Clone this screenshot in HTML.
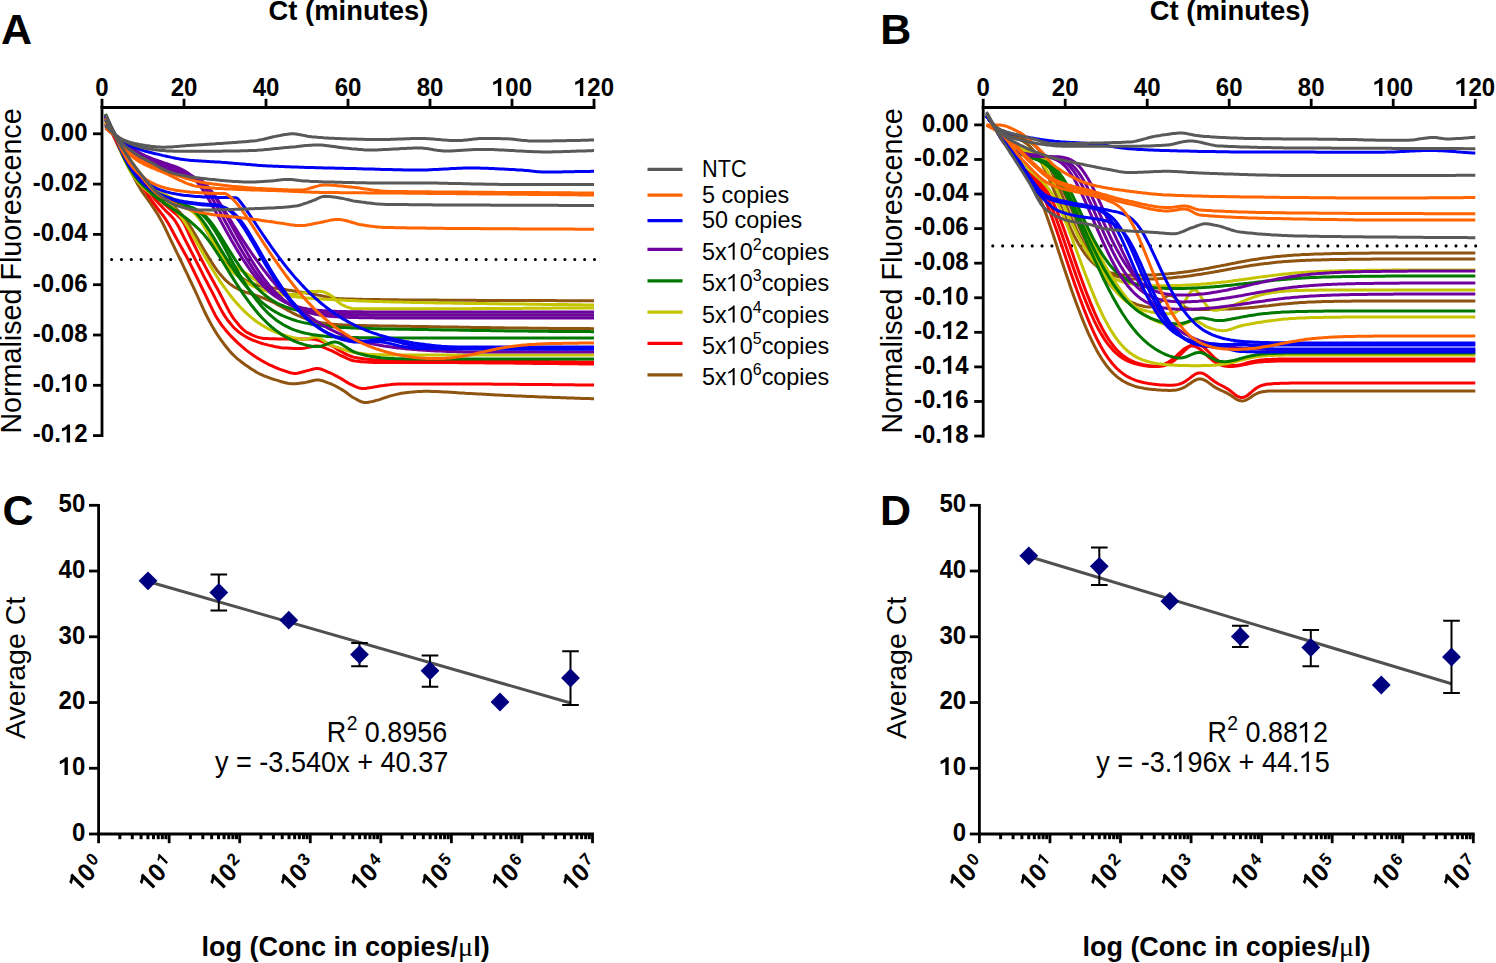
<!DOCTYPE html>
<html><head><meta charset="utf-8"><style>
html,body{margin:0;padding:0;background:#fff;}
svg{display:block;}
</style></head><body>
<svg width="1496" height="963" viewBox="0 0 1496 963">
<rect width="1496" height="963" fill="#fff"/>
<path d="M111.60 259.55 H595.00" stroke="#000" stroke-width="3.1" stroke-linecap="round" stroke-dasharray="0.01 9.845" fill="none"/>
<path d="M992.80 245.90 H1476.20" stroke="#000" stroke-width="3.1" stroke-linecap="round" stroke-dasharray="0.01 9.845" fill="none"/>
<path d="M105.5 115.0 107.5 120.3 109.5 125.6 111.5 130.8 113.5 135.6 115.5 140.2 117.5 144.6 119.5 148.9 121.5 153.1 123.5 157.2 125.5 161.2 127.5 165.2 129.5 169.0 131.5 172.8 133.5 176.6 135.5 180.3 137.5 184.0 139.5 187.4 141.5 190.7 143.5 193.7 145.5 196.4 147.5 199.2 149.5 201.9 151.5 204.8 153.5 207.8 155.5 210.9 157.5 214.0 159.5 217.4 161.5 220.9 163.5 224.8 165.5 228.9 167.5 233.2 169.5 237.4 171.5 241.6 173.5 245.7 175.5 249.8 177.5 253.9 179.5 258.0 181.5 262.2 183.5 266.4 185.5 270.6 187.5 274.7 189.5 279.0 191.5 283.2 193.5 287.4 195.5 291.6 197.5 296.0 199.5 300.5 201.5 304.9 203.5 309.3 205.5 313.5 207.5 317.5 209.5 321.3 211.5 324.9 213.5 328.4 215.5 331.7 217.5 334.9 219.5 337.9 221.5 340.7 223.5 343.4 225.5 346.0 227.5 348.5 229.5 350.9 231.5 353.1 233.5 355.1 235.5 357.0 237.5 358.8 239.5 360.4 241.5 362.0 243.5 363.5 245.5 365.0 247.5 366.3 249.5 367.7 251.5 369.1 253.5 370.3 255.5 371.6 257.5 372.7 259.5 373.8 261.5 374.7 263.5 375.6 265.5 376.4 267.5 377.2 269.5 377.9 271.5 378.6 273.5 379.3 275.5 379.9 277.5 380.4 279.5 381.1 281.5 381.7 283.5 382.3 285.5 382.8 287.5 383.3 289.5 383.6 291.5 383.8 293.5 383.8 295.5 383.7 297.5 383.5 299.5 383.3 301.5 383.0 303.5 382.7 305.5 382.4 307.5 382.0 309.5 381.5 311.5 381.0 313.5 380.5 315.5 380.1 317.5 380.0 319.5 380.1 321.5 380.5 323.5 381.1 325.5 381.8 327.5 382.6 329.5 383.3 331.5 384.1 333.5 385.0 335.5 386.0 337.5 387.1 339.5 388.2 341.5 389.4 343.5 390.6 345.5 392.0 347.5 393.5 349.5 395.1 351.5 396.5 353.5 397.7 355.5 398.8 357.5 399.9 359.5 401.0 361.5 401.8 363.5 402.4 365.5 402.5 367.5 402.4 369.5 402.1 371.5 401.6 373.5 401.2 375.5 400.6 377.5 400.1 379.5 399.6 381.5 398.9 383.5 398.2 385.5 397.5 387.5 396.8 389.5 396.1 391.5 395.6 393.5 395.1 395.5 394.6 397.5 394.1 399.5 393.7 401.5 393.3 403.5 393.0 405.5 392.7 407.5 392.4 409.5 392.2 411.5 392.1 413.5 391.9 415.5 391.7 417.5 391.6 419.5 391.4 421.5 391.4 423.5 391.3 425.5 391.3 427.5 391.3 429.5 391.3 431.5 391.4 433.5 391.4 435.5 391.5 437.5 391.6 439.5 391.7 441.5 391.8 443.5 391.9 445.5 392.0 447.5 392.1 449.5 392.2 451.5 392.3 453.5 392.5 455.5 392.6 457.5 392.7 459.5 392.9 461.5 393.0 463.5 393.1 465.5 393.3 467.5 393.4 469.5 393.5 471.5 393.6 473.5 393.7 475.5 393.8 477.5 393.9 479.5 394.0 481.5 394.1 483.5 394.2 485.5 394.3 487.5 394.4 489.5 394.5 491.5 394.7 493.5 394.8 495.5 394.9 497.5 395.0 499.5 395.1 501.5 395.2 503.5 395.3 505.5 395.4 507.5 395.5 509.5 395.6 511.5 395.7 513.5 395.8 515.5 395.9 517.5 396.0 519.5 396.1 521.5 396.1 523.5 396.2 525.5 396.3 527.5 396.4 529.5 396.5 531.5 396.6 533.5 396.6 535.5 396.7 537.5 396.8 539.5 396.9 541.5 397.0 543.5 397.0 545.5 397.1 547.5 397.2 549.5 397.3 551.5 397.3 553.5 397.4 555.5 397.5 557.5 397.5 559.5 397.6 561.5 397.7 563.5 397.7 565.5 397.8 567.5 397.9 569.5 397.9 571.5 398.0 573.5 398.1 575.5 398.2 577.5 398.2 579.5 398.3 581.5 398.4 583.5 398.4 585.5 398.5 587.5 398.6 589.5 398.6 591.5 398.7 593.5 398.8 594.0 398.8" fill="none" stroke="#8e5410" stroke-width="3.0" stroke-linejoin="round" stroke-linecap="butt"/>
<path d="M105.5 121.0 107.5 124.0 109.5 127.0 111.5 130.1 113.5 133.1 115.5 136.2 117.5 139.4 119.5 142.8 121.5 146.2 123.5 149.7 125.5 153.0 127.5 156.3 129.5 159.3 131.5 162.1 133.5 164.8 135.5 167.5 137.5 170.2 139.5 172.7 141.5 175.1 143.5 177.4 145.5 179.6 147.5 181.7 149.5 183.6 151.5 185.3 153.5 186.9 155.5 188.4 157.5 189.9 159.5 191.3 161.5 192.6 163.5 193.9 165.5 195.1 167.5 196.4 169.5 197.6 171.5 198.8 173.5 200.1 175.5 201.3 177.5 202.5 179.5 203.6 181.5 204.6 183.5 205.6 185.5 206.6 187.5 207.7 189.5 208.9 191.5 210.2 193.5 211.7 195.5 213.5 197.5 215.7 199.5 218.4 201.5 221.6 203.5 225.0 205.5 228.6 207.5 232.3 209.5 235.8 211.5 239.2 213.5 242.4 215.5 245.8 217.5 249.2 219.5 252.6 221.5 255.9 223.5 259.0 225.5 261.9 227.5 264.4 229.5 266.7 231.5 268.8 233.5 270.9 235.5 272.8 237.5 274.6 239.5 276.3 241.5 277.8 243.5 279.1 245.5 280.3 247.5 281.3 249.5 282.3 251.5 283.2 253.5 284.0 255.5 284.8 257.5 285.4 259.5 285.9 261.5 286.3 263.5 286.7 265.5 287.0 267.5 287.2 269.5 287.5 271.5 287.7 273.5 288.0 275.5 288.2 277.5 288.5 279.5 288.7 281.5 289.0 283.5 289.3 285.5 289.6 287.5 290.0 289.5 290.3 291.5 290.6 293.5 290.9 295.5 291.3 297.5 291.6 299.5 291.9 301.5 292.2 303.5 292.6 305.5 292.9 307.5 293.2 309.5 293.6 311.5 293.9 313.5 294.2 315.5 294.6 317.5 295.0 319.5 295.4 321.5 295.8 323.5 296.2 325.5 296.6 327.5 297.0 329.5 297.4 331.5 297.7 333.5 298.0 335.5 298.3 337.5 298.5 339.5 298.7 341.5 298.8 343.5 298.8 345.5 298.9 347.5 299.0 349.5 299.0 351.5 299.1 353.5 299.1 355.5 299.2 357.5 299.2 359.5 299.3 361.5 299.3 363.5 299.4 365.5 299.4 367.5 299.4 369.5 299.5 371.5 299.5 373.5 299.5 375.5 299.6 377.5 299.6 379.5 299.6 381.5 299.7 383.5 299.7 385.5 299.7 387.5 299.7 389.5 299.8 391.5 299.8 393.5 299.8 395.5 299.8 397.5 299.8 399.5 299.9 401.5 299.9 403.5 299.9 405.5 299.9 407.5 299.9 409.5 299.9 411.5 300.0 413.5 300.0 415.5 300.0 417.5 300.0 419.5 300.0 421.5 300.0 423.5 300.0 425.5 300.1 427.5 300.1 429.5 300.1 431.5 300.1 433.5 300.1 435.5 300.1 437.5 300.1 439.5 300.2 441.5 300.2 443.5 300.2 445.5 300.2 447.5 300.2 449.5 300.2 451.5 300.2 453.5 300.2 455.5 300.2 457.5 300.3 459.5 300.3 461.5 300.3 463.5 300.3 465.5 300.3 467.5 300.3 469.5 300.3 471.5 300.3 473.5 300.3 475.5 300.3 477.5 300.4 479.5 300.4 481.5 300.4 483.5 300.4 485.5 300.4 487.5 300.4 489.5 300.4 491.5 300.4 493.5 300.4 495.5 300.4 497.5 300.4 499.5 300.4 501.5 300.5 503.5 300.5 505.5 300.5 507.5 300.5 509.5 300.5 511.5 300.5 513.5 300.5 515.5 300.5 517.5 300.5 519.5 300.5 521.5 300.5 523.5 300.5 525.5 300.5 527.5 300.5 529.5 300.6 531.5 300.6 533.5 300.6 535.5 300.6 537.5 300.6 539.5 300.6 541.5 300.6 543.5 300.6 545.5 300.6 547.5 300.6 549.5 300.6 551.5 300.6 553.5 300.6 555.5 300.6 557.5 300.7 559.5 300.7 561.5 300.7 563.5 300.7 565.5 300.7 567.5 300.7 569.5 300.7 571.5 300.7 573.5 300.7 575.5 300.7 577.5 300.7 579.5 300.7 581.5 300.7 583.5 300.8 585.5 300.8 587.5 300.8 589.5 300.8 591.5 300.8 593.5 300.8 594.0 300.8" fill="none" stroke="#8e5410" stroke-width="3.0" stroke-linejoin="round" stroke-linecap="butt"/>
<path d="M105.5 116.0 107.5 120.0 109.5 124.0 111.5 128.0 113.5 132.0 115.5 136.0 117.5 141.6 119.5 147.2 121.5 152.3 123.5 157.0 125.5 161.2 127.5 165.1 129.5 168.7 131.5 172.0 133.5 174.9 135.5 177.7 137.5 180.1 139.5 182.4 141.5 184.5 143.5 186.4 145.5 188.2 147.5 189.8 149.5 191.3 151.5 192.7 153.5 194.0 155.5 195.3 157.5 196.5 159.5 197.6 161.5 198.8 163.5 199.9 165.5 201.1 167.5 202.3 169.5 203.6 171.5 204.9 173.5 206.5 175.5 208.2 177.5 210.0 179.5 212.1 181.5 214.3 183.5 216.8 185.5 219.5 187.5 222.3 189.5 225.3 191.5 228.5 193.5 231.8 195.5 235.1 197.5 238.5 199.5 242.0 201.5 245.4 203.5 248.9 205.5 252.3 207.5 255.6 209.5 258.9 211.5 262.1 213.5 265.1 215.5 268.0 217.5 270.8 219.5 273.4 221.5 275.8 223.5 278.0 225.5 280.1 227.5 281.9 229.5 283.6 231.5 285.1 233.5 286.5 235.5 287.7 237.5 288.7 239.5 289.7 241.5 290.6 243.5 291.3 245.5 292.1 247.5 292.8 249.5 293.4 251.5 294.1 253.5 294.7 255.5 295.3 257.5 296.0 259.5 296.7 261.5 297.4 263.5 298.1 265.5 298.9 267.5 299.8 269.5 300.6 271.5 301.6 273.5 302.5 275.5 303.5 277.5 304.6 279.5 305.6 281.5 306.7 283.5 307.9 285.5 309.0 287.5 310.1 289.5 311.2 291.5 312.3 293.5 313.3 295.5 314.3 297.5 315.3 299.5 316.2 301.5 317.1 303.5 317.9 305.5 318.6 307.5 319.3 309.5 320.0 311.5 320.5 313.5 321.1 315.5 321.6 317.5 322.0 319.5 322.4 321.5 322.8 323.5 323.1 325.5 323.4 327.5 323.6 329.5 323.9 331.5 324.1 333.5 324.2 335.5 324.4 337.5 324.6 339.5 324.7 341.5 324.8 343.5 324.9 345.5 325.0 347.5 325.1 349.5 325.2 351.5 325.3 353.5 325.3 355.5 325.4 357.5 325.4 359.5 325.5 361.5 325.5 363.5 325.6 365.5 325.6 367.5 325.7 369.5 325.7 371.5 325.7 373.5 325.8 375.5 325.8 377.5 325.8 379.5 325.9 381.5 325.9 383.5 325.9 385.5 326.0 387.5 326.0 389.5 326.0 391.5 326.1 393.5 326.1 395.5 326.1 397.5 326.2 399.5 326.2 401.5 326.2 403.5 326.2 405.5 326.3 407.5 326.3 409.5 326.3 411.5 326.4 413.5 326.4 415.5 326.4 417.5 326.5 419.5 326.5 421.5 326.5 423.5 326.6 425.5 326.6 427.5 326.6 429.5 326.7 431.5 326.7 433.5 326.7 435.5 326.8 437.5 326.8 439.5 326.8 441.5 326.9 443.5 326.9 445.5 326.9 447.5 327.0 449.5 327.0 451.5 327.0 453.5 327.1 455.5 327.1 457.5 327.1 459.5 327.2 461.5 327.2 463.5 327.2 465.5 327.3 467.5 327.3 469.5 327.3 471.5 327.4 473.5 327.4 475.5 327.4 477.5 327.4 479.5 327.5 481.5 327.5 483.5 327.5 485.5 327.6 487.5 327.6 489.5 327.6 491.5 327.7 493.5 327.7 495.5 327.7 497.5 327.8 499.5 327.8 501.5 327.8 503.5 327.8 505.5 327.9 507.5 327.9 509.5 327.9 511.5 327.9 513.5 328.0 515.5 328.0 517.5 328.0 519.5 328.0 521.5 328.1 523.5 328.1 525.5 328.1 527.5 328.1 529.5 328.2 531.5 328.2 533.5 328.2 535.5 328.2 537.5 328.2 539.5 328.3 541.5 328.3 543.5 328.3 545.5 328.3 547.5 328.3 549.5 328.4 551.5 328.4 553.5 328.4 555.5 328.4 557.5 328.4 559.5 328.4 561.5 328.5 563.5 328.5 565.5 328.5 567.5 328.5 569.5 328.5 571.5 328.5 573.5 328.5 575.5 328.6 577.5 328.6 579.5 328.6 581.5 328.6 583.5 328.6 585.5 328.6 587.5 328.6 589.5 328.6 591.5 328.7 593.5 328.7 594.0 328.7" fill="none" stroke="#8e5410" stroke-width="3.0" stroke-linejoin="round" stroke-linecap="butt"/>
<path d="M105.5 126.0 107.5 127.9 109.5 129.7 111.5 131.9 113.5 134.9 115.5 139.1 117.5 143.7 119.5 148.0 121.5 151.7 123.5 155.2 125.5 158.5 127.5 161.8 129.5 165.2 131.5 168.6 133.5 172.0 135.5 175.5 137.5 178.9 139.5 182.2 141.5 185.4 143.5 188.4 145.5 191.4 147.5 194.4 149.5 197.3 151.5 200.1 153.5 202.9 155.5 205.6 157.5 208.3 159.5 211.0 161.5 213.6 163.5 216.2 165.5 219.0 167.5 222.1 169.5 225.5 171.5 229.2 173.5 233.0 175.5 236.7 177.5 240.4 179.5 244.0 181.5 247.6 183.5 251.2 185.5 254.8 187.5 258.5 189.5 262.4 191.5 266.4 193.5 270.5 195.5 274.6 197.5 278.7 199.5 282.9 201.5 287.0 203.5 291.0 205.5 295.1 207.5 299.4 209.5 303.6 211.5 307.7 213.5 311.7 215.5 315.5 217.5 318.9 219.5 321.9 221.5 324.8 223.5 327.4 225.5 329.9 227.5 332.2 229.5 334.5 231.5 336.6 233.5 338.6 235.5 340.6 237.5 342.6 239.5 344.4 241.5 346.2 243.5 347.9 245.5 349.6 247.5 351.1 249.5 352.6 251.5 354.1 253.5 355.4 255.5 356.8 257.5 358.1 259.5 359.3 261.5 360.5 263.5 361.6 265.5 362.7 267.5 363.8 269.5 364.8 271.5 365.7 273.5 366.6 275.5 367.5 277.5 368.3 279.5 369.1 281.5 369.8 283.5 370.5 285.5 371.2 287.5 371.8 289.5 372.5 291.5 373.0 293.5 373.4 295.5 373.5 297.5 373.3 299.5 372.8 301.5 372.3 303.5 371.7 305.5 371.1 307.5 370.6 309.5 370.1 311.5 369.5 313.5 369.0 315.5 368.6 317.5 368.5 319.5 368.7 321.5 369.3 323.5 370.0 325.5 370.9 327.5 371.8 329.5 372.6 331.5 373.5 333.5 374.5 335.5 375.6 337.5 376.6 339.5 377.7 341.5 378.9 343.5 380.1 345.5 381.4 347.5 382.6 349.5 383.8 351.5 384.7 353.5 385.7 355.5 386.6 357.5 387.4 359.5 388.1 361.5 388.4 363.5 388.5 365.5 388.4 367.5 388.1 369.5 387.8 371.5 387.5 373.5 387.1 375.5 386.7 377.5 386.4 379.5 386.1 381.5 385.8 383.5 385.6 385.5 385.3 387.5 385.0 389.5 384.8 391.5 384.5 393.5 384.3 395.5 384.2 397.5 384.1 399.5 384.0 401.5 384.0 403.5 384.0 405.5 384.0 407.5 384.0 409.5 384.0 411.5 384.0 413.5 384.0 415.5 384.0 417.5 384.0 419.5 384.0 421.5 384.0 423.5 384.0 425.5 384.0 427.5 384.0 429.5 384.0 431.5 384.0 433.5 384.0 435.5 384.0 437.5 384.0 439.5 384.0 441.5 384.0 443.5 384.0 445.5 384.0 447.5 384.0 449.5 384.0 451.5 384.0 453.5 384.0 455.5 384.0 457.5 384.0 459.5 384.0 461.5 384.0 463.5 384.0 465.5 384.0 467.5 384.0 469.5 384.0 471.5 384.0 473.5 384.0 475.5 384.1 477.5 384.1 479.5 384.1 481.5 384.1 483.5 384.1 485.5 384.1 487.5 384.1 489.5 384.1 491.5 384.1 493.5 384.2 495.5 384.2 497.5 384.2 499.5 384.2 501.5 384.2 503.5 384.2 505.5 384.2 507.5 384.3 509.5 384.3 511.5 384.3 513.5 384.3 515.5 384.3 517.5 384.3 519.5 384.4 521.5 384.4 523.5 384.4 525.5 384.4 527.5 384.4 529.5 384.4 531.5 384.5 533.5 384.5 535.5 384.5 537.5 384.5 539.5 384.5 541.5 384.6 543.5 384.6 545.5 384.6 547.5 384.6 549.5 384.6 551.5 384.6 553.5 384.7 555.5 384.7 557.5 384.7 559.5 384.7 561.5 384.7 563.5 384.8 565.5 384.8 567.5 384.8 569.5 384.8 571.5 384.8 573.5 384.8 575.5 384.9 577.5 384.9 579.5 384.9 581.5 384.9 583.5 384.9 585.5 384.9 587.5 385.0 589.5 385.0 591.5 385.0 593.5 385.0 594.0 385.0" fill="none" stroke="#fa0000" stroke-width="3.0" stroke-linejoin="round" stroke-linecap="butt"/>
<path d="M105.5 117.0 107.5 121.9 109.5 126.8 111.5 131.4 113.5 135.5 115.5 139.4 117.5 143.0 119.5 146.5 121.5 149.8 123.5 153.1 125.5 156.2 127.5 159.2 129.5 162.2 131.5 165.2 133.5 168.3 135.5 171.5 137.5 174.6 139.5 177.7 141.5 180.8 143.5 183.7 145.5 186.6 147.5 189.4 149.5 192.2 151.5 194.8 153.5 197.4 155.5 199.8 157.5 202.0 159.5 204.2 161.5 206.3 163.5 208.5 165.5 210.5 167.5 212.5 169.5 214.4 171.5 216.4 173.5 218.7 175.5 221.4 177.5 224.8 179.5 228.5 181.5 232.5 183.5 236.6 185.5 240.5 187.5 244.3 189.5 248.2 191.5 252.1 193.5 256.0 195.5 259.9 197.5 263.8 199.5 267.7 201.5 271.6 203.5 275.6 205.5 279.5 207.5 283.3 209.5 287.2 211.5 290.9 213.5 294.8 215.5 298.8 217.5 302.8 219.5 306.7 221.5 310.4 223.5 313.9 225.5 317.2 227.5 320.0 229.5 322.5 231.5 324.9 233.5 327.2 235.5 329.2 237.5 331.0 239.5 332.6 241.5 334.0 243.5 335.3 245.5 336.5 247.5 337.6 249.5 338.6 251.5 339.6 253.5 340.4 255.5 341.2 257.5 341.9 259.5 342.6 261.5 343.3 263.5 343.9 265.5 344.4 267.5 344.9 269.5 345.4 271.5 345.8 273.5 346.3 275.5 346.7 277.5 347.0 279.5 347.4 281.5 347.7 283.5 347.9 285.5 348.0 287.5 348.1 289.5 348.2 291.5 348.3 293.5 348.4 295.5 348.4 297.5 348.5 299.5 348.5 301.5 348.4 303.5 348.2 305.5 347.9 307.5 347.5 309.5 347.1 311.5 346.7 313.5 346.3 315.5 346.1 317.5 346.0 319.5 346.2 321.5 346.6 323.5 347.3 325.5 348.1 327.5 349.0 329.5 349.8 331.5 350.6 333.5 351.6 335.5 352.7 337.5 353.7 339.5 354.8 341.5 355.8 343.5 356.7 345.5 357.6 347.5 358.6 349.5 359.5 351.5 360.2 353.5 360.8 355.5 361.1 357.5 361.3 359.5 361.5 361.5 361.7 363.5 361.8 365.5 362.0 367.5 362.1 369.5 362.2 371.5 362.3 373.5 362.4 375.5 362.4 377.5 362.5 379.5 362.5 381.5 362.5 383.5 362.5 385.5 362.5 387.5 362.5 389.5 362.5 391.5 362.5 393.5 362.5 395.5 362.5 397.5 362.5 399.5 362.5 401.5 362.5 403.5 362.5 405.5 362.5 407.5 362.5 409.5 362.5 411.5 362.5 413.5 362.5 415.5 362.5 417.5 362.5 419.5 362.5 421.5 362.5 423.5 362.5 425.5 362.5 427.5 362.5 429.5 362.5 431.5 362.5 433.5 362.5 435.5 362.5 437.5 362.5 439.5 362.5 441.5 362.6 443.5 362.6 445.5 362.6 447.5 362.6 449.5 362.6 451.5 362.6 453.5 362.6 455.5 362.6 457.5 362.6 459.5 362.7 461.5 362.7 463.5 362.7 465.5 362.7 467.5 362.7 469.5 362.7 471.5 362.7 473.5 362.8 475.5 362.8 477.5 362.8 479.5 362.8 481.5 362.8 483.5 362.8 485.5 362.9 487.5 362.9 489.5 362.9 491.5 362.9 493.5 362.9 495.5 363.0 497.5 363.0 499.5 363.0 501.5 363.0 503.5 363.0 505.5 363.1 507.5 363.1 509.5 363.1 511.5 363.1 513.5 363.1 515.5 363.2 517.5 363.2 519.5 363.2 521.5 363.2 523.5 363.3 525.5 363.3 527.5 363.3 529.5 363.3 531.5 363.3 533.5 363.4 535.5 363.4 537.5 363.4 539.5 363.4 541.5 363.5 543.5 363.5 545.5 363.5 547.5 363.5 549.5 363.6 551.5 363.6 553.5 363.6 555.5 363.6 557.5 363.6 559.5 363.7 561.5 363.7 563.5 363.7 565.5 363.7 567.5 363.7 569.5 363.8 571.5 363.8 573.5 363.8 575.5 363.8 577.5 363.8 579.5 363.9 581.5 363.9 583.5 363.9 585.5 363.9 587.5 363.9 589.5 364.0 591.5 364.0 593.5 364.0 594.0 364.0" fill="none" stroke="#fa0000" stroke-width="3.0" stroke-linejoin="round" stroke-linecap="butt"/>
<path d="M105.5 124.0 107.5 126.6 109.5 129.1 111.5 131.8 113.5 134.8 115.5 138.1 117.5 141.5 119.5 145.0 121.5 148.2 123.5 151.3 125.5 154.2 127.5 157.0 129.5 159.7 131.5 162.5 133.5 165.3 135.5 168.1 137.5 171.0 139.5 173.9 141.5 176.8 143.5 179.6 145.5 182.3 147.5 185.0 149.5 187.7 151.5 190.3 153.5 192.8 155.5 195.2 157.5 197.5 159.5 199.5 161.5 201.5 163.5 203.3 165.5 205.0 167.5 206.8 169.5 208.5 171.5 210.3 173.5 212.0 175.5 213.6 177.5 215.4 179.5 217.3 181.5 219.6 183.5 222.6 185.5 226.4 187.5 230.8 189.5 235.2 191.5 239.5 193.5 243.5 195.5 247.6 197.5 251.6 199.5 255.6 201.5 259.5 203.5 263.3 205.5 267.1 207.5 270.8 209.5 274.5 211.5 278.2 213.5 281.8 215.5 285.5 217.5 289.1 219.5 292.8 221.5 296.6 223.5 300.5 225.5 304.4 227.5 308.3 229.5 311.9 231.5 315.3 233.5 318.3 235.5 320.9 237.5 323.3 239.5 325.7 241.5 327.9 243.5 329.8 245.5 331.4 247.5 332.7 249.5 333.7 251.5 334.7 253.5 335.6 255.5 336.4 257.5 337.1 259.5 337.6 261.5 338.1 263.5 338.4 265.5 338.5 267.5 338.6 269.5 338.7 271.5 338.7 273.5 338.8 275.5 338.8 277.5 338.9 279.5 338.9 281.5 338.9 283.5 339.0 285.5 339.0 287.5 339.0 289.5 339.0 291.5 339.0 293.5 339.0 295.5 339.0 297.5 339.0 299.5 339.0 301.5 339.0 303.5 339.0 305.5 339.0 307.5 339.0 309.5 339.0 311.5 339.0 313.5 339.2 315.5 339.5 317.5 340.0 319.5 340.6 321.5 341.4 323.5 342.2 325.5 343.1 327.5 343.9 329.5 344.8 331.5 345.7 333.5 346.8 335.5 348.1 337.5 349.4 339.5 350.6 341.5 351.7 343.5 352.8 345.5 353.8 347.5 354.8 349.5 355.7 351.5 356.5 353.5 357.2 355.5 357.6 357.5 357.9 359.5 358.2 361.5 358.5 363.5 358.8 365.5 359.0 367.5 359.2 369.5 359.4 371.5 359.6 373.5 359.7 375.5 359.8 377.5 359.9 379.5 360.0 381.5 360.0 383.5 360.1 385.5 360.1 387.5 360.2 389.5 360.2 391.5 360.2 393.5 360.3 395.5 360.3 397.5 360.3 399.5 360.3 401.5 360.3 403.5 360.4 405.5 360.4 407.5 360.4 409.5 360.4 411.5 360.4 413.5 360.5 415.5 360.5 417.5 360.5 419.5 360.5 421.5 360.5 423.5 360.6 425.5 360.6 427.5 360.6 429.5 360.6 431.5 360.7 433.5 360.7 435.5 360.7 437.5 360.7 439.5 360.7 441.5 360.8 443.5 360.8 445.5 360.8 447.5 360.8 449.5 360.8 451.5 360.8 453.5 360.9 455.5 360.9 457.5 360.9 459.5 360.9 461.5 360.9 463.5 361.0 465.5 361.0 467.5 361.0 469.5 361.0 471.5 361.0 473.5 361.0 475.5 361.1 477.5 361.1 479.5 361.1 481.5 361.1 483.5 361.1 485.5 361.1 487.5 361.2 489.5 361.2 491.5 361.2 493.5 361.2 495.5 361.2 497.5 361.2 499.5 361.3 501.5 361.3 503.5 361.3 505.5 361.3 507.5 361.3 509.5 361.3 511.5 361.4 513.5 361.4 515.5 361.4 517.5 361.4 519.5 361.4 521.5 361.4 523.5 361.4 525.5 361.5 527.5 361.5 529.5 361.5 531.5 361.5 533.5 361.5 535.5 361.5 537.5 361.6 539.5 361.6 541.5 361.6 543.5 361.6 545.5 361.6 547.5 361.6 549.5 361.6 551.5 361.7 553.5 361.7 555.5 361.7 557.5 361.7 559.5 361.7 561.5 361.7 563.5 361.8 565.5 361.8 567.5 361.8 569.5 361.8 571.5 361.8 573.5 361.8 575.5 361.8 577.5 361.9 579.5 361.9 581.5 361.9 583.5 361.9 585.5 361.9 587.5 361.9 589.5 362.0 591.5 362.0 593.5 362.0 594.0 362.0" fill="none" stroke="#fa0000" stroke-width="3.0" stroke-linejoin="round" stroke-linecap="butt"/>
<path d="M105.5 119.0 107.5 122.4 109.5 125.9 111.5 129.3 113.5 132.8 115.5 136.2 117.5 139.5 119.5 143.0 121.5 146.4 123.5 149.8 125.5 153.1 127.5 156.3 129.5 159.3 131.5 162.1 133.5 164.9 135.5 167.6 137.5 170.2 139.5 172.8 141.5 175.2 143.5 177.5 145.5 179.7 147.5 181.7 149.5 183.6 151.5 185.2 153.5 186.8 155.5 188.2 157.5 189.6 159.5 190.9 161.5 192.1 163.5 193.3 165.5 194.5 167.5 195.6 169.5 196.7 171.5 197.9 173.5 199.1 175.5 200.3 177.5 201.5 179.5 202.5 181.5 203.5 183.5 204.5 185.5 205.6 187.5 206.7 189.5 207.9 191.5 209.2 193.5 210.7 195.5 212.5 197.5 214.7 199.5 217.5 201.5 220.7 203.5 224.2 205.5 227.7 207.5 231.2 209.5 234.7 211.5 238.6 213.5 242.8 215.5 246.8 217.5 250.4 219.5 253.4 221.5 255.6 223.5 257.6 225.5 259.3 227.5 260.8 229.5 262.3 231.5 263.7 233.5 265.0 235.5 266.4 237.5 267.8 239.5 269.2 241.5 270.5 243.5 271.8 245.5 273.0 247.5 274.3 249.5 275.6 251.5 277.0 253.5 278.5 255.5 280.1 257.5 281.8 259.5 283.5 261.5 285.0 263.5 286.5 265.5 287.7 267.5 288.7 269.5 289.6 271.5 290.4 273.5 291.2 275.5 291.9 277.5 292.5 279.5 293.0 281.5 293.4 283.5 293.6 285.5 293.9 287.5 294.1 289.5 294.3 291.5 294.4 293.5 294.5 295.5 294.5 297.5 294.3 299.5 293.8 301.5 293.3 303.5 292.9 305.5 292.5 307.5 292.0 309.5 291.6 311.5 291.5 313.5 291.4 315.5 291.4 317.5 291.3 319.5 291.3 321.5 291.4 323.5 291.9 325.5 292.7 327.5 293.7 329.5 294.7 331.5 295.9 333.5 297.5 335.5 299.4 337.5 301.3 339.5 303.1 341.5 304.5 343.5 305.4 345.5 306.3 347.5 307.1 349.5 307.8 351.5 308.4 353.5 308.7 355.5 308.8 357.5 308.8 359.5 308.8 361.5 308.8 363.5 308.8 365.5 308.8 367.5 308.8 369.5 308.8 371.5 308.8 373.5 308.8 375.5 308.8 377.5 308.8 379.5 308.8 381.5 308.8 383.5 308.8 385.5 308.8 387.5 308.8 389.5 308.8 391.5 308.8 393.5 308.8 395.5 308.8 397.5 308.8 399.5 308.8 401.5 308.8 403.5 308.8 405.5 308.8 407.5 308.8 409.5 308.8 411.5 308.8 413.5 308.8 415.5 308.8 417.5 308.8 419.5 308.8 421.5 308.8 423.5 308.8 425.5 308.8 427.5 308.8 429.5 308.8 431.5 308.8 433.5 308.8 435.5 308.8 437.5 308.8 439.5 308.8 441.5 308.8 443.5 308.8 445.5 308.8 447.5 308.8 449.5 308.7 451.5 308.7 453.5 308.7 455.5 308.7 457.5 308.7 459.5 308.7 461.5 308.7 463.5 308.7 465.5 308.7 467.5 308.7 469.5 308.7 471.5 308.7 473.5 308.6 475.5 308.6 477.5 308.6 479.5 308.6 481.5 308.6 483.5 308.6 485.5 308.6 487.5 308.6 489.5 308.6 491.5 308.5 493.5 308.5 495.5 308.5 497.5 308.5 499.5 308.5 501.5 308.5 503.5 308.5 505.5 308.5 507.5 308.4 509.5 308.4 511.5 308.4 513.5 308.4 515.5 308.4 517.5 308.4 519.5 308.4 521.5 308.4 523.5 308.3 525.5 308.3 527.5 308.3 529.5 308.3 531.5 308.3 533.5 308.3 535.5 308.3 537.5 308.2 539.5 308.2 541.5 308.2 543.5 308.2 545.5 308.2 547.5 308.2 549.5 308.2 551.5 308.2 553.5 308.1 555.5 308.1 557.5 308.1 559.5 308.1 561.5 308.1 563.5 308.1 565.5 308.1 567.5 308.1 569.5 308.0 571.5 308.0 573.5 308.0 575.5 308.0 577.5 308.0 579.5 308.0 581.5 308.0 583.5 308.0 585.5 307.9 587.5 307.9 589.5 307.9 591.5 307.9 593.5 307.9 594.0 307.9" fill="none" stroke="#c4c400" stroke-width="3.0" stroke-linejoin="round" stroke-linecap="butt"/>
<path d="M105.5 122.0 107.5 124.8 109.5 127.6 111.5 130.4 113.5 133.3 115.5 136.2 117.5 139.4 119.5 142.7 121.5 146.1 123.5 149.6 125.5 153.0 127.5 156.3 129.5 159.3 131.5 162.1 133.5 164.8 135.5 167.5 137.5 170.2 139.5 172.7 141.5 175.1 143.5 177.4 145.5 179.6 147.5 181.7 149.5 183.6 151.5 185.3 153.5 186.9 155.5 188.4 157.5 189.8 159.5 191.2 161.5 192.5 163.5 193.8 165.5 195.0 167.5 196.3 169.5 197.5 171.5 198.7 173.5 200.0 175.5 201.3 177.5 202.6 179.5 203.8 181.5 204.9 183.5 206.0 185.5 207.2 187.5 208.4 189.5 209.7 191.5 211.1 193.5 212.7 195.5 214.5 197.5 216.6 199.5 219.2 201.5 222.0 203.5 225.1 205.5 228.4 207.5 231.8 209.5 235.2 211.5 238.7 213.5 242.8 215.5 247.1 217.5 251.3 219.5 255.3 221.5 258.7 223.5 261.4 225.5 264.0 227.5 266.4 229.5 268.6 231.5 270.7 233.5 272.6 235.5 274.4 237.5 276.1 239.5 277.6 241.5 279.1 243.5 280.4 245.5 281.8 247.5 283.0 249.5 284.2 251.5 285.3 253.5 286.3 255.5 287.2 257.5 288.1 259.5 288.8 261.5 289.5 263.5 290.1 265.5 290.7 267.5 291.3 269.5 291.9 271.5 292.4 273.5 292.9 275.5 293.4 277.5 293.8 279.5 294.2 281.5 294.6 283.5 295.0 285.5 295.3 287.5 295.6 289.5 295.9 291.5 296.2 293.5 296.5 295.5 296.7 297.5 297.0 299.5 297.2 301.5 297.4 303.5 297.7 305.5 297.9 307.5 298.1 309.5 298.2 311.5 298.4 313.5 298.6 315.5 298.7 317.5 298.8 319.5 299.0 321.5 299.1 323.5 299.2 325.5 299.3 327.5 299.4 329.5 299.5 331.5 299.6 333.5 299.7 335.5 299.8 337.5 299.9 339.5 300.0 341.5 300.1 343.5 300.2 345.5 300.3 347.5 300.4 349.5 300.5 351.5 300.6 353.5 300.6 355.5 300.7 357.5 300.8 359.5 300.9 361.5 300.9 363.5 301.0 365.5 301.1 367.5 301.2 369.5 301.2 371.5 301.3 373.5 301.4 375.5 301.4 377.5 301.5 379.5 301.6 381.5 301.6 383.5 301.7 385.5 301.7 387.5 301.8 389.5 301.8 391.5 301.9 393.5 301.9 395.5 302.0 397.5 302.0 399.5 302.1 401.5 302.1 403.5 302.2 405.5 302.2 407.5 302.3 409.5 302.3 411.5 302.4 413.5 302.4 415.5 302.5 417.5 302.5 419.5 302.6 421.5 302.6 423.5 302.6 425.5 302.7 427.5 302.7 429.5 302.8 431.5 302.8 433.5 302.8 435.5 302.9 437.5 302.9 439.5 302.9 441.5 303.0 443.5 303.0 445.5 303.0 447.5 303.1 449.5 303.1 451.5 303.1 453.5 303.2 455.5 303.2 457.5 303.2 459.5 303.3 461.5 303.3 463.5 303.3 465.5 303.4 467.5 303.4 469.5 303.4 471.5 303.5 473.5 303.5 475.5 303.5 477.5 303.5 479.5 303.6 481.5 303.6 483.5 303.6 485.5 303.6 487.5 303.7 489.5 303.7 491.5 303.7 493.5 303.8 495.5 303.8 497.5 303.8 499.5 303.8 501.5 303.9 503.5 303.9 505.5 303.9 507.5 303.9 509.5 304.0 511.5 304.0 513.5 304.0 515.5 304.0 517.5 304.1 519.5 304.1 521.5 304.1 523.5 304.1 525.5 304.1 527.5 304.2 529.5 304.2 531.5 304.2 533.5 304.2 535.5 304.3 537.5 304.3 539.5 304.3 541.5 304.3 543.5 304.4 545.5 304.4 547.5 304.4 549.5 304.4 551.5 304.5 553.5 304.5 555.5 304.5 557.5 304.5 559.5 304.6 561.5 304.6 563.5 304.6 565.5 304.6 567.5 304.6 569.5 304.7 571.5 304.7 573.5 304.7 575.5 304.8 577.5 304.8 579.5 304.8 581.5 304.8 583.5 304.9 585.5 304.9 587.5 304.9 589.5 304.9 591.5 305.0 593.5 305.0 594.0 305.0" fill="none" stroke="#c4c400" stroke-width="3.0" stroke-linejoin="round" stroke-linecap="butt"/>
<path d="M105.5 127.0 107.5 128.9 109.5 130.8 111.5 132.7 113.5 134.6 115.5 136.5 117.5 141.7 119.5 147.4 121.5 152.7 123.5 157.5 125.5 161.9 127.5 165.9 129.5 169.6 131.5 172.9 133.5 176.0 135.5 178.7 137.5 181.3 139.5 183.6 141.5 185.7 143.5 187.7 145.5 189.4 147.5 191.0 149.5 192.5 151.5 193.9 153.5 195.1 155.5 196.2 157.5 197.2 159.5 198.2 161.5 199.3 163.5 200.5 165.5 201.8 167.5 203.2 169.5 204.7 171.5 206.4 173.5 208.2 175.5 210.3 177.5 212.5 179.5 215.0 181.5 217.6 183.5 220.5 185.5 223.5 187.5 226.7 189.5 229.9 191.5 233.3 193.5 236.8 195.5 240.2 197.5 243.7 199.5 247.3 201.5 250.8 203.5 254.2 205.5 257.7 207.5 261.1 209.5 264.5 211.5 267.8 213.5 271.0 215.5 274.2 217.5 277.3 219.5 280.3 221.5 283.3 223.5 286.2 225.5 289.0 227.5 291.7 229.5 294.3 231.5 296.9 233.5 299.4 235.5 301.7 237.5 304.0 239.5 306.2 241.5 308.3 243.5 310.4 245.5 312.3 247.5 314.2 249.5 315.9 251.5 317.6 253.5 319.2 255.5 320.7 257.5 322.2 259.5 323.5 261.5 324.8 263.5 326.0 265.5 327.2 267.5 328.3 269.5 329.3 271.5 330.3 273.5 331.2 275.5 332.0 277.5 332.8 279.5 333.5 281.5 334.2 283.5 334.9 285.5 335.5 287.5 336.1 289.5 336.6 291.5 337.1 293.5 337.6 295.5 338.0 297.5 338.4 299.5 338.8 301.5 339.1 303.5 339.2 305.5 339.2 307.5 338.9 309.5 338.4 311.5 337.7 313.5 337.2 315.5 336.9 317.5 337.1 319.5 337.9 321.5 339.2 323.5 340.6 325.5 342.0 327.5 343.3 329.5 344.4 331.5 345.3 333.5 346.0 335.5 346.8 337.5 347.5 339.5 348.1 341.5 348.8 343.5 349.5 345.5 350.1 347.5 350.7 349.5 351.3 351.5 351.8 353.5 352.2 355.5 352.7 357.5 353.0 359.5 353.3 361.5 353.6 363.5 353.8 365.5 354.1 367.5 354.2 369.5 354.4 371.5 354.5 373.5 354.6 375.5 354.7 377.5 354.7 379.5 354.8 381.5 354.8 383.5 354.8 385.5 354.9 387.5 354.9 389.5 354.9 391.5 354.9 393.5 354.9 395.5 355.0 397.5 355.0 399.5 355.0 401.5 355.0 403.5 355.0 405.5 355.0 407.5 355.0 409.5 355.0 411.5 355.0 413.5 355.0 415.5 355.0 417.5 355.0 419.5 355.0 421.5 355.0 423.5 355.0 425.5 355.0 427.5 355.0 429.5 355.0 431.5 355.0 433.5 355.0 435.5 355.0 437.5 355.0 439.5 355.0 441.5 355.0 443.5 355.0 445.5 355.0 447.5 355.0 449.5 355.0 451.5 355.0 453.5 355.0 455.5 355.0 457.5 355.0 459.5 355.0 461.5 355.0 463.5 355.0 465.5 355.0 467.5 355.0 469.5 355.0 471.5 355.0 473.5 355.0 475.5 355.0 477.5 355.0 479.5 355.0 481.5 355.0 483.5 355.0 485.5 355.0 487.5 355.0 489.5 355.0 491.5 355.0 493.5 355.0 495.5 355.0 497.5 355.0 499.5 355.0 501.5 355.0 503.5 355.0 505.5 355.0 507.5 355.0 509.5 355.0 511.5 355.0 513.5 355.0 515.5 355.0 517.5 355.0 519.5 355.0 521.5 355.0 523.5 355.0 525.5 355.0 527.5 355.0 529.5 355.0 531.5 355.0 533.5 355.0 535.5 355.0 537.5 355.0 539.5 355.0 541.5 355.0 543.5 355.0 545.5 355.0 547.5 355.0 549.5 355.0 551.5 355.0 553.5 355.0 555.5 355.0 557.5 355.0 559.5 355.0 561.5 355.0 563.5 355.0 565.5 355.0 567.5 355.0 569.5 355.0 571.5 355.0 573.5 355.0 575.5 355.0 577.5 355.0 579.5 355.0 581.5 355.0 583.5 355.0 585.5 355.0 587.5 355.0 589.5 355.0 591.5 355.0 593.5 355.0 594.0 355.0" fill="none" stroke="#c4c400" stroke-width="3.0" stroke-linejoin="round" stroke-linecap="butt"/>
<path d="M105.5 114.0 107.5 118.4 109.5 122.9 111.5 127.3 113.5 131.7 115.5 136.0 117.5 140.2 119.5 144.4 121.5 148.7 123.5 153.0 125.5 157.1 127.5 161.1 129.5 164.9 131.5 168.5 133.5 171.7 135.5 174.7 137.5 177.5 139.5 180.2 141.5 182.8 143.5 185.2 145.5 187.5 147.5 189.6 149.5 191.5 151.5 193.3 153.5 195.0 155.5 196.7 157.5 198.2 159.5 199.7 161.5 201.1 163.5 202.5 165.5 203.9 167.5 205.3 169.5 206.6 171.5 207.9 173.5 209.3 175.5 210.6 177.5 212.0 179.5 213.4 181.5 214.8 183.5 216.2 185.5 217.7 187.5 219.2 189.5 220.8 191.5 222.6 193.5 224.4 195.5 226.2 197.5 228.0 199.5 229.9 201.5 231.9 203.5 234.1 205.5 236.5 207.5 239.0 209.5 241.6 211.5 244.4 213.5 247.3 215.5 250.3 217.5 253.4 219.5 256.5 221.5 259.7 223.5 262.9 225.5 266.2 227.5 269.4 229.5 272.7 231.5 275.9 233.5 279.1 235.5 282.2 237.5 285.3 239.5 288.4 241.5 291.3 243.5 294.3 245.5 297.1 247.5 299.9 249.5 302.6 251.5 305.3 253.5 307.8 255.5 310.3 257.5 312.7 259.5 315.0 261.5 317.2 263.5 319.3 265.5 321.3 267.5 323.3 269.5 325.1 271.5 326.9 273.5 328.5 275.5 330.1 277.5 331.6 279.5 333.0 281.5 334.4 283.5 335.6 285.5 336.8 287.5 337.9 289.5 338.9 291.5 339.9 293.5 340.8 295.5 341.6 297.5 342.4 299.5 343.1 301.5 343.7 303.5 344.4 305.5 344.9 307.5 345.4 309.5 345.8 311.5 346.2 313.5 346.5 315.5 346.6 317.5 346.6 319.5 346.4 321.5 346.0 323.5 345.4 325.5 344.7 327.5 343.9 329.5 343.1 331.5 342.5 333.5 342.1 335.5 342.0 337.5 342.4 339.5 343.1 341.5 344.1 343.5 345.4 345.5 346.8 347.5 348.1 349.5 349.4 351.5 350.6 353.5 351.6 355.5 352.4 357.5 353.1 359.5 353.8 361.5 354.3 363.5 354.8 365.5 355.3 367.5 355.7 369.5 356.1 371.5 356.5 373.5 356.8 375.5 357.1 377.5 357.4 379.5 357.6 381.5 357.9 383.5 358.0 385.5 358.2 387.5 358.3 389.5 358.4 391.5 358.5 393.5 358.6 395.5 358.7 397.5 358.7 399.5 358.8 401.5 358.8 403.5 358.8 405.5 358.9 407.5 358.9 409.5 358.9 411.5 358.9 413.5 358.9 415.5 358.9 417.5 359.0 419.5 359.0 421.5 359.0 423.5 359.0 425.5 359.0 427.5 359.0 429.5 359.0 431.5 359.0 433.5 359.0 435.5 359.0 437.5 359.0 439.5 359.0 441.5 359.0 443.5 359.0 445.5 359.0 447.5 359.0 449.5 359.0 451.5 359.0 453.5 359.0 455.5 359.0 457.5 359.0 459.5 359.0 461.5 359.0 463.5 359.0 465.5 359.0 467.5 359.0 469.5 359.0 471.5 359.0 473.5 359.0 475.5 359.0 477.5 359.0 479.5 359.0 481.5 359.0 483.5 359.0 485.5 359.0 487.5 359.0 489.5 359.0 491.5 359.0 493.5 359.0 495.5 359.0 497.5 359.0 499.5 359.0 501.5 359.0 503.5 359.0 505.5 359.0 507.5 359.0 509.5 359.0 511.5 359.0 513.5 359.0 515.5 359.0 517.5 359.0 519.5 359.0 521.5 359.0 523.5 359.0 525.5 359.0 527.5 359.0 529.5 359.0 531.5 359.0 533.5 359.0 535.5 359.0 537.5 359.0 539.5 359.0 541.5 359.0 543.5 359.0 545.5 359.0 547.5 359.0 549.5 359.0 551.5 359.0 553.5 359.0 555.5 359.0 557.5 359.0 559.5 359.0 561.5 359.0 563.5 359.0 565.5 359.0 567.5 359.0 569.5 359.0 571.5 359.0 573.5 359.0 575.5 359.0 577.5 359.0 579.5 359.0 581.5 359.0 583.5 359.0 585.5 359.0 587.5 359.0 589.5 359.0 591.5 359.0 593.5 359.0 594.0 359.0" fill="none" stroke="#007800" stroke-width="3.0" stroke-linejoin="round" stroke-linecap="butt"/>
<path d="M105.5 125.0 107.5 127.3 109.5 129.6 111.5 131.9 113.5 134.2 115.5 136.4 117.5 141.3 119.5 146.6 121.5 151.4 123.5 155.9 125.5 160.1 127.5 163.9 129.5 167.5 131.5 170.7 133.5 173.8 135.5 176.6 137.5 179.1 139.5 181.5 141.5 183.7 143.5 185.7 145.5 187.6 147.5 189.3 149.5 190.9 151.5 192.4 153.5 193.7 155.5 195.0 157.5 196.2 159.5 197.2 161.5 198.2 163.5 199.1 165.5 200.0 167.5 200.7 169.5 201.4 171.5 202.1 173.5 202.7 175.5 203.3 177.5 203.8 179.5 204.3 181.5 204.7 183.5 205.1 185.5 205.5 187.5 206.4 189.5 207.6 191.5 209.0 193.5 210.6 195.5 212.4 197.5 214.4 199.5 216.7 201.5 219.2 203.5 221.8 205.5 224.7 207.5 227.7 209.5 230.8 211.5 234.0 213.5 237.3 215.5 240.6 217.5 244.0 219.5 247.3 221.5 250.6 223.5 253.9 225.5 257.1 227.5 260.3 229.5 263.4 231.5 266.4 233.5 269.4 235.5 272.3 237.5 275.1 239.5 277.9 241.5 280.5 243.5 283.1 245.5 285.5 247.5 287.9 249.5 290.2 251.5 292.4 253.5 294.5 255.5 296.5 257.5 298.4 259.5 300.2 261.5 302.0 263.5 303.6 265.5 305.2 267.5 306.7 269.5 308.1 271.5 309.4 273.5 310.7 275.5 311.9 277.5 313.0 279.5 314.1 281.5 315.1 283.5 316.0 285.5 316.9 287.5 317.7 289.5 318.4 291.5 319.2 293.5 319.8 295.5 320.5 297.5 321.1 299.5 321.6 301.5 322.1 303.5 322.6 305.5 323.0 307.5 323.4 309.5 323.8 311.5 324.2 313.5 324.5 315.5 324.8 317.5 325.1 319.5 325.4 321.5 325.7 323.5 325.9 325.5 326.1 327.5 326.3 329.5 326.5 331.5 326.7 333.5 326.8 335.5 327.0 337.5 327.1 339.5 327.3 341.5 327.4 343.5 327.5 345.5 327.6 347.5 327.7 349.5 327.8 351.5 327.9 353.5 328.0 355.5 328.1 357.5 328.2 359.5 328.3 361.5 328.3 363.5 328.4 365.5 328.5 367.5 328.5 369.5 328.6 371.5 328.6 373.5 328.7 375.5 328.7 377.5 328.8 379.5 328.8 381.5 328.9 383.5 328.9 385.5 329.0 387.5 329.0 389.5 329.1 391.5 329.1 393.5 329.1 395.5 329.1 397.5 329.2 399.5 329.2 401.5 329.2 403.5 329.3 405.5 329.3 407.5 329.3 409.5 329.3 411.5 329.4 413.5 329.4 415.5 329.4 417.5 329.5 419.5 329.5 421.5 329.5 423.5 329.6 425.5 329.6 427.5 329.6 429.5 329.7 431.5 329.7 433.5 329.7 435.5 329.8 437.5 329.8 439.5 329.8 441.5 329.9 443.5 329.9 445.5 329.9 447.5 330.0 449.5 330.0 451.5 330.0 453.5 330.1 455.5 330.1 457.5 330.1 459.5 330.2 461.5 330.2 463.5 330.2 465.5 330.3 467.5 330.3 469.5 330.3 471.5 330.4 473.5 330.4 475.5 330.4 477.5 330.5 479.5 330.5 481.5 330.5 483.5 330.5 485.5 330.6 487.5 330.6 489.5 330.6 491.5 330.7 493.5 330.7 495.5 330.7 497.5 330.8 499.5 330.8 501.5 330.8 503.5 330.8 505.5 330.9 507.5 330.9 509.5 330.9 511.5 330.9 513.5 331.0 515.5 331.0 517.5 331.0 519.5 331.0 521.5 331.1 523.5 331.1 525.5 331.1 527.5 331.1 529.5 331.2 531.5 331.2 533.5 331.2 535.5 331.2 537.5 331.2 539.5 331.3 541.5 331.3 543.5 331.3 545.5 331.3 547.5 331.3 549.5 331.4 551.5 331.4 553.5 331.4 555.5 331.4 557.5 331.4 559.5 331.4 561.5 331.5 563.5 331.5 565.5 331.5 567.5 331.5 569.5 331.5 571.5 331.5 573.5 331.5 575.5 331.6 577.5 331.6 579.5 331.6 581.5 331.6 583.5 331.6 585.5 331.6 587.5 331.6 589.5 331.6 591.5 331.7 593.5 331.7 594.0 331.7" fill="none" stroke="#007800" stroke-width="3.0" stroke-linejoin="round" stroke-linecap="butt"/>
<path d="M105.5 118.0 107.5 121.6 109.5 125.2 111.5 128.9 113.5 132.5 115.5 136.1 117.5 141.3 119.5 146.5 121.5 151.4 123.5 155.9 125.5 160.1 127.5 163.9 129.5 167.5 131.5 170.7 133.5 173.7 135.5 176.5 137.5 179.1 139.5 181.5 141.5 183.7 143.5 185.7 145.5 187.6 147.5 189.3 149.5 190.9 151.5 192.4 153.5 193.7 155.5 195.0 157.5 196.1 159.5 197.2 161.5 198.2 163.5 199.1 165.5 199.9 167.5 200.7 169.5 201.4 171.5 202.1 173.5 202.7 175.5 203.2 177.5 203.8 179.5 204.2 181.5 204.8 183.5 205.3 185.5 205.9 187.5 206.6 189.5 207.3 191.5 208.0 193.5 208.9 195.5 210.0 197.5 211.1 199.5 212.5 201.5 214.1 203.5 215.9 205.5 218.0 207.5 220.3 209.5 222.9 211.5 225.7 213.5 228.6 215.5 231.8 217.5 235.1 219.5 238.6 221.5 242.1 223.5 245.7 225.5 249.4 227.5 253.0 229.5 256.7 231.5 260.3 233.5 263.9 235.5 267.5 237.5 271.0 239.5 274.4 241.5 277.8 243.5 281.1 245.5 284.3 247.5 287.4 249.5 290.4 251.5 293.3 253.5 296.1 255.5 298.8 257.5 301.4 259.5 303.8 261.5 306.2 263.5 308.4 265.5 310.5 267.5 312.6 269.5 314.5 271.5 316.2 273.5 317.9 275.5 319.5 277.5 321.0 279.5 322.3 281.5 323.6 283.5 324.8 285.5 325.9 287.5 326.9 289.5 327.9 291.5 328.8 293.5 329.6 295.5 330.3 297.5 331.0 299.5 331.6 301.5 332.2 303.5 332.7 305.5 333.2 307.5 333.6 309.5 334.0 311.5 334.4 313.5 334.7 315.5 335.0 317.5 335.3 319.5 335.6 321.5 335.8 323.5 336.0 325.5 336.2 327.5 336.4 329.5 336.5 331.5 336.7 333.5 336.8 335.5 336.9 337.5 337.0 339.5 337.1 341.5 337.2 343.5 337.3 345.5 337.3 347.5 337.4 349.5 337.5 351.5 337.5 353.5 337.6 355.5 337.6 357.5 337.6 359.5 337.7 361.5 337.7 363.5 337.7 365.5 337.8 367.5 337.8 369.5 337.8 371.5 337.8 373.5 337.8 375.5 337.9 377.5 337.9 379.5 337.9 381.5 337.9 383.5 337.9 385.5 337.9 387.5 337.9 389.5 337.9 391.5 337.9 393.5 338.0 395.5 338.0 397.5 338.0 399.5 338.0 401.5 338.0 403.5 338.0 405.5 338.0 407.5 338.0 409.5 338.0 411.5 338.0 413.5 338.0 415.5 338.0 417.5 338.0 419.5 338.0 421.5 338.0 423.5 338.0 425.5 338.0 427.5 338.0 429.5 338.0 431.5 338.0 433.5 338.0 435.5 338.0 437.5 338.0 439.5 338.0 441.5 338.0 443.5 338.0 445.5 338.0 447.5 338.0 449.5 338.0 451.5 338.0 453.5 338.0 455.5 338.0 457.5 338.0 459.5 338.0 461.5 338.0 463.5 338.0 465.5 338.0 467.5 338.0 469.5 338.0 471.5 338.0 473.5 338.0 475.5 338.0 477.5 338.0 479.5 338.0 481.5 338.0 483.5 338.0 485.5 338.0 487.5 338.0 489.5 338.0 491.5 338.0 493.5 338.0 495.5 338.0 497.5 338.0 499.5 338.0 501.5 338.0 503.5 338.0 505.5 338.0 507.5 338.0 509.5 338.0 511.5 338.0 513.5 338.0 515.5 338.0 517.5 338.0 519.5 338.0 521.5 338.0 523.5 338.0 525.5 338.0 527.5 338.0 529.5 338.0 531.5 338.0 533.5 338.0 535.5 338.0 537.5 338.0 539.5 338.0 541.5 338.0 543.5 338.0 545.5 338.0 547.5 338.0 549.5 338.0 551.5 338.0 553.5 338.0 555.5 338.0 557.5 338.0 559.5 338.0 561.5 338.0 563.5 338.0 565.5 338.0 567.5 338.0 569.5 338.0 571.5 338.0 573.5 338.0 575.5 338.0 577.5 338.0 579.5 338.0 581.5 338.0 583.5 338.0 585.5 338.0 587.5 338.0 589.5 338.0 591.5 338.0 593.5 338.0 594.0 338.0" fill="none" stroke="#007800" stroke-width="3.0" stroke-linejoin="round" stroke-linecap="butt"/>
<path d="M105.5 123.0 107.5 125.7 109.5 128.3 111.5 131.0 113.5 133.7 115.5 136.3 117.5 141.3 119.5 146.5 121.5 151.4 123.5 155.9 125.5 160.1 127.5 163.9 129.5 167.5 131.5 170.7 133.5 173.7 135.5 176.5 137.5 179.1 139.5 181.5 141.5 183.7 143.5 185.7 145.5 187.6 147.5 189.3 149.5 190.9 151.5 192.4 153.5 193.7 155.5 195.0 157.5 196.1 159.5 197.2 161.5 198.2 163.5 199.1 165.5 199.9 167.5 200.7 169.5 201.4 171.5 202.1 173.5 202.7 175.5 203.2 177.5 203.8 179.5 204.2 181.5 204.7 183.5 205.1 185.5 205.5 187.5 206.0 189.5 206.6 191.5 207.3 193.5 208.1 195.5 209.0 197.5 210.0 199.5 211.2 201.5 212.6 203.5 214.3 205.5 216.1 207.5 218.2 209.5 220.5 211.5 223.0 213.5 225.6 215.5 228.5 217.5 231.5 219.5 234.6 221.5 237.8 223.5 241.0 225.5 244.2 227.5 247.5 229.5 250.7 231.5 253.9 233.5 257.1 235.5 260.2 237.5 263.2 239.5 266.2 241.5 269.0 243.5 271.8 245.5 274.5 247.5 277.1 249.5 279.5 251.5 281.9 253.5 284.2 255.5 286.3 257.5 288.4 259.5 290.3 261.5 292.2 263.5 293.9 265.5 295.5 267.5 297.1 269.5 298.5 271.5 299.8 273.5 301.1 275.5 302.2 277.5 303.3 279.5 304.3 281.5 305.2 283.5 306.0 285.5 306.8 287.5 307.5 289.5 308.2 291.5 308.8 293.5 309.4 295.5 309.9 297.5 310.3 299.5 310.8 301.5 311.1 303.5 311.5 305.5 311.8 307.5 312.1 309.5 312.4 311.5 312.6 313.5 312.9 315.5 313.1 317.5 313.2 319.5 313.4 321.5 313.6 323.5 313.7 325.5 313.8 327.5 313.9 329.5 314.0 331.5 314.1 333.5 314.2 335.5 314.3 337.5 314.4 339.5 314.4 341.5 314.5 343.5 314.5 345.5 314.6 347.5 314.6 349.5 314.7 351.5 314.7 353.5 314.7 355.5 314.8 357.5 314.8 359.5 314.8 361.5 314.8 363.5 314.8 365.5 314.9 367.5 314.9 369.5 314.9 371.5 314.9 373.5 314.9 375.5 314.9 377.5 314.9 379.5 314.9 381.5 315.0 383.5 315.0 385.5 315.0 387.5 315.0 389.5 315.0 391.5 315.0 393.5 315.0 395.5 315.0 397.5 315.0 399.5 315.0 401.5 315.0 403.5 315.0 405.5 315.0 407.5 315.0 409.5 315.0 411.5 315.0 413.5 315.0 415.5 315.0 417.5 315.0 419.5 315.0 421.5 315.0 423.5 315.0 425.5 315.0 427.5 315.0 429.5 315.0 431.5 315.0 433.5 315.0 435.5 315.0 437.5 315.0 439.5 315.0 441.5 315.0 443.5 315.0 445.5 315.0 447.5 315.0 449.5 315.0 451.5 315.0 453.5 315.0 455.5 315.0 457.5 315.0 459.5 315.0 461.5 315.0 463.5 315.0 465.5 315.0 467.5 315.0 469.5 315.0 471.5 315.0 473.5 315.0 475.5 315.0 477.5 315.0 479.5 315.0 481.5 315.0 483.5 315.0 485.5 315.0 487.5 315.0 489.5 315.0 491.5 315.0 493.5 315.0 495.5 315.0 497.5 315.0 499.5 315.0 501.5 315.0 503.5 315.0 505.5 315.0 507.5 315.0 509.5 315.0 511.5 315.0 513.5 315.0 515.5 315.0 517.5 315.0 519.5 315.0 521.5 315.0 523.5 315.0 525.5 315.0 527.5 315.0 529.5 315.0 531.5 315.0 533.5 315.0 535.5 315.0 537.5 315.0 539.5 315.0 541.5 315.0 543.5 315.0 545.5 315.0 547.5 315.0 549.5 315.0 551.5 315.0 553.5 315.0 555.5 315.0 557.5 315.0 559.5 315.0 561.5 315.0 563.5 315.0 565.5 315.0 567.5 315.0 569.5 315.0 571.5 315.0 573.5 315.0 575.5 315.0 577.5 315.0 579.5 315.0 581.5 315.0 583.5 315.0 585.5 315.0 587.5 315.0 589.5 315.0 591.5 315.0 593.5 315.0 594.0 315.0" fill="none" stroke="#007800" stroke-width="3.0" stroke-linejoin="round" stroke-linecap="butt"/>
<path d="M105.5 120.0 107.5 123.2 109.5 126.5 111.5 129.7 113.5 133.0 115.5 136.2 117.5 138.3 119.5 139.9 121.5 141.5 123.5 143.0 125.5 144.4 127.5 145.8 129.5 147.1 131.5 148.4 133.5 149.6 135.5 150.7 137.5 151.8 139.5 152.9 141.5 153.9 143.5 154.8 145.5 155.8 147.5 156.6 149.5 157.5 151.5 158.3 153.5 159.1 155.5 159.8 157.5 160.5 159.5 161.3 161.5 161.9 163.5 162.6 165.5 163.3 167.5 163.9 169.5 164.6 171.5 165.3 173.5 166.0 175.5 166.7 177.5 167.5 179.5 168.3 181.5 169.3 183.5 170.3 185.5 171.5 187.5 172.8 189.5 174.3 191.5 176.0 193.5 177.9 195.5 180.1 197.5 182.4 199.5 185.0 201.5 187.8 203.5 190.8 205.5 194.0 207.5 197.3 209.5 200.7 211.5 204.2 213.5 207.8 215.5 211.4 217.5 215.1 219.5 218.7 221.5 222.4 223.5 226.0 225.5 229.7 227.5 233.3 229.5 236.8 231.5 240.4 233.5 243.8 235.5 247.2 237.5 250.6 239.5 253.8 241.5 257.1 243.5 260.2 245.5 263.2 247.5 266.2 249.5 269.0 251.5 271.8 253.5 274.4 255.5 277.0 257.5 279.4 259.5 281.8 261.5 284.0 263.5 286.1 265.5 288.1 267.5 290.0 269.5 291.8 271.5 293.5 273.5 295.0 275.5 296.5 277.5 297.8 279.5 299.1 281.5 300.2 283.5 301.3 285.5 302.3 287.5 303.2 289.5 304.0 291.5 304.8 293.5 305.5 295.5 306.1 297.5 306.7 299.5 307.2 301.5 307.7 303.5 308.1 305.5 308.5 307.5 308.9 309.5 309.2 311.5 309.5 313.5 309.7 315.5 310.0 317.5 310.2 319.5 310.4 321.5 310.5 323.5 310.7 325.5 310.8 327.5 310.9 329.5 311.1 331.5 311.2 333.5 311.2 335.5 311.3 337.5 311.4 339.5 311.5 341.5 311.5 343.5 311.6 345.5 311.6 347.5 311.7 349.5 311.7 351.5 311.7 353.5 311.8 355.5 311.8 357.5 311.8 359.5 311.8 361.5 311.8 363.5 311.9 365.5 311.9 367.5 311.9 369.5 311.9 371.5 311.9 373.5 311.9 375.5 311.9 377.5 311.9 379.5 311.9 381.5 312.0 383.5 312.0 385.5 312.0 387.5 312.0 389.5 312.0 391.5 312.0 393.5 312.0 395.5 312.0 397.5 312.0 399.5 312.0 401.5 312.0 403.5 312.0 405.5 312.0 407.5 312.0 409.5 312.0 411.5 312.0 413.5 312.0 415.5 312.0 417.5 312.0 419.5 312.0 421.5 312.0 423.5 312.0 425.5 312.0 427.5 312.0 429.5 312.0 431.5 312.0 433.5 312.0 435.5 312.0 437.5 312.0 439.5 312.0 441.5 312.0 443.5 312.0 445.5 312.0 447.5 312.0 449.5 312.0 451.5 312.0 453.5 312.0 455.5 312.0 457.5 312.0 459.5 312.0 461.5 312.0 463.5 312.0 465.5 312.0 467.5 312.0 469.5 312.0 471.5 312.0 473.5 312.0 475.5 312.0 477.5 312.0 479.5 312.0 481.5 312.0 483.5 312.0 485.5 312.0 487.5 312.0 489.5 312.0 491.5 312.0 493.5 312.0 495.5 312.0 497.5 312.0 499.5 312.0 501.5 312.0 503.5 312.0 505.5 312.0 507.5 312.0 509.5 312.0 511.5 312.0 513.5 312.0 515.5 312.0 517.5 312.0 519.5 312.0 521.5 312.0 523.5 312.0 525.5 312.0 527.5 312.0 529.5 312.0 531.5 312.0 533.5 312.0 535.5 312.0 537.5 312.0 539.5 312.0 541.5 312.0 543.5 312.0 545.5 312.0 547.5 312.0 549.5 312.0 551.5 312.0 553.5 312.0 555.5 312.0 557.5 312.0 559.5 312.0 561.5 312.0 563.5 312.0 565.5 312.0 567.5 312.0 569.5 312.0 571.5 312.0 573.5 312.0 575.5 312.0 577.5 312.0 579.5 312.0 581.5 312.0 583.5 312.0 585.5 312.0 587.5 312.0 589.5 312.0 591.5 312.0 593.5 312.0 594.0 312.0" fill="none" stroke="#6e00a0" stroke-width="3.0" stroke-linejoin="round" stroke-linecap="butt"/>
<path d="M105.5 128.0 107.5 129.7 109.5 131.4 111.5 133.1 113.5 134.9 115.5 136.6 117.5 138.4 119.5 140.2 121.5 141.9 123.5 143.6 125.5 145.2 127.5 146.7 129.5 148.1 131.5 149.5 133.5 150.9 135.5 152.1 137.5 153.3 139.5 154.5 141.5 155.6 143.5 156.7 145.5 157.7 147.5 158.6 149.5 159.6 151.5 160.5 153.5 161.3 155.5 162.1 157.5 162.9 159.5 163.7 161.5 164.4 163.5 165.1 165.5 165.8 167.5 166.4 169.5 167.1 171.5 167.7 173.5 168.3 175.5 169.0 177.5 169.6 179.5 170.3 181.5 171.0 183.5 171.7 185.5 172.5 187.5 173.4 189.5 174.4 191.5 175.5 193.5 176.8 195.5 178.3 197.5 179.9 199.5 181.8 201.5 183.8 203.5 186.2 205.5 188.7 207.5 191.4 209.5 194.4 211.5 197.5 213.5 200.7 215.5 204.1 217.5 207.6 219.5 211.1 221.5 214.7 223.5 218.3 225.5 222.0 227.5 225.6 229.5 229.3 231.5 232.9 233.5 236.5 235.5 240.0 237.5 243.5 239.5 247.0 241.5 250.4 243.5 253.7 245.5 257.0 247.5 260.2 249.5 263.3 251.5 266.3 253.5 269.3 255.5 272.1 257.5 274.9 259.5 277.5 261.5 280.1 263.5 282.5 265.5 284.9 267.5 287.1 269.5 289.2 271.5 291.2 273.5 293.1 275.5 294.9 277.5 296.5 279.5 298.1 281.5 299.5 283.5 300.9 285.5 302.1 287.5 303.3 289.5 304.4 291.5 305.3 293.5 306.2 295.5 307.1 297.5 307.8 299.5 308.5 301.5 309.2 303.5 309.7 305.5 310.2 307.5 310.7 309.5 311.1 311.5 311.5 313.5 311.9 315.5 312.2 317.5 312.5 319.5 312.7 321.5 313.0 323.5 313.2 325.5 313.4 327.5 313.5 329.5 313.7 331.5 313.8 333.5 313.9 335.5 314.1 337.5 314.2 339.5 314.2 341.5 314.3 343.5 314.4 345.5 314.5 347.5 314.5 349.5 314.6 351.5 314.6 353.5 314.7 355.5 314.7 357.5 314.7 359.5 314.8 361.5 314.8 363.5 314.8 365.5 314.8 367.5 314.8 369.5 314.9 371.5 314.9 373.5 314.9 375.5 314.9 377.5 314.9 379.5 314.9 381.5 314.9 383.5 314.9 385.5 314.9 387.5 315.0 389.5 315.0 391.5 315.0 393.5 315.0 395.5 315.0 397.5 315.0 399.5 315.0 401.5 315.0 403.5 315.0 405.5 315.0 407.5 315.0 409.5 315.0 411.5 315.0 413.5 315.0 415.5 315.0 417.5 315.0 419.5 315.0 421.5 315.0 423.5 315.0 425.5 315.0 427.5 315.0 429.5 315.0 431.5 315.0 433.5 315.0 435.5 315.0 437.5 315.0 439.5 315.0 441.5 315.0 443.5 315.0 445.5 315.0 447.5 315.0 449.5 315.0 451.5 315.0 453.5 315.0 455.5 315.0 457.5 315.0 459.5 315.0 461.5 315.0 463.5 315.0 465.5 315.0 467.5 315.0 469.5 315.0 471.5 315.0 473.5 315.0 475.5 315.0 477.5 315.0 479.5 315.0 481.5 315.0 483.5 315.0 485.5 315.0 487.5 315.0 489.5 315.0 491.5 315.0 493.5 315.0 495.5 315.0 497.5 315.0 499.5 315.0 501.5 315.0 503.5 315.0 505.5 315.0 507.5 315.0 509.5 315.0 511.5 315.0 513.5 315.0 515.5 315.0 517.5 315.0 519.5 315.0 521.5 315.0 523.5 315.0 525.5 315.0 527.5 315.0 529.5 315.0 531.5 315.0 533.5 315.0 535.5 315.0 537.5 315.0 539.5 315.0 541.5 315.0 543.5 315.0 545.5 315.0 547.5 315.0 549.5 315.0 551.5 315.0 553.5 315.0 555.5 315.0 557.5 315.0 559.5 315.0 561.5 315.0 563.5 315.0 565.5 315.0 567.5 315.0 569.5 315.0 571.5 315.0 573.5 315.0 575.5 315.0 577.5 315.0 579.5 315.0 581.5 315.0 583.5 315.0 585.5 315.0 587.5 315.0 589.5 315.0 591.5 315.0 593.5 315.0 594.0 315.0" fill="none" stroke="#6e00a0" stroke-width="3.0" stroke-linejoin="round" stroke-linecap="butt"/>
<path d="M105.5 115.0 107.5 119.2 109.5 123.4 111.5 127.6 113.5 131.8 115.5 136.0 117.5 138.5 119.5 140.5 121.5 142.4 123.5 144.2 125.5 145.9 127.5 147.6 129.5 149.2 131.5 150.7 133.5 152.1 135.5 153.5 137.5 154.9 139.5 156.1 141.5 157.3 143.5 158.5 145.5 159.6 147.5 160.7 149.5 161.7 151.5 162.6 153.5 163.6 155.5 164.5 157.5 165.3 159.5 166.1 161.5 166.9 163.5 167.6 165.5 168.4 167.5 169.1 169.5 169.7 171.5 170.4 173.5 171.0 175.5 171.6 177.5 172.2 179.5 172.8 181.5 173.4 183.5 174.0 185.5 174.7 187.5 175.4 189.5 176.1 191.5 176.8 193.5 177.7 195.5 178.6 197.5 179.7 199.5 180.9 201.5 182.3 203.5 183.9 205.5 185.7 207.5 187.7 209.5 189.9 211.5 192.4 213.5 195.1 215.5 198.0 217.5 201.0 219.5 204.2 221.5 207.6 223.5 211.0 225.5 214.5 227.5 218.1 229.5 221.7 231.5 225.3 233.5 228.9 235.5 232.6 237.5 236.2 239.5 239.7 241.5 243.3 243.5 246.8 245.5 250.2 247.5 253.6 249.5 256.9 251.5 260.2 253.5 263.4 255.5 266.5 257.5 269.5 259.5 272.5 261.5 275.3 263.5 278.1 265.5 280.7 267.5 283.2 269.5 285.7 271.5 288.0 273.5 290.2 275.5 292.3 277.5 294.3 279.5 296.2 281.5 297.9 283.5 299.6 285.5 301.2 287.5 302.6 289.5 303.9 291.5 305.2 293.5 306.3 295.5 307.4 297.5 308.4 299.5 309.3 301.5 310.1 303.5 310.9 305.5 311.6 307.5 312.2 309.5 312.8 311.5 313.3 313.5 313.7 315.5 314.2 317.5 314.6 319.5 314.9 321.5 315.2 323.5 315.5 325.5 315.8 327.5 316.0 329.5 316.2 331.5 316.4 333.5 316.5 335.5 316.7 337.5 316.8 339.5 317.0 341.5 317.1 343.5 317.2 345.5 317.2 347.5 317.3 349.5 317.4 351.5 317.5 353.5 317.5 355.5 317.6 357.5 317.6 359.5 317.7 361.5 317.7 363.5 317.7 365.5 317.8 367.5 317.8 369.5 317.8 371.5 317.8 373.5 317.8 375.5 317.9 377.5 317.9 379.5 317.9 381.5 317.9 383.5 317.9 385.5 317.9 387.5 317.9 389.5 317.9 391.5 317.9 393.5 317.9 395.5 318.0 397.5 318.0 399.5 318.0 401.5 318.0 403.5 318.0 405.5 318.0 407.5 318.0 409.5 318.0 411.5 318.0 413.5 318.0 415.5 318.0 417.5 318.0 419.5 318.0 421.5 318.0 423.5 318.0 425.5 318.0 427.5 318.0 429.5 318.0 431.5 318.0 433.5 318.0 435.5 318.0 437.5 318.0 439.5 318.0 441.5 318.0 443.5 318.0 445.5 318.0 447.5 318.0 449.5 318.0 451.5 318.0 453.5 318.0 455.5 318.0 457.5 318.0 459.5 318.0 461.5 318.0 463.5 318.0 465.5 318.0 467.5 318.0 469.5 318.0 471.5 318.0 473.5 318.0 475.5 318.0 477.5 318.0 479.5 318.0 481.5 318.0 483.5 318.0 485.5 318.0 487.5 318.0 489.5 318.0 491.5 318.0 493.5 318.0 495.5 318.0 497.5 318.0 499.5 318.0 501.5 318.0 503.5 318.0 505.5 318.0 507.5 318.0 509.5 318.0 511.5 318.0 513.5 318.0 515.5 318.0 517.5 318.0 519.5 318.0 521.5 318.0 523.5 318.0 525.5 318.0 527.5 318.0 529.5 318.0 531.5 318.0 533.5 318.0 535.5 318.0 537.5 318.0 539.5 318.0 541.5 318.0 543.5 318.0 545.5 318.0 547.5 318.0 549.5 318.0 551.5 318.0 553.5 318.0 555.5 318.0 557.5 318.0 559.5 318.0 561.5 318.0 563.5 318.0 565.5 318.0 567.5 318.0 569.5 318.0 571.5 318.0 573.5 318.0 575.5 318.0 577.5 318.0 579.5 318.0 581.5 318.0 583.5 318.0 585.5 318.0 587.5 318.0 589.5 318.0 591.5 318.0 593.5 318.0 594.0 318.0" fill="none" stroke="#6e00a0" stroke-width="3.0" stroke-linejoin="round" stroke-linecap="butt"/>
<path d="M105.5 126.0 107.5 128.1 109.5 130.2 111.5 132.3 113.5 134.4 115.5 136.5 117.5 138.7 119.5 140.8 121.5 142.9 123.5 144.8 125.5 146.7 127.5 148.5 129.5 150.2 131.5 151.9 133.5 153.4 135.5 154.9 137.5 156.4 139.5 157.7 141.5 159.1 143.5 160.3 145.5 161.5 147.5 162.7 149.5 163.8 151.5 164.8 153.5 165.8 155.5 166.8 157.5 167.7 159.5 168.6 161.5 169.4 163.5 170.3 165.5 171.0 167.5 171.8 169.5 172.5 171.5 173.1 173.5 173.8 175.5 174.4 177.5 175.0 179.5 175.6 181.5 176.1 183.5 176.6 185.5 177.1 187.5 177.6 189.5 178.0 191.5 178.5 193.5 178.9 195.5 179.3 197.5 179.7 199.5 180.0 201.5 180.7 203.5 182.4 205.5 184.2 207.5 186.3 209.5 188.7 211.5 191.2 213.5 193.8 215.5 196.7 217.5 199.6 219.5 202.7 221.5 205.8 223.5 209.0 225.5 212.2 227.5 215.4 229.5 218.7 231.5 221.9 233.5 225.2 235.5 228.4 237.5 231.6 239.5 234.8 241.5 237.9 243.5 241.0 245.5 244.0 247.5 247.1 249.5 250.0 251.5 253.0 253.5 255.9 255.5 258.7 257.5 261.5 259.5 264.2 261.5 266.9 263.5 269.6 265.5 272.2 267.5 274.7 269.5 277.2 271.5 279.7 273.5 282.1 275.5 284.4 277.5 286.7 279.5 289.0 281.5 291.2 283.5 293.3 285.5 295.4 287.5 297.4 289.5 299.4 291.5 301.3 293.5 303.2 295.5 305.1 297.5 306.8 299.5 308.6 301.5 310.3 303.5 311.9 305.5 313.5 307.5 315.0 309.5 316.5 311.5 317.9 313.5 319.3 315.5 320.7 317.5 322.0 319.5 323.2 321.5 324.5 323.5 325.6 325.5 326.8 327.5 327.9 329.5 328.9 331.5 329.9 333.5 330.9 335.5 331.8 337.5 332.8 339.5 333.6 341.5 334.5 343.5 335.3 345.5 336.0 347.5 336.8 349.5 337.5 351.5 338.2 353.5 338.8 355.5 339.5 357.5 340.1 359.5 340.6 361.5 341.2 363.5 341.7 365.5 342.2 367.5 342.7 369.5 343.2 371.5 343.6 373.5 344.1 375.5 344.5 377.5 344.8 379.5 345.2 381.5 345.6 383.5 345.9 385.5 346.2 387.5 346.5 389.5 346.8 391.5 347.1 393.5 347.4 395.5 347.6 397.5 347.9 399.5 348.1 401.5 348.3 403.5 348.6 405.5 348.8 407.5 349.0 409.5 349.1 411.5 349.3 413.5 349.5 415.5 349.6 417.5 349.8 419.5 349.9 421.5 350.1 423.5 350.2 425.5 350.3 427.5 350.5 429.5 350.6 431.5 350.7 433.5 350.8 435.5 350.9 437.5 351.0 439.5 351.1 441.5 351.1 443.5 351.2 445.5 351.3 447.5 351.4 449.5 351.4 451.5 351.5 453.5 351.6 455.5 351.6 457.5 351.7 459.5 351.8 461.5 351.8 463.5 351.9 465.5 351.9 467.5 351.9 469.5 352.0 471.5 352.0 473.5 352.0 475.5 352.0 477.5 352.0 479.5 352.0 481.5 352.0 483.5 352.0 485.5 352.0 487.5 352.0 489.5 352.0 491.5 352.0 493.5 352.0 495.5 352.0 497.5 352.0 499.5 352.0 501.5 352.0 503.5 352.0 505.5 352.0 507.5 352.0 509.5 352.0 511.5 352.0 513.5 352.0 515.5 352.0 517.5 352.0 519.5 352.0 521.5 352.0 523.5 352.0 525.5 352.0 527.5 352.0 529.5 352.0 531.5 352.0 533.5 352.0 535.5 352.0 537.5 352.0 539.5 352.0 541.5 352.0 543.5 352.0 545.5 352.0 547.5 352.0 549.5 352.0 551.5 352.0 553.5 352.0 555.5 352.0 557.5 352.0 559.5 352.0 561.5 352.0 563.5 352.0 565.5 352.0 567.5 352.0 569.5 352.0 571.5 352.0 573.5 352.0 575.5 352.0 577.5 352.0 579.5 352.0 581.5 352.0 583.5 352.0 585.5 352.0 587.5 352.0 589.5 352.0 591.5 352.0 593.5 352.0 594.0 352.0" fill="none" stroke="#6e00a0" stroke-width="3.0" stroke-linejoin="round" stroke-linecap="butt"/>
<path d="M105.5 116.0 107.5 121.2 109.5 126.0 111.5 129.7 113.5 132.9 115.5 135.5 117.5 137.5 119.5 139.2 121.5 140.8 123.5 142.1 125.5 143.3 127.5 144.4 129.5 145.3 131.5 146.3 133.5 147.1 135.5 147.9 137.5 148.6 139.5 149.3 141.5 150.0 143.5 150.6 145.5 151.2 147.5 151.7 149.5 152.2 151.5 152.7 153.5 153.2 155.5 153.7 157.5 154.1 159.5 154.6 161.5 155.1 163.5 155.6 165.5 156.0 167.5 156.5 169.5 156.9 171.5 157.4 173.5 157.8 175.5 158.2 177.5 158.6 179.5 158.9 181.5 159.2 183.5 159.5 185.5 159.8 187.5 160.0 189.5 160.2 191.5 160.4 193.5 160.5 195.5 160.7 197.5 160.8 199.5 161.0 201.5 161.1 203.5 161.2 205.5 161.3 207.5 161.4 209.5 161.6 211.5 161.7 213.5 161.8 215.5 161.9 217.5 162.0 219.5 162.1 221.5 162.3 223.5 162.4 225.5 162.5 227.5 162.7 229.5 162.9 231.5 163.0 233.5 163.2 235.5 163.4 237.5 163.6 239.5 163.7 241.5 163.9 243.5 164.1 245.5 164.3 247.5 164.5 249.5 164.6 251.5 164.8 253.5 165.0 255.5 165.1 257.5 165.3 259.5 165.4 261.5 165.5 263.5 165.7 265.5 165.8 267.5 165.9 269.5 166.0 271.5 166.1 273.5 166.2 275.5 166.3 277.5 166.3 279.5 166.4 281.5 166.5 283.5 166.6 285.5 166.7 287.5 166.8 289.5 166.8 291.5 166.9 293.5 167.0 295.5 167.0 297.5 167.1 299.5 167.2 301.5 167.2 303.5 167.3 305.5 167.4 307.5 167.4 309.5 167.5 311.5 167.5 313.5 167.6 315.5 167.7 317.5 167.7 319.5 167.8 321.5 167.8 323.5 167.9 325.5 167.9 327.5 168.0 329.5 168.0 331.5 168.1 333.5 168.1 335.5 168.2 337.5 168.2 339.5 168.3 341.5 168.3 343.5 168.3 345.5 168.4 347.5 168.4 349.5 168.5 351.5 168.5 353.5 168.6 355.5 168.6 357.5 168.7 359.5 168.7 361.5 168.8 363.5 168.9 365.5 168.9 367.5 169.0 369.5 169.0 371.5 169.1 373.5 169.1 375.5 169.2 377.5 169.3 379.5 169.3 381.5 169.4 383.5 169.4 385.5 169.5 387.5 169.5 389.5 169.6 391.5 169.6 393.5 169.7 395.5 169.7 397.5 169.8 399.5 169.8 401.5 169.8 403.5 169.9 405.5 169.9 407.5 169.9 409.5 169.9 411.5 170.0 413.5 170.0 415.5 170.0 417.5 170.0 419.5 170.0 421.5 170.0 423.5 170.0 425.5 169.9 427.5 169.9 429.5 169.8 431.5 169.7 433.5 169.6 435.5 169.5 437.5 169.4 439.5 169.3 441.5 169.2 443.5 169.1 445.5 169.0 447.5 168.9 449.5 168.7 451.5 168.6 453.5 168.5 455.5 168.4 457.5 168.3 459.5 168.2 461.5 168.2 463.5 168.1 465.5 168.0 467.5 168.0 469.5 168.0 471.5 168.0 473.5 168.0 475.5 168.0 477.5 168.1 479.5 168.1 481.5 168.2 483.5 168.2 485.5 168.3 487.5 168.3 489.5 168.4 491.5 168.5 493.5 168.6 495.5 168.7 497.5 168.8 499.5 168.9 501.5 169.0 503.5 169.1 505.5 169.2 507.5 169.3 509.5 169.4 511.5 169.5 513.5 169.6 515.5 169.7 517.5 169.9 519.5 170.0 521.5 170.1 523.5 170.2 525.5 170.4 527.5 170.6 529.5 170.8 531.5 171.1 533.5 171.3 535.5 171.5 537.5 171.7 539.5 171.8 541.5 171.9 543.5 172.0 545.5 172.0 547.5 172.0 549.5 172.0 551.5 172.0 553.5 172.0 555.5 171.9 557.5 171.9 559.5 171.9 561.5 171.9 563.5 171.8 565.5 171.8 567.5 171.8 569.5 171.7 571.5 171.7 573.5 171.7 575.5 171.6 577.5 171.6 579.5 171.6 581.5 171.5 583.5 171.5 585.5 171.4 587.5 171.4 589.5 171.4 591.5 171.3 593.5 171.3 594.0 171.3" fill="none" stroke="#0000f5" stroke-width="3.0" stroke-linejoin="round" stroke-linecap="butt"/>
<path d="M105.5 117.0 107.5 120.8 109.5 124.6 111.5 128.4 113.5 132.2 115.5 136.0 117.5 141.0 119.5 146.0 121.5 150.5 123.5 154.6 125.5 158.4 127.5 161.8 129.5 165.0 131.5 167.8 133.5 170.5 135.5 172.9 137.5 175.0 139.5 177.0 141.5 178.9 143.5 180.5 145.5 182.0 147.5 183.4 149.5 184.7 151.5 185.9 153.5 186.9 155.5 187.9 157.5 188.8 159.5 189.6 161.5 190.3 163.5 191.0 165.5 191.6 167.5 192.1 169.5 192.6 171.5 193.1 173.5 193.5 175.5 193.9 177.5 194.3 179.5 194.6 181.5 194.9 183.5 195.2 185.5 195.4 187.5 195.6 189.5 195.8 191.5 196.0 193.5 196.2 195.5 196.4 197.5 196.5 199.5 196.6 201.5 196.7 203.5 196.9 205.5 197.0 207.5 197.0 209.5 197.1 211.5 197.2 213.5 197.3 215.5 197.3 217.5 197.4 219.5 197.4 221.5 197.5 223.5 197.5 225.5 197.6 227.5 197.6 229.5 197.6 231.5 197.7 233.5 197.7 235.5 197.7 237.5 198.4 239.5 200.8 241.5 203.3 243.5 206.0 245.5 208.7 247.5 211.6 249.5 214.5 251.5 217.5 253.5 220.5 255.5 223.5 257.5 226.5 259.5 229.5 261.5 232.5 263.5 235.5 265.5 238.4 267.5 241.4 269.5 244.2 271.5 247.1 273.5 249.9 275.5 252.7 277.5 255.4 279.5 258.1 281.5 260.7 283.5 263.3 285.5 265.9 287.5 268.4 289.5 270.8 291.5 273.2 293.5 275.6 295.5 277.9 297.5 280.1 299.5 282.3 301.5 284.5 303.5 286.6 305.5 288.7 307.5 290.7 309.5 292.7 311.5 294.6 313.5 296.5 315.5 298.3 317.5 300.0 319.5 301.8 321.5 303.5 323.5 305.1 325.5 306.7 327.5 308.2 329.5 309.7 331.5 311.2 333.5 312.6 335.5 314.0 337.5 315.3 339.5 316.6 341.5 317.9 343.5 319.1 345.5 320.2 347.5 321.4 349.5 322.5 351.5 323.5 353.5 324.6 355.5 325.6 357.5 326.5 359.5 327.4 361.5 328.3 363.5 329.2 365.5 330.0 367.5 330.8 369.5 331.6 371.5 332.3 373.5 333.1 375.5 333.7 377.5 334.4 379.5 335.1 381.5 335.7 383.5 336.3 385.5 336.8 387.5 337.4 389.5 337.9 391.5 338.4 393.5 338.9 395.5 339.4 397.5 339.8 399.5 340.3 401.5 340.7 403.5 341.1 405.5 341.5 407.5 341.8 409.5 342.2 411.5 342.5 413.5 342.9 415.5 343.2 417.5 343.5 419.5 343.8 421.5 344.0 423.5 344.3 425.5 344.6 427.5 344.8 429.5 345.0 431.5 345.3 433.5 345.5 435.5 345.7 437.5 345.9 439.5 346.1 441.5 346.3 443.5 346.4 445.5 346.6 447.5 346.8 449.5 346.9 451.5 347.1 453.5 347.2 455.5 347.3 457.5 347.5 459.5 347.6 461.5 347.7 463.5 347.8 465.5 347.9 467.5 348.0 469.5 348.1 471.5 348.2 473.5 348.3 475.5 348.4 477.5 348.5 479.5 348.6 481.5 348.6 483.5 348.7 485.5 348.8 487.5 348.8 489.5 348.9 491.5 349.0 493.5 349.0 495.5 349.0 497.5 349.0 499.5 349.0 501.5 349.0 503.5 349.0 505.5 349.0 507.5 349.0 509.5 349.0 511.5 349.0 513.5 349.0 515.5 349.0 517.5 349.0 519.5 349.0 521.5 349.0 523.5 349.0 525.5 349.0 527.5 349.0 529.5 349.0 531.5 349.0 533.5 349.0 535.5 349.0 537.5 349.0 539.5 349.0 541.5 349.0 543.5 349.0 545.5 349.0 547.5 349.0 549.5 349.0 551.5 349.0 553.5 349.0 555.5 349.0 557.5 349.0 559.5 349.0 561.5 349.0 563.5 349.0 565.5 349.0 567.5 349.0 569.5 349.0 571.5 349.0 573.5 349.0 575.5 349.0 577.5 349.0 579.5 349.0 581.5 349.0 583.5 349.0 585.5 349.0 587.5 349.0 589.5 349.0 591.5 349.0 593.5 349.0 594.0 349.0" fill="none" stroke="#0000f5" stroke-width="3.0" stroke-linejoin="round" stroke-linecap="butt"/>
<path d="M105.5 124.0 107.5 126.5 109.5 129.0 111.5 131.4 113.5 133.9 115.5 136.4 117.5 141.0 119.5 146.0 121.5 150.6 123.5 154.9 125.5 158.8 127.5 162.4 129.5 165.8 131.5 168.9 133.5 171.7 135.5 174.4 137.5 176.8 139.5 179.0 141.5 181.1 143.5 183.0 145.5 184.8 147.5 186.4 149.5 187.9 151.5 189.3 153.5 190.6 155.5 191.8 157.5 192.9 159.5 193.9 161.5 194.8 163.5 195.7 165.5 196.5 167.5 197.2 169.5 197.9 171.5 198.5 173.5 199.1 175.5 199.6 177.5 200.1 179.5 200.6 181.5 201.0 183.5 201.4 185.5 201.7 187.5 202.0 189.5 202.4 191.5 202.6 193.5 202.9 195.5 203.1 197.5 203.4 199.5 203.6 201.5 203.7 203.5 203.9 205.5 204.1 207.5 204.2 209.5 204.4 211.5 204.5 213.5 204.6 215.5 204.7 217.5 205.0 219.5 205.6 221.5 206.3 223.5 207.1 225.5 208.1 227.5 209.3 229.5 210.7 231.5 212.4 233.5 214.3 235.5 216.5 237.5 218.9 239.5 221.5 241.5 224.3 243.5 227.3 245.5 230.4 247.5 233.7 249.5 237.0 251.5 240.4 253.5 243.8 255.5 247.3 257.5 250.8 259.5 254.2 261.5 257.7 263.5 261.1 265.5 264.5 267.5 267.8 269.5 271.1 271.5 274.3 273.5 277.5 275.5 280.6 277.5 283.6 279.5 286.6 281.5 289.5 283.5 292.3 285.5 295.0 287.5 297.7 289.5 300.2 291.5 302.7 293.5 305.1 295.5 307.4 297.5 309.6 299.5 311.7 301.5 313.8 303.5 315.7 305.5 317.6 307.5 319.4 309.5 321.1 311.5 322.7 313.5 324.2 315.5 325.7 317.5 327.1 319.5 328.4 321.5 329.6 323.5 330.7 325.5 331.8 327.5 332.9 329.5 333.8 331.5 334.7 333.5 335.6 335.5 336.4 337.5 337.1 339.5 337.8 341.5 338.4 343.5 339.0 345.5 339.5 347.5 339.9 349.5 340.3 351.5 340.7 353.5 340.9 355.5 341.1 357.5 341.2 359.5 341.3 361.5 341.3 363.5 341.2 365.5 341.0 367.5 340.8 369.5 340.6 371.5 340.3 373.5 340.0 375.5 339.8 377.5 339.6 379.5 339.4 381.5 339.4 383.5 339.4 385.5 339.5 387.5 339.7 389.5 340.0 391.5 340.3 393.5 340.8 395.5 341.3 397.5 341.8 399.5 342.4 401.5 342.9 403.5 343.5 405.5 344.0 407.5 344.4 409.5 344.8 411.5 345.2 413.5 345.5 415.5 345.8 417.5 346.0 419.5 346.2 421.5 346.3 423.5 346.5 425.5 346.5 427.5 346.6 429.5 346.7 431.5 346.7 433.5 346.8 435.5 346.8 437.5 346.8 439.5 346.8 441.5 346.9 443.5 346.9 445.5 346.9 447.5 346.9 449.5 346.9 451.5 346.9 453.5 346.9 455.5 346.9 457.5 346.9 459.5 346.9 461.5 347.0 463.5 347.0 465.5 347.0 467.5 347.0 469.5 347.0 471.5 347.0 473.5 347.0 475.5 347.0 477.5 347.0 479.5 347.0 481.5 347.0 483.5 347.0 485.5 347.0 487.5 347.0 489.5 347.0 491.5 347.0 493.5 347.0 495.5 347.0 497.5 347.0 499.5 347.0 501.5 347.0 503.5 347.0 505.5 347.0 507.5 347.0 509.5 347.0 511.5 347.0 513.5 347.0 515.5 347.0 517.5 347.0 519.5 347.0 521.5 347.0 523.5 347.0 525.5 347.0 527.5 347.0 529.5 347.0 531.5 347.0 533.5 347.0 535.5 347.0 537.5 347.0 539.5 347.0 541.5 347.0 543.5 347.0 545.5 347.0 547.5 347.0 549.5 347.0 551.5 347.0 553.5 347.0 555.5 347.0 557.5 347.0 559.5 347.0 561.5 347.0 563.5 347.0 565.5 347.0 567.5 347.0 569.5 347.0 571.5 347.0 573.5 347.0 575.5 347.0 577.5 347.0 579.5 347.0 581.5 347.0 583.5 347.0 585.5 347.0 587.5 347.0 589.5 347.0 591.5 347.0 593.5 347.0 594.0 347.0" fill="none" stroke="#0000f5" stroke-width="3.0" stroke-linejoin="round" stroke-linecap="butt"/>
<path d="M105.5 119.0 107.5 122.4 109.5 125.9 111.5 129.3 113.5 132.7 115.5 136.1 117.5 141.1 119.5 146.1 121.5 150.8 123.5 155.1 125.5 159.1 127.5 162.8 129.5 166.2 131.5 169.3 133.5 172.2 135.5 174.9 137.5 177.4 139.5 179.7 141.5 181.8 143.5 183.7 145.5 185.5 147.5 187.1 149.5 188.7 151.5 190.1 153.5 191.4 155.5 192.6 157.5 193.7 159.5 194.7 161.5 195.7 163.5 196.5 165.5 197.3 167.5 198.1 169.5 198.8 171.5 199.4 173.5 200.0 175.5 200.5 177.5 201.0 179.5 201.5 181.5 201.9 183.5 202.3 185.5 202.7 187.5 203.0 189.5 203.3 191.5 203.6 193.5 203.8 195.5 204.1 197.5 204.3 199.5 204.5 201.5 204.7 203.5 204.9 205.5 205.0 207.5 205.2 209.5 205.3 211.5 205.5 213.5 205.6 215.5 205.7 217.5 205.8 219.5 206.0 221.5 206.5 223.5 207.1 225.5 207.9 227.5 208.8 229.5 210.0 231.5 211.3 233.5 212.9 235.5 214.7 237.5 216.8 239.5 219.1 241.5 221.7 243.5 224.4 245.5 227.4 247.5 230.4 249.5 233.7 251.5 237.0 253.5 240.4 255.5 243.8 257.5 247.3 259.5 250.7 261.5 254.2 263.5 257.7 265.5 261.1 267.5 264.5 269.5 267.9 271.5 271.2 273.5 274.5 275.5 277.7 277.5 280.8 279.5 283.9 281.5 286.9 283.5 289.8 285.5 292.7 287.5 295.5 289.5 298.2 291.5 300.8 293.5 303.3 295.5 305.7 297.5 308.1 299.5 310.3 301.5 312.5 303.5 314.6 305.5 316.6 307.5 318.5 309.5 320.4 311.5 322.1 313.5 323.8 315.5 325.3 317.5 326.8 319.5 328.3 321.5 329.6 323.5 330.9 325.5 332.1 327.5 333.2 329.5 334.3 331.5 335.3 333.5 336.2 335.5 337.1 337.5 337.9 339.5 338.6 341.5 339.3 343.5 339.9 345.5 340.4 347.5 340.9 349.5 341.3 351.5 341.6 353.5 341.9 355.5 342.0 357.5 342.1 359.5 342.2 361.5 342.2 363.5 342.1 365.5 342.0 367.5 341.9 369.5 341.8 371.5 341.7 373.5 341.6 375.5 341.6 377.5 341.7 379.5 341.8 381.5 342.0 383.5 342.2 385.5 342.6 387.5 343.0 389.5 343.4 391.5 343.9 393.5 344.4 395.5 344.9 397.5 345.4 399.5 345.9 401.5 346.3 403.5 346.7 405.5 347.0 407.5 347.4 409.5 347.6 411.5 347.8 413.5 348.0 415.5 348.2 417.5 348.3 419.5 348.4 421.5 348.5 423.5 348.6 425.5 348.6 427.5 348.7 429.5 348.7 431.5 348.7 433.5 348.8 435.5 348.8 437.5 348.8 439.5 348.8 441.5 348.8 443.5 348.8 445.5 348.9 447.5 348.9 449.5 348.9 451.5 348.9 453.5 348.9 455.5 348.9 457.5 348.9 459.5 348.9 461.5 348.9 463.5 348.9 465.5 348.9 467.5 349.0 469.5 349.0 471.5 349.0 473.5 349.0 475.5 349.0 477.5 349.0 479.5 349.0 481.5 349.0 483.5 349.0 485.5 349.0 487.5 349.0 489.5 349.0 491.5 349.0 493.5 349.0 495.5 349.0 497.5 349.0 499.5 349.0 501.5 349.0 503.5 349.0 505.5 349.0 507.5 349.0 509.5 349.0 511.5 349.0 513.5 349.0 515.5 349.0 517.5 349.0 519.5 349.0 521.5 349.0 523.5 349.0 525.5 349.0 527.5 349.0 529.5 349.0 531.5 349.0 533.5 349.0 535.5 349.0 537.5 349.0 539.5 349.0 541.5 349.0 543.5 349.0 545.5 349.0 547.5 349.0 549.5 349.0 551.5 349.0 553.5 349.0 555.5 349.0 557.5 349.0 559.5 349.0 561.5 349.0 563.5 349.0 565.5 349.0 567.5 349.0 569.5 349.0 571.5 349.0 573.5 349.0 575.5 349.0 577.5 349.0 579.5 349.0 581.5 349.0 583.5 349.0 585.5 349.0 587.5 349.0 589.5 349.0 591.5 349.0 593.5 349.0 594.0 349.0" fill="none" stroke="#0000f5" stroke-width="3.0" stroke-linejoin="round" stroke-linecap="butt"/>
<path d="M105.5 118.0 107.5 121.7 109.5 125.5 111.5 129.3 113.5 132.9 115.5 136.2 117.5 139.3 119.5 142.2 121.5 145.0 123.5 147.4 125.5 149.5 127.5 151.3 129.5 153.0 131.5 154.5 133.5 156.0 135.5 157.3 137.5 158.5 139.5 159.7 141.5 160.8 143.5 161.9 145.5 162.9 147.5 163.8 149.5 164.8 151.5 165.6 153.5 166.5 155.5 167.3 157.5 168.1 159.5 168.9 161.5 169.6 163.5 170.4 165.5 171.1 167.5 171.9 169.5 172.6 171.5 173.4 173.5 174.1 175.5 174.8 177.5 175.5 179.5 176.2 181.5 176.9 183.5 177.6 185.5 178.2 187.5 178.8 189.5 179.4 191.5 179.9 193.5 180.5 195.5 180.9 197.5 181.4 199.5 181.8 201.5 182.2 203.5 182.5 205.5 182.9 207.5 183.2 209.5 183.5 211.5 183.8 213.5 184.1 215.5 184.3 217.5 184.6 219.5 184.8 221.5 185.1 223.5 185.3 225.5 185.5 227.5 185.7 229.5 185.9 231.5 186.2 233.5 186.4 235.5 186.6 237.5 186.8 239.5 187.0 241.5 187.1 243.5 187.3 245.5 187.5 247.5 187.7 249.5 187.8 251.5 188.0 253.5 188.1 255.5 188.3 257.5 188.4 259.5 188.5 261.5 188.6 263.5 188.7 265.5 188.8 267.5 188.9 269.5 189.0 271.5 189.1 273.5 189.2 275.5 189.3 277.5 189.4 279.5 189.5 281.5 189.6 283.5 189.7 285.5 189.7 287.5 189.8 289.5 189.9 291.5 189.9 293.5 189.9 295.5 190.0 297.5 190.0 299.5 190.0 301.5 189.9 303.5 189.7 305.5 189.4 307.5 188.9 309.5 188.4 311.5 187.8 313.5 187.2 315.5 186.6 317.5 186.1 319.5 185.6 321.5 185.3 323.5 185.1 325.5 185.0 327.5 185.0 329.5 185.1 331.5 185.2 333.5 185.3 335.5 185.5 337.5 185.7 339.5 185.9 341.5 186.1 343.5 186.3 345.5 186.5 347.5 186.7 349.5 186.9 351.5 187.0 353.5 187.3 355.5 187.5 357.5 187.8 359.5 188.1 361.5 188.4 363.5 188.7 365.5 189.0 367.5 189.3 369.5 189.6 371.5 189.9 373.5 190.1 375.5 190.4 377.5 190.6 379.5 190.8 381.5 191.0 383.5 191.2 385.5 191.3 387.5 191.3 389.5 191.4 391.5 191.4 393.5 191.4 395.5 191.5 397.5 191.5 399.5 191.5 401.5 191.6 403.5 191.6 405.5 191.6 407.5 191.6 409.5 191.7 411.5 191.7 413.5 191.7 415.5 191.7 417.5 191.7 419.5 191.8 421.5 191.8 423.5 191.8 425.5 191.8 427.5 191.8 429.5 191.8 431.5 191.9 433.5 191.9 435.5 191.9 437.5 191.9 439.5 191.9 441.5 191.9 443.5 191.9 445.5 192.0 447.5 192.0 449.5 192.0 451.5 192.0 453.5 192.0 455.5 192.0 457.5 192.1 459.5 192.1 461.5 192.1 463.5 192.1 465.5 192.1 467.5 192.1 469.5 192.2 471.5 192.2 473.5 192.2 475.5 192.2 477.5 192.2 479.5 192.2 481.5 192.3 483.5 192.3 485.5 192.3 487.5 192.3 489.5 192.3 491.5 192.3 493.5 192.3 495.5 192.4 497.5 192.4 499.5 192.4 501.5 192.4 503.5 192.4 505.5 192.4 507.5 192.4 509.5 192.5 511.5 192.5 513.5 192.5 515.5 192.5 517.5 192.5 519.5 192.5 521.5 192.5 523.5 192.5 525.5 192.6 527.5 192.6 529.5 192.6 531.5 192.6 533.5 192.6 535.5 192.6 537.5 192.6 539.5 192.6 541.5 192.7 543.5 192.7 545.5 192.7 547.5 192.7 549.5 192.7 551.5 192.7 553.5 192.7 555.5 192.7 557.5 192.8 559.5 192.8 561.5 192.8 563.5 192.8 565.5 192.8 567.5 192.8 569.5 192.8 571.5 192.8 573.5 192.9 575.5 192.9 577.5 192.9 579.5 192.9 581.5 192.9 583.5 192.9 585.5 192.9 587.5 193.0 589.5 193.0 591.5 193.0 593.5 193.0 594.0 193.0" fill="none" stroke="#ff6400" stroke-width="3.0" stroke-linejoin="round" stroke-linecap="butt"/>
<path d="M105.5 123.0 107.5 125.6 109.5 128.3 111.5 130.9 113.5 133.6 115.5 136.3 117.5 139.2 119.5 142.3 121.5 145.4 123.5 148.2 125.5 150.5 127.5 152.5 129.5 154.4 131.5 156.1 133.5 157.7 135.5 159.1 137.5 160.5 139.5 161.7 141.5 162.8 143.5 163.9 145.5 164.9 147.5 165.8 149.5 166.7 151.5 167.6 153.5 168.4 155.5 169.2 157.5 170.0 159.5 170.8 161.5 171.6 163.5 172.4 165.5 173.3 167.5 174.2 169.5 175.2 171.5 176.2 173.5 177.2 175.5 178.1 177.5 179.1 179.5 180.1 181.5 181.0 183.5 181.9 185.5 182.8 187.5 183.6 189.5 184.3 191.5 185.0 193.5 185.6 195.5 186.1 197.5 186.5 199.5 186.8 201.5 187.1 203.5 187.3 205.5 187.5 207.5 187.6 209.5 187.8 211.5 188.0 213.5 188.1 215.5 188.3 217.5 188.4 219.5 188.5 221.5 188.6 223.5 188.7 225.5 188.9 227.5 189.0 229.5 189.0 231.5 189.1 233.5 189.2 235.5 189.3 237.5 189.4 239.5 189.5 241.5 189.6 243.5 189.6 245.5 189.7 247.5 189.8 249.5 189.8 251.5 189.9 253.5 190.0 255.5 190.0 257.5 190.1 259.5 190.1 261.5 190.2 263.5 190.3 265.5 190.3 267.5 190.4 269.5 190.4 271.5 190.5 273.5 190.5 275.5 190.6 277.5 190.7 279.5 190.8 281.5 190.8 283.5 190.9 285.5 191.0 287.5 191.1 289.5 191.2 291.5 191.3 293.5 191.4 295.5 191.5 297.5 191.6 299.5 191.7 301.5 191.7 303.5 191.8 305.5 191.9 307.5 192.0 309.5 192.1 311.5 192.2 313.5 192.2 315.5 192.3 317.5 192.3 319.5 192.4 321.5 192.4 323.5 192.5 325.5 192.5 327.5 192.5 329.5 192.6 331.5 192.6 333.5 192.6 335.5 192.6 337.5 192.6 339.5 192.7 341.5 192.7 343.5 192.7 345.5 192.7 347.5 192.7 349.5 192.7 351.5 192.8 353.5 192.8 355.5 192.8 357.5 192.8 359.5 192.8 361.5 192.8 363.5 192.8 365.5 192.8 367.5 192.9 369.5 192.9 371.5 192.9 373.5 192.9 375.5 192.9 377.5 192.9 379.5 192.9 381.5 193.0 383.5 193.0 385.5 193.0 387.5 193.0 389.5 193.0 391.5 193.0 393.5 193.1 395.5 193.1 397.5 193.1 399.5 193.1 401.5 193.1 403.5 193.1 405.5 193.2 407.5 193.2 409.5 193.2 411.5 193.2 413.5 193.2 415.5 193.3 417.5 193.3 419.5 193.3 421.5 193.3 423.5 193.3 425.5 193.3 427.5 193.4 429.5 193.4 431.5 193.4 433.5 193.4 435.5 193.4 437.5 193.5 439.5 193.5 441.5 193.5 443.5 193.5 445.5 193.5 447.5 193.6 449.5 193.6 451.5 193.6 453.5 193.6 455.5 193.6 457.5 193.7 459.5 193.7 461.5 193.7 463.5 193.7 465.5 193.7 467.5 193.7 469.5 193.8 471.5 193.8 473.5 193.8 475.5 193.8 477.5 193.8 479.5 193.9 481.5 193.9 483.5 193.9 485.5 193.9 487.5 193.9 489.5 194.0 491.5 194.0 493.5 194.0 495.5 194.0 497.5 194.0 499.5 194.1 501.5 194.1 503.5 194.1 505.5 194.1 507.5 194.1 509.5 194.2 511.5 194.2 513.5 194.2 515.5 194.2 517.5 194.2 519.5 194.3 521.5 194.3 523.5 194.3 525.5 194.3 527.5 194.3 529.5 194.4 531.5 194.4 533.5 194.4 535.5 194.4 537.5 194.4 539.5 194.5 541.5 194.5 543.5 194.5 545.5 194.5 547.5 194.5 549.5 194.6 551.5 194.6 553.5 194.6 555.5 194.6 557.5 194.6 559.5 194.7 561.5 194.7 563.5 194.7 565.5 194.7 567.5 194.7 569.5 194.8 571.5 194.8 573.5 194.8 575.5 194.8 577.5 194.8 579.5 194.9 581.5 194.9 583.5 194.9 585.5 194.9 587.5 194.9 589.5 195.0 591.5 195.0 593.5 195.0 594.0 195.0" fill="none" stroke="#ff6400" stroke-width="3.0" stroke-linejoin="round" stroke-linecap="butt"/>
<path d="M105.5 128.0 107.5 129.7 109.5 131.3 111.5 133.0 113.5 134.8 115.5 136.9 117.5 139.6 119.5 142.9 121.5 146.7 123.5 150.4 125.5 153.8 127.5 157.0 129.5 160.1 131.5 163.2 133.5 166.2 135.5 169.0 137.5 171.8 139.5 174.4 141.5 176.9 143.5 179.3 145.5 181.7 147.5 184.1 149.5 186.4 151.5 188.6 153.5 190.6 155.5 192.5 157.5 194.2 159.5 195.7 161.5 197.0 163.5 198.2 165.5 199.3 167.5 200.4 169.5 201.5 171.5 202.4 173.5 203.3 175.5 204.2 177.5 205.1 179.5 205.9 181.5 206.6 183.5 207.4 185.5 208.1 187.5 208.8 189.5 209.5 191.5 210.2 193.5 210.8 195.5 211.4 197.5 211.9 199.5 212.4 201.5 212.8 203.5 213.1 205.5 213.5 207.5 213.8 209.5 214.1 211.5 214.4 213.5 214.7 215.5 214.9 217.5 215.2 219.5 215.4 221.5 215.6 223.5 215.9 225.5 216.1 227.5 216.3 229.5 216.5 231.5 216.7 233.5 216.9 235.5 217.1 237.5 217.3 239.5 217.5 241.5 217.8 243.5 218.0 245.5 218.2 247.5 218.5 249.5 218.7 251.5 219.0 253.5 219.3 255.5 219.5 257.5 219.8 259.5 220.1 261.5 220.4 263.5 220.7 265.5 221.0 267.5 221.3 269.5 221.5 271.5 221.8 273.5 222.1 275.5 222.4 277.5 222.7 279.5 222.9 281.5 223.2 283.5 223.5 285.5 223.9 287.5 224.2 289.5 224.6 291.5 224.9 293.5 225.1 295.5 225.4 297.5 225.5 299.5 225.6 301.5 225.6 303.5 225.4 305.5 225.2 307.5 224.9 309.5 224.6 311.5 224.2 313.5 223.8 315.5 223.3 317.5 223.0 319.5 222.6 321.5 222.2 323.5 221.8 325.5 221.3 327.5 220.9 329.5 220.4 331.5 220.0 333.5 219.7 335.5 219.5 337.5 219.4 339.5 219.5 341.5 219.7 343.5 220.1 345.5 220.5 347.5 221.0 349.5 221.6 351.5 222.2 353.5 222.8 355.5 223.4 357.5 224.0 359.5 224.5 361.5 224.8 363.5 225.1 365.5 225.4 367.5 225.7 369.5 226.0 371.5 226.2 373.5 226.5 375.5 226.7 377.5 226.9 379.5 227.1 381.5 227.2 383.5 227.4 385.5 227.5 387.5 227.5 389.5 227.6 391.5 227.6 393.5 227.6 395.5 227.7 397.5 227.7 399.5 227.7 401.5 227.8 403.5 227.8 405.5 227.8 407.5 227.9 409.5 227.9 411.5 227.9 413.5 228.0 415.5 228.0 417.5 228.0 419.5 228.1 421.5 228.1 423.5 228.1 425.5 228.1 427.5 228.2 429.5 228.2 431.5 228.2 433.5 228.2 435.5 228.3 437.5 228.3 439.5 228.3 441.5 228.3 443.5 228.3 445.5 228.4 447.5 228.4 449.5 228.4 451.5 228.4 453.5 228.4 455.5 228.5 457.5 228.5 459.5 228.5 461.5 228.5 463.5 228.5 465.5 228.5 467.5 228.6 469.5 228.6 471.5 228.6 473.5 228.6 475.5 228.6 477.5 228.6 479.5 228.6 481.5 228.7 483.5 228.7 485.5 228.7 487.5 228.7 489.5 228.7 491.5 228.7 493.5 228.7 495.5 228.7 497.5 228.7 499.5 228.8 501.5 228.8 503.5 228.8 505.5 228.8 507.5 228.8 509.5 228.8 511.5 228.8 513.5 228.8 515.5 228.8 517.5 228.8 519.5 228.9 521.5 228.9 523.5 228.9 525.5 228.9 527.5 228.9 529.5 228.9 531.5 228.9 533.5 228.9 535.5 228.9 537.5 228.9 539.5 229.0 541.5 229.0 543.5 229.0 545.5 229.0 547.5 229.0 549.5 229.0 551.5 229.0 553.5 229.0 555.5 229.0 557.5 229.0 559.5 229.1 561.5 229.1 563.5 229.1 565.5 229.1 567.5 229.1 569.5 229.1 571.5 229.1 573.5 229.1 575.5 229.2 577.5 229.2 579.5 229.2 581.5 229.2 583.5 229.2 585.5 229.2 587.5 229.2 589.5 229.3 591.5 229.3 593.5 229.3 594.0 229.3" fill="none" stroke="#ff6400" stroke-width="3.0" stroke-linejoin="round" stroke-linecap="butt"/>
<path d="M105.5 122.0 107.5 124.9 109.5 127.7 111.5 130.6 113.5 133.4 115.5 136.3 117.5 140.8 119.5 145.4 121.5 149.6 123.5 153.5 125.5 157.0 127.5 160.2 129.5 163.1 131.5 165.8 133.5 168.3 135.5 170.5 137.5 172.5 139.5 174.4 141.5 176.1 143.5 177.7 145.5 179.1 147.5 180.4 149.5 181.6 151.5 182.6 153.5 183.6 155.5 184.5 157.5 185.4 159.5 186.1 161.5 186.8 163.5 187.4 165.5 188.0 167.5 188.5 169.5 189.0 171.5 189.4 173.5 189.8 175.5 190.2 177.5 190.5 179.5 190.8 181.5 191.1 183.5 191.3 185.5 191.6 187.5 191.8 189.5 192.0 191.5 192.2 193.5 192.3 195.5 192.5 197.5 192.6 199.5 192.7 201.5 192.8 203.5 192.9 205.5 193.0 207.5 193.1 209.5 193.2 211.5 193.3 213.5 193.3 215.5 193.4 217.5 193.4 219.5 193.5 221.5 193.5 223.5 193.6 225.5 193.6 227.5 194.7 229.5 196.2 231.5 197.9 233.5 199.8 235.5 202.0 237.5 204.3 239.5 206.9 241.5 209.5 243.5 212.3 245.5 215.2 247.5 218.2 249.5 221.2 251.5 224.3 253.5 227.4 255.5 230.5 257.5 233.6 259.5 236.7 261.5 239.8 263.5 242.9 265.5 246.0 267.5 249.0 269.5 252.0 271.5 255.0 273.5 257.9 275.5 260.9 277.5 263.7 279.5 266.6 281.5 269.4 283.5 272.1 285.5 274.8 287.5 277.5 289.5 280.1 291.5 282.7 293.5 285.2 295.5 287.7 297.5 290.2 299.5 292.6 301.5 294.9 303.5 297.2 305.5 299.5 307.5 301.7 309.5 303.8 311.5 305.9 313.5 308.0 315.5 310.0 317.5 311.9 319.5 313.8 321.5 315.7 323.5 317.5 325.5 319.2 327.5 320.9 329.5 322.6 331.5 324.2 333.5 325.7 335.5 327.2 337.5 328.7 339.5 330.1 341.5 331.5 343.5 332.8 345.5 334.1 347.5 335.3 349.5 336.5 351.5 337.7 353.5 338.8 355.5 339.9 357.5 340.9 359.5 341.9 361.5 342.8 363.5 343.8 365.5 344.6 367.5 345.5 369.5 346.3 371.5 347.1 373.5 347.8 375.5 348.6 377.5 349.3 379.5 349.9 381.5 350.5 383.5 351.1 385.5 351.7 387.5 352.3 389.5 352.8 391.5 353.3 393.5 353.8 395.5 354.2 397.5 354.6 399.5 355.0 401.5 355.4 403.5 355.8 405.5 356.1 407.5 356.4 409.5 356.7 411.5 357.0 413.5 357.2 415.5 357.5 417.5 357.7 419.5 357.9 421.5 358.0 423.5 358.2 425.5 358.3 427.5 358.4 429.5 358.5 431.5 358.5 433.5 358.6 435.5 358.6 437.5 358.6 439.5 358.5 441.5 358.5 443.5 358.4 445.5 358.3 447.5 358.1 449.5 358.0 451.5 357.8 453.5 357.6 455.5 357.3 457.5 357.1 459.5 356.8 461.5 356.5 463.5 356.1 465.5 355.8 467.5 355.4 469.5 355.0 471.5 354.6 473.5 354.1 475.5 353.7 477.5 353.2 479.5 352.8 481.5 352.3 483.5 351.9 485.5 351.4 487.5 350.9 489.5 350.5 491.5 350.0 493.5 349.6 495.5 349.2 497.5 348.8 499.5 348.4 501.5 348.0 503.5 347.7 505.5 347.3 507.5 347.0 509.5 346.7 511.5 346.5 513.5 346.2 515.5 345.9 517.5 345.7 519.5 345.5 521.5 345.3 523.5 345.1 525.5 345.0 527.5 344.8 529.5 344.6 531.5 344.5 533.5 344.4 535.5 344.2 537.5 344.1 539.5 344.0 541.5 343.9 543.5 343.8 545.5 343.8 547.5 343.7 549.5 343.6 551.5 343.6 553.5 343.5 555.5 343.5 557.5 343.4 559.5 343.4 561.5 343.4 563.5 343.3 565.5 343.3 567.5 343.3 569.5 343.2 571.5 343.2 573.5 343.2 575.5 343.2 577.5 343.2 579.5 343.1 581.5 343.1 583.5 343.1 585.5 343.1 587.5 343.1 589.5 343.1 591.5 343.1 593.5 343.1 594.0 343.1" fill="none" stroke="#ff6400" stroke-width="3.0" stroke-linejoin="round" stroke-linecap="butt"/>
<path d="M105.5 114.0 107.5 119.1 109.5 124.0 111.5 128.0 113.5 131.7 115.5 134.5 117.5 136.3 119.5 137.7 121.5 138.9 123.5 139.9 125.5 140.7 127.5 141.4 129.5 142.1 131.5 142.6 133.5 143.2 135.5 143.6 137.5 144.0 139.5 144.4 141.5 144.7 143.5 145.1 145.5 145.5 147.5 145.8 149.5 146.1 151.5 146.4 153.5 146.6 155.5 146.8 157.5 147.0 159.5 147.1 161.5 147.2 163.5 147.2 165.5 147.2 167.5 147.1 169.5 147.0 171.5 146.9 173.5 146.7 175.5 146.6 177.5 146.4 179.5 146.2 181.5 146.1 183.5 145.9 185.5 145.7 187.5 145.6 189.5 145.5 191.5 145.3 193.5 145.2 195.5 145.1 197.5 145.0 199.5 144.8 201.5 144.7 203.5 144.6 205.5 144.4 207.5 144.3 209.5 144.2 211.5 144.0 213.5 143.9 215.5 143.8 217.5 143.6 219.5 143.5 221.5 143.4 223.5 143.2 225.5 143.1 227.5 142.9 229.5 142.8 231.5 142.7 233.5 142.5 235.5 142.4 237.5 142.2 239.5 142.1 241.5 142.0 243.5 141.8 245.5 141.7 247.5 141.5 249.5 141.3 251.5 141.1 253.5 140.9 255.5 140.7 257.5 140.4 259.5 140.0 261.5 139.6 263.5 139.2 265.5 138.7 267.5 138.2 269.5 137.7 271.5 137.2 273.5 136.8 275.5 136.4 277.5 136.0 279.5 135.6 281.5 135.2 283.5 134.8 285.5 134.4 287.5 134.2 289.5 133.9 291.5 133.8 293.5 133.8 295.5 134.0 297.5 134.2 299.5 134.6 301.5 135.0 303.5 135.4 305.5 135.8 307.5 136.2 309.5 136.4 311.5 136.7 313.5 136.9 315.5 137.1 317.5 137.3 319.5 137.4 321.5 137.6 323.5 137.8 325.5 137.9 327.5 138.0 329.5 138.2 331.5 138.3 333.5 138.3 335.5 138.4 337.5 138.5 339.5 138.6 341.5 138.7 343.5 138.7 345.5 138.8 347.5 138.9 349.5 138.9 351.5 139.0 353.5 139.1 355.5 139.1 357.5 139.2 359.5 139.2 361.5 139.3 363.5 139.3 365.5 139.4 367.5 139.4 369.5 139.4 371.5 139.4 373.5 139.5 375.5 139.5 377.5 139.5 379.5 139.5 381.5 139.5 383.5 139.5 385.5 139.4 387.5 139.4 389.5 139.4 391.5 139.3 393.5 139.2 395.5 139.2 397.5 139.1 399.5 139.0 401.5 138.9 403.5 138.9 405.5 138.8 407.5 138.7 409.5 138.7 411.5 138.6 413.5 138.6 415.5 138.5 417.5 138.5 419.5 138.5 421.5 138.5 423.5 138.6 425.5 138.6 427.5 138.7 429.5 138.8 431.5 139.0 433.5 139.1 435.5 139.3 437.5 139.4 439.5 139.6 441.5 139.8 443.5 139.9 445.5 140.1 447.5 140.2 449.5 140.4 451.5 140.5 453.5 140.5 455.5 140.6 457.5 140.6 459.5 140.6 461.5 140.5 463.5 140.3 465.5 140.1 467.5 139.9 469.5 139.6 471.5 139.4 473.5 139.1 475.5 138.9 477.5 138.7 479.5 138.6 481.5 138.5 483.5 138.5 485.5 138.5 487.5 138.5 489.5 138.5 491.5 138.5 493.5 138.6 495.5 138.6 497.5 138.6 499.5 138.6 501.5 138.7 503.5 138.7 505.5 138.8 507.5 138.8 509.5 138.9 511.5 139.0 513.5 139.2 515.5 139.4 517.5 139.7 519.5 139.9 521.5 140.2 523.5 140.4 525.5 140.6 527.5 140.8 529.5 140.9 531.5 141.0 533.5 141.0 535.5 141.0 537.5 141.0 539.5 141.0 541.5 141.0 543.5 141.0 545.5 140.9 547.5 140.9 549.5 140.9 551.5 140.9 553.5 140.8 555.5 140.8 557.5 140.8 559.5 140.8 561.5 140.7 563.5 140.7 565.5 140.7 567.5 140.6 569.5 140.6 571.5 140.6 573.5 140.5 575.5 140.5 577.5 140.4 579.5 140.4 581.5 140.3 583.5 140.3 585.5 140.2 587.5 140.2 589.5 140.1 591.5 140.1 593.5 140.0 594.0 140.0" fill="none" stroke="#595959" stroke-width="3.0" stroke-linejoin="round" stroke-linecap="butt"/>
<path d="M105.5 127.0 107.5 126.4 109.5 126.0 111.5 127.2 113.5 131.2 115.5 134.9 117.5 136.8 119.5 138.3 121.5 139.6 123.5 140.7 125.5 141.6 127.5 142.5 129.5 143.3 131.5 144.1 133.5 144.8 135.5 145.5 137.5 146.1 139.5 146.7 141.5 147.3 143.5 147.8 145.5 148.2 147.5 148.6 149.5 148.9 151.5 149.2 153.5 149.5 155.5 149.7 157.5 150.0 159.5 150.2 161.5 150.4 163.5 150.6 165.5 150.8 167.5 150.9 169.5 151.1 171.5 151.1 173.5 151.2 175.5 151.2 177.5 151.2 179.5 151.2 181.5 151.2 183.5 151.2 185.5 151.2 187.5 151.2 189.5 151.2 191.5 151.2 193.5 151.2 195.5 151.2 197.5 151.2 199.5 151.2 201.5 151.2 203.5 151.2 205.5 151.2 207.5 151.2 209.5 151.2 211.5 151.2 213.5 151.2 215.5 151.2 217.5 151.2 219.5 151.2 221.5 151.2 223.5 151.1 225.5 151.1 227.5 151.1 229.5 151.1 231.5 151.0 233.5 151.0 235.5 150.9 237.5 150.9 239.5 150.9 241.5 150.8 243.5 150.8 245.5 150.7 247.5 150.7 249.5 150.6 251.5 150.6 253.5 150.5 255.5 150.4 257.5 150.2 259.5 150.1 261.5 149.9 263.5 149.8 265.5 149.6 267.5 149.4 269.5 149.2 271.5 149.0 273.5 148.8 275.5 148.6 277.5 148.4 279.5 148.2 281.5 148.0 283.5 147.8 285.5 147.6 287.5 147.5 289.5 147.3 291.5 147.1 293.5 146.9 295.5 146.7 297.5 146.4 299.5 146.2 301.5 146.0 303.5 145.8 305.5 145.6 307.5 145.4 309.5 145.3 311.5 145.2 313.5 145.1 315.5 145.0 317.5 145.0 319.5 145.0 321.5 145.1 323.5 145.3 325.5 145.5 327.5 145.7 329.5 145.9 331.5 146.2 333.5 146.5 335.5 146.8 337.5 147.1 339.5 147.4 341.5 147.6 343.5 147.9 345.5 148.0 347.5 148.2 349.5 148.4 351.5 148.7 353.5 148.9 355.5 149.1 357.5 149.3 359.5 149.5 361.5 149.6 363.5 149.8 365.5 149.9 367.5 150.0 369.5 150.0 371.5 150.0 373.5 150.0 375.5 149.9 377.5 149.9 379.5 149.8 381.5 149.7 383.5 149.6 385.5 149.5 387.5 149.4 389.5 149.3 391.5 149.2 393.5 149.1 395.5 149.0 397.5 148.9 399.5 148.7 401.5 148.6 403.5 148.5 405.5 148.4 407.5 148.3 409.5 148.2 411.5 148.2 413.5 148.1 415.5 148.0 417.5 148.0 419.5 148.0 421.5 148.0 423.5 148.2 425.5 148.4 427.5 148.6 429.5 149.0 431.5 149.3 433.5 149.7 435.5 150.0 437.5 150.4 439.5 150.6 441.5 150.8 443.5 151.0 445.5 151.0 447.5 151.0 449.5 150.9 451.5 150.9 453.5 150.8 455.5 150.7 457.5 150.6 459.5 150.5 461.5 150.3 463.5 150.2 465.5 150.1 467.5 150.0 469.5 149.8 471.5 149.7 473.5 149.6 475.5 149.5 477.5 149.5 479.5 149.4 481.5 149.4 483.5 149.4 485.5 149.4 487.5 149.4 489.5 149.5 491.5 149.5 493.5 149.6 495.5 149.7 497.5 149.8 499.5 149.9 501.5 150.0 503.5 150.1 505.5 150.2 507.5 150.3 509.5 150.4 511.5 150.5 513.5 150.6 515.5 150.8 517.5 150.9 519.5 151.0 521.5 151.1 523.5 151.2 525.5 151.3 527.5 151.4 529.5 151.5 531.5 151.6 533.5 151.7 535.5 151.7 537.5 151.8 539.5 151.8 541.5 151.9 543.5 151.9 545.5 151.9 547.5 151.9 549.5 151.9 551.5 151.9 553.5 151.8 555.5 151.8 557.5 151.8 559.5 151.7 561.5 151.7 563.5 151.6 565.5 151.5 567.5 151.5 569.5 151.4 571.5 151.3 573.5 151.3 575.5 151.2 577.5 151.1 579.5 151.1 581.5 151.0 583.5 150.9 585.5 150.9 587.5 150.8 589.5 150.7 591.5 150.7 593.5 150.6 594.0 150.6" fill="none" stroke="#595959" stroke-width="3.0" stroke-linejoin="round" stroke-linecap="butt"/>
<path d="M105.5 125.0 107.5 127.2 109.5 129.4 111.5 131.6 113.5 133.8 115.5 136.0 117.5 138.2 119.5 140.4 121.5 142.6 123.5 144.7 125.5 146.4 127.5 148.0 129.5 149.5 131.5 151.0 133.5 152.3 135.5 153.6 137.5 154.9 139.5 156.1 141.5 157.3 143.5 158.4 145.5 159.5 147.5 160.6 149.5 161.7 151.5 162.8 153.5 163.9 155.5 165.0 157.5 166.2 159.5 167.3 161.5 168.3 163.5 169.3 165.5 170.3 167.5 171.2 169.5 172.0 171.5 172.8 173.5 173.4 175.5 173.9 177.5 174.4 179.5 174.8 181.5 175.3 183.5 175.6 185.5 176.0 187.5 176.4 189.5 176.7 191.5 177.0 193.5 177.3 195.5 177.6 197.5 177.8 199.5 178.1 201.5 178.3 203.5 178.5 205.5 178.7 207.5 179.0 209.5 179.2 211.5 179.4 213.5 179.6 215.5 179.8 217.5 180.0 219.5 180.2 221.5 180.4 223.5 180.6 225.5 180.7 227.5 180.9 229.5 181.1 231.5 181.2 233.5 181.4 235.5 181.5 237.5 181.6 239.5 181.7 241.5 181.8 243.5 181.9 245.5 181.9 247.5 182.0 249.5 182.0 251.5 182.0 253.5 182.0 255.5 181.9 257.5 181.8 259.5 181.7 261.5 181.6 263.5 181.4 265.5 181.3 267.5 181.2 269.5 181.0 271.5 180.9 273.5 180.7 275.5 180.5 277.5 180.2 279.5 180.0 281.5 179.7 283.5 179.6 285.5 179.4 287.5 179.4 289.5 179.4 291.5 179.6 293.5 179.8 295.5 180.0 297.5 180.2 299.5 180.5 301.5 180.7 303.5 180.9 305.5 181.0 307.5 181.1 309.5 181.3 311.5 181.4 313.5 181.5 315.5 181.6 317.5 181.6 319.5 181.7 321.5 181.8 323.5 181.9 325.5 181.9 327.5 182.0 329.5 182.0 331.5 182.1 333.5 182.1 335.5 182.2 337.5 182.2 339.5 182.3 341.5 182.3 343.5 182.4 345.5 182.4 347.5 182.5 349.5 182.5 351.5 182.6 353.5 182.6 355.5 182.7 357.5 182.7 359.5 182.7 361.5 182.8 363.5 182.8 365.5 182.8 367.5 182.9 369.5 182.9 371.5 182.9 373.5 182.9 375.5 182.9 377.5 183.0 379.5 183.0 381.5 183.0 383.5 183.0 385.5 183.0 387.5 183.0 389.5 183.0 391.5 183.0 393.5 183.0 395.5 183.0 397.5 183.0 399.5 183.0 401.5 183.0 403.5 183.0 405.5 183.0 407.5 183.0 409.5 183.0 411.5 183.0 413.5 183.0 415.5 183.0 417.5 183.0 419.5 183.0 421.5 183.0 423.5 183.0 425.5 183.0 427.5 183.0 429.5 183.0 431.5 183.1 433.5 183.1 435.5 183.1 437.5 183.1 439.5 183.2 441.5 183.2 443.5 183.2 445.5 183.3 447.5 183.3 449.5 183.4 451.5 183.4 453.5 183.4 455.5 183.5 457.5 183.5 459.5 183.6 461.5 183.6 463.5 183.7 465.5 183.7 467.5 183.8 469.5 183.8 471.5 183.9 473.5 183.9 475.5 183.9 477.5 184.0 479.5 184.0 481.5 184.1 483.5 184.1 485.5 184.2 487.5 184.2 489.5 184.2 491.5 184.3 493.5 184.3 495.5 184.3 497.5 184.3 499.5 184.4 501.5 184.4 503.5 184.4 505.5 184.4 507.5 184.4 509.5 184.4 511.5 184.4 513.5 184.4 515.5 184.4 517.5 184.4 519.5 184.4 521.5 184.4 523.5 184.4 525.5 184.4 527.5 184.4 529.5 184.4 531.5 184.4 533.5 184.4 535.5 184.4 537.5 184.4 539.5 184.4 541.5 184.5 543.5 184.5 545.5 184.5 547.5 184.5 549.5 184.5 551.5 184.5 553.5 184.5 555.5 184.5 557.5 184.5 559.5 184.5 561.5 184.5 563.5 184.5 565.5 184.5 567.5 184.5 569.5 184.5 571.5 184.5 573.5 184.5 575.5 184.5 577.5 184.5 579.5 184.5 581.5 184.5 583.5 184.5 585.5 184.5 587.5 184.5 589.5 184.5 591.5 184.5 593.5 184.5 594.0 184.5" fill="none" stroke="#595959" stroke-width="3.0" stroke-linejoin="round" stroke-linecap="butt"/>
<path d="M105.5 120.0 107.5 123.3 109.5 126.7 111.5 130.0 113.5 133.4 115.5 136.7 117.5 140.0 119.5 143.3 121.5 146.5 123.5 149.7 125.5 152.8 127.5 155.7 129.5 158.7 131.5 161.6 133.5 164.4 135.5 167.2 137.5 169.8 139.5 172.4 141.5 174.9 143.5 177.3 145.5 179.8 147.5 182.1 149.5 184.5 151.5 186.7 153.5 188.9 155.5 190.9 157.5 192.8 159.5 194.6 161.5 196.2 163.5 197.9 165.5 199.4 167.5 200.9 169.5 202.3 171.5 203.5 173.5 204.4 175.5 205.2 177.5 205.8 179.5 206.4 181.5 207.0 183.5 207.5 185.5 208.0 187.5 208.5 189.5 208.9 191.5 209.3 193.5 209.6 195.5 209.8 197.5 209.9 199.5 210.0 201.5 210.0 203.5 210.0 205.5 210.0 207.5 210.0 209.5 209.9 211.5 209.9 213.5 209.9 215.5 209.8 217.5 209.8 219.5 209.8 221.5 209.7 223.5 209.7 225.5 209.6 227.5 209.5 229.5 209.5 231.5 209.4 233.5 209.4 235.5 209.3 237.5 209.2 239.5 209.2 241.5 209.1 243.5 209.0 245.5 209.0 247.5 208.9 249.5 208.8 251.5 208.7 253.5 208.7 255.5 208.6 257.5 208.5 259.5 208.5 261.5 208.4 263.5 208.3 265.5 208.2 267.5 208.1 269.5 208.1 271.5 208.0 273.5 207.9 275.5 207.7 277.5 207.6 279.5 207.5 281.5 207.4 283.5 207.2 285.5 207.1 287.5 206.9 289.5 206.7 291.5 206.5 293.5 206.3 295.5 206.1 297.5 205.7 299.5 205.2 301.5 204.6 303.5 203.9 305.5 203.3 307.5 202.6 309.5 201.8 311.5 201.2 313.5 200.4 315.5 199.6 317.5 198.6 319.5 197.7 321.5 196.9 323.5 196.4 325.5 196.3 327.5 196.4 329.5 196.5 331.5 196.7 333.5 197.0 335.5 197.3 337.5 197.6 339.5 197.9 341.5 198.2 343.5 198.6 345.5 199.1 347.5 199.5 349.5 200.0 351.5 200.5 353.5 200.9 355.5 201.2 357.5 201.5 359.5 201.8 361.5 202.1 363.5 202.3 365.5 202.6 367.5 202.9 369.5 203.1 371.5 203.3 373.5 203.6 375.5 203.8 377.5 203.9 379.5 204.1 381.5 204.2 383.5 204.3 385.5 204.4 387.5 204.4 389.5 204.4 391.5 204.5 393.5 204.5 395.5 204.5 397.5 204.5 399.5 204.6 401.5 204.6 403.5 204.6 405.5 204.6 407.5 204.6 409.5 204.7 411.5 204.7 413.5 204.7 415.5 204.7 417.5 204.7 419.5 204.7 421.5 204.8 423.5 204.8 425.5 204.8 427.5 204.8 429.5 204.8 431.5 204.8 433.5 204.9 435.5 204.9 437.5 204.9 439.5 204.9 441.5 204.9 443.5 204.9 445.5 204.9 447.5 205.0 449.5 205.0 451.5 205.0 453.5 205.0 455.5 205.0 457.5 205.0 459.5 205.0 461.5 205.0 463.5 205.0 465.5 205.0 467.5 205.1 469.5 205.1 471.5 205.1 473.5 205.1 475.5 205.1 477.5 205.1 479.5 205.1 481.5 205.1 483.5 205.1 485.5 205.1 487.5 205.1 489.5 205.1 491.5 205.2 493.5 205.2 495.5 205.2 497.5 205.2 499.5 205.2 501.5 205.2 503.5 205.2 505.5 205.2 507.5 205.2 509.5 205.2 511.5 205.2 513.5 205.2 515.5 205.2 517.5 205.2 519.5 205.2 521.5 205.2 523.5 205.2 525.5 205.3 527.5 205.3 529.5 205.3 531.5 205.3 533.5 205.3 535.5 205.3 537.5 205.3 539.5 205.3 541.5 205.3 543.5 205.3 545.5 205.3 547.5 205.3 549.5 205.3 551.5 205.3 553.5 205.3 555.5 205.3 557.5 205.3 559.5 205.4 561.5 205.4 563.5 205.4 565.5 205.4 567.5 205.4 569.5 205.4 571.5 205.4 573.5 205.4 575.5 205.4 577.5 205.4 579.5 205.4 581.5 205.4 583.5 205.4 585.5 205.5 587.5 205.5 589.5 205.5 591.5 205.5 593.5 205.5 594.0 205.5" fill="none" stroke="#595959" stroke-width="3.0" stroke-linejoin="round" stroke-linecap="butt"/>
<path d="M986.5 116.0 988.5 118.7 990.5 121.5 992.5 124.3 994.5 127.0 996.5 130.0 998.5 133.5 1000.5 136.8 1002.5 139.9 1004.5 143.0 1006.5 145.9 1008.5 148.7 1010.5 151.4 1012.5 154.1 1014.5 156.7 1016.5 159.3 1018.5 161.8 1020.5 164.4 1022.5 167.1 1024.5 169.8 1026.5 172.7 1028.5 175.7 1030.5 179.0 1032.5 182.5 1034.5 186.3 1036.5 190.4 1038.5 194.8 1040.5 199.5 1042.5 204.4 1044.5 209.7 1046.5 215.2 1048.5 220.9 1050.5 226.7 1052.5 232.7 1054.5 238.8 1056.5 244.9 1058.5 251.0 1060.5 257.1 1062.5 263.2 1064.5 269.2 1066.5 275.2 1068.5 281.1 1070.5 286.9 1072.5 292.7 1074.5 298.3 1076.5 303.7 1078.5 309.1 1080.5 314.3 1082.5 319.4 1084.5 324.3 1086.5 329.0 1088.5 333.6 1090.5 337.9 1092.5 342.1 1094.5 346.1 1096.5 349.9 1098.5 353.5 1100.5 356.8 1102.5 360.0 1104.5 362.9 1106.5 365.6 1108.5 368.1 1110.5 370.4 1112.5 372.6 1114.5 374.5 1116.5 376.3 1118.5 377.9 1120.5 379.3 1122.5 380.7 1124.5 381.8 1126.5 382.9 1128.5 383.8 1130.5 384.7 1132.5 385.4 1134.5 386.1 1136.5 386.7 1138.5 387.2 1140.5 387.6 1142.5 388.0 1144.5 388.4 1146.5 388.7 1148.5 389.0 1150.5 389.2 1152.5 389.4 1154.5 389.6 1156.5 389.8 1158.5 389.9 1160.5 390.1 1162.5 390.2 1164.5 390.3 1166.5 390.3 1168.5 390.4 1170.5 390.4 1172.5 390.3 1174.5 390.2 1176.5 389.9 1178.5 389.5 1180.5 388.9 1182.5 388.2 1184.5 387.2 1186.5 386.0 1188.5 384.6 1190.5 383.2 1192.5 381.8 1194.5 380.6 1196.5 379.6 1198.5 379.0 1200.5 378.9 1202.5 379.3 1204.5 380.1 1206.5 381.2 1208.5 382.6 1210.5 384.1 1212.5 385.5 1214.5 386.9 1216.5 388.1 1218.5 389.1 1220.5 390.1 1222.5 391.0 1224.5 391.9 1226.5 392.9 1228.5 394.0 1230.5 395.3 1232.5 396.6 1234.5 398.0 1236.5 399.3 1238.5 400.2 1240.5 400.8 1242.5 401.0 1244.5 400.6 1246.5 399.8 1248.5 398.7 1250.5 397.4 1252.5 396.0 1254.5 394.8 1256.5 393.7 1258.5 392.8 1260.5 392.2 1262.5 391.7 1264.5 391.4 1266.5 391.2 1268.5 391.1 1270.5 391.0 1272.5 391.0 1274.5 391.0 1276.5 391.0 1278.5 391.0 1280.5 391.0 1282.5 391.0 1284.5 391.0 1286.5 391.0 1288.5 391.0 1290.5 391.0 1292.5 391.0 1294.5 391.0 1296.5 391.0 1298.5 391.0 1300.5 391.0 1302.5 391.0 1304.5 391.0 1306.5 391.0 1308.5 391.0 1310.5 391.0 1312.5 391.0 1314.5 391.0 1316.5 391.0 1318.5 391.0 1320.5 391.0 1322.5 391.0 1324.5 391.0 1326.5 391.0 1328.5 391.0 1330.5 391.0 1332.5 391.0 1334.5 391.0 1336.5 391.0 1338.5 391.0 1340.5 391.0 1342.5 391.0 1344.5 391.0 1346.5 391.0 1348.5 391.0 1350.5 391.0 1352.5 391.0 1354.5 391.0 1356.5 391.0 1358.5 391.0 1360.5 391.0 1362.5 391.0 1364.5 391.0 1366.5 391.0 1368.5 391.0 1370.5 391.0 1372.5 391.0 1374.5 391.0 1376.5 391.0 1378.5 391.0 1380.5 391.0 1382.5 391.0 1384.5 391.0 1386.5 391.0 1388.5 391.0 1390.5 391.0 1392.5 391.0 1394.5 391.0 1396.5 391.0 1398.5 391.0 1400.5 391.0 1402.5 391.0 1404.5 391.0 1406.5 391.0 1408.5 391.0 1410.5 391.0 1412.5 391.0 1414.5 391.0 1416.5 391.0 1418.5 391.0 1420.5 391.0 1422.5 391.0 1424.5 391.0 1426.5 391.0 1428.5 391.0 1430.5 391.0 1432.5 391.0 1434.5 391.0 1436.5 391.0 1438.5 391.0 1440.5 391.0 1442.5 391.0 1444.5 391.0 1446.5 391.0 1448.5 391.0 1450.5 391.0 1452.5 391.0 1454.5 391.0 1456.5 391.0 1458.5 391.0 1460.5 391.0 1462.5 391.0 1464.5 391.0 1466.5 391.0 1468.5 391.0 1470.5 391.0 1472.5 391.0 1474.5 391.0 1475.3 391.0" fill="none" stroke="#8e5410" stroke-width="3.0" stroke-linejoin="round" stroke-linecap="butt"/>
<path d="M986.5 116.0 988.5 118.7 990.5 121.5 992.5 124.3 994.5 127.0 996.5 129.5 998.5 130.8 1000.5 132.0 1002.5 133.1 1004.5 134.0 1006.5 134.8 1008.5 135.5 1010.5 136.2 1012.5 136.9 1014.5 137.6 1016.5 138.3 1018.5 139.1 1020.5 140.0 1022.5 141.0 1024.5 142.2 1026.5 143.5 1028.5 145.2 1030.5 147.1 1032.5 149.2 1034.5 151.7 1036.5 154.6 1038.5 157.7 1040.5 161.2 1042.5 164.9 1044.5 168.9 1046.5 173.1 1048.5 177.5 1050.5 182.0 1052.5 186.7 1054.5 191.4 1056.5 196.1 1058.5 200.9 1060.5 205.6 1062.5 210.3 1064.5 214.9 1066.5 219.5 1068.5 223.9 1070.5 228.2 1072.5 232.3 1074.5 236.3 1076.5 240.1 1078.5 243.7 1080.5 247.0 1082.5 250.2 1084.5 253.1 1086.5 255.8 1088.5 258.3 1090.5 260.5 1092.5 262.5 1094.5 264.3 1096.5 265.9 1098.5 267.3 1100.5 268.6 1102.5 269.7 1104.5 270.6 1106.5 271.4 1108.5 272.1 1110.5 272.7 1112.5 273.2 1114.5 273.7 1116.5 274.0 1118.5 274.3 1120.5 274.6 1122.5 274.8 1124.5 274.9 1126.5 275.1 1128.5 275.2 1130.5 275.2 1132.5 275.3 1134.5 275.3 1136.5 275.3 1138.5 275.3 1140.5 275.3 1142.5 275.2 1144.5 275.2 1146.5 275.1 1148.5 275.1 1150.5 275.0 1152.5 274.9 1154.5 274.8 1156.5 274.7 1158.5 274.5 1160.5 274.4 1162.5 274.2 1164.5 274.1 1166.5 273.9 1168.5 273.8 1170.5 273.6 1172.5 273.4 1174.5 273.2 1176.5 273.0 1178.5 272.7 1180.5 272.5 1182.5 272.3 1184.5 272.0 1186.5 271.7 1188.5 271.5 1190.5 271.2 1192.5 270.9 1194.5 270.6 1196.5 270.3 1198.5 269.9 1200.5 269.6 1202.5 269.3 1204.5 268.9 1206.5 268.5 1208.5 268.2 1210.5 267.8 1212.5 267.4 1214.5 267.0 1216.5 266.6 1218.5 266.3 1220.5 265.9 1222.5 265.5 1224.5 265.1 1226.5 264.7 1228.5 264.3 1230.5 263.9 1232.5 263.5 1234.5 263.1 1236.5 262.7 1238.5 262.3 1240.5 261.9 1242.5 261.6 1244.5 261.2 1246.5 260.8 1248.5 260.5 1250.5 260.1 1252.5 259.8 1254.5 259.5 1256.5 259.2 1258.5 258.9 1260.5 258.6 1262.5 258.3 1264.5 258.0 1266.5 257.8 1268.5 257.5 1270.5 257.3 1272.5 257.0 1274.5 256.8 1276.5 256.6 1278.5 256.4 1280.5 256.2 1282.5 256.0 1284.5 255.9 1286.5 255.7 1288.5 255.5 1290.5 255.4 1292.5 255.2 1294.5 255.1 1296.5 255.0 1298.5 254.9 1300.5 254.8 1302.5 254.6 1304.5 254.5 1306.5 254.4 1308.5 254.4 1310.5 254.3 1312.5 254.2 1314.5 254.1 1316.5 254.0 1318.5 254.0 1320.5 253.9 1322.5 253.9 1324.5 253.8 1326.5 253.7 1328.5 253.7 1330.5 253.7 1332.5 253.6 1334.5 253.6 1336.5 253.5 1338.5 253.5 1340.5 253.5 1342.5 253.4 1344.5 253.4 1346.5 253.4 1348.5 253.3 1350.5 253.3 1352.5 253.3 1354.5 253.3 1356.5 253.3 1358.5 253.2 1360.5 253.2 1362.5 253.2 1364.5 253.2 1366.5 253.2 1368.5 253.2 1370.5 253.1 1372.5 253.1 1374.5 253.1 1376.5 253.1 1378.5 253.1 1380.5 253.1 1382.5 253.1 1384.5 253.1 1386.5 253.1 1388.5 253.1 1390.5 253.1 1392.5 253.0 1394.5 253.0 1396.5 253.0 1398.5 253.0 1400.5 253.0 1402.5 253.0 1404.5 253.0 1406.5 253.0 1408.5 253.0 1410.5 253.0 1412.5 253.0 1414.5 253.0 1416.5 253.0 1418.5 253.0 1420.5 253.0 1422.5 253.0 1424.5 253.0 1426.5 253.0 1428.5 253.0 1430.5 253.0 1432.5 253.0 1434.5 253.0 1436.5 253.0 1438.5 253.0 1440.5 253.0 1442.5 253.0 1444.5 253.0 1446.5 253.0 1448.5 253.0 1450.5 253.0 1452.5 253.0 1454.5 253.0 1456.5 253.0 1458.5 253.0 1460.5 253.0 1462.5 253.0 1464.5 253.0 1466.5 253.0 1468.5 253.0 1470.5 253.0 1472.5 253.0 1474.5 253.0 1475.3 253.0" fill="none" stroke="#8e5410" stroke-width="3.0" stroke-linejoin="round" stroke-linecap="butt"/>
<path d="M986.5 116.0 988.5 118.7 990.5 121.5 992.5 124.2 994.5 127.0 996.5 129.4 998.5 130.8 1000.5 131.9 1002.5 132.9 1004.5 133.7 1006.5 134.5 1008.5 135.1 1010.5 135.7 1012.5 136.3 1014.5 136.8 1016.5 137.3 1018.5 137.8 1020.5 138.4 1022.5 139.0 1024.5 139.7 1026.5 140.5 1028.5 141.5 1030.5 142.6 1032.5 143.9 1034.5 145.5 1036.5 147.4 1038.5 149.6 1040.5 152.1 1042.5 154.9 1044.5 158.1 1046.5 161.5 1048.5 165.3 1050.5 169.3 1052.5 173.6 1054.5 178.0 1056.5 182.5 1058.5 187.2 1060.5 191.9 1062.5 196.7 1064.5 201.5 1066.5 206.3 1068.5 211.1 1070.5 215.8 1072.5 220.4 1074.5 224.9 1076.5 229.3 1078.5 233.6 1080.5 237.7 1082.5 241.6 1084.5 245.3 1086.5 248.8 1088.5 252.1 1090.5 255.2 1092.5 258.0 1094.5 260.6 1096.5 263.0 1098.5 265.2 1100.5 267.1 1102.5 268.8 1104.5 270.4 1106.5 271.7 1108.5 272.9 1110.5 273.9 1112.5 274.8 1114.5 275.6 1116.5 276.3 1118.5 276.8 1120.5 277.3 1122.5 277.7 1124.5 278.1 1126.5 278.3 1128.5 278.6 1130.5 278.7 1132.5 278.9 1134.5 279.0 1136.5 279.1 1138.5 279.1 1140.5 279.1 1142.5 279.2 1144.5 279.1 1146.5 279.1 1148.5 279.1 1150.5 279.0 1152.5 279.0 1154.5 278.9 1156.5 278.8 1158.5 278.7 1160.5 278.6 1162.5 278.4 1164.5 278.3 1166.5 278.2 1168.5 278.0 1170.5 277.9 1172.5 277.7 1174.5 277.5 1176.5 277.3 1178.5 277.1 1180.5 276.9 1182.5 276.7 1184.5 276.4 1186.5 276.2 1188.5 275.9 1190.5 275.7 1192.5 275.4 1194.5 275.1 1196.5 274.8 1198.5 274.5 1200.5 274.2 1202.5 273.9 1204.5 273.6 1206.5 273.3 1208.5 272.9 1210.5 272.6 1212.5 272.2 1214.5 271.9 1216.5 271.5 1218.5 271.2 1220.5 270.8 1222.5 270.4 1224.5 270.1 1226.5 269.7 1228.5 269.3 1230.5 269.0 1232.5 268.6 1234.5 268.3 1236.5 267.9 1238.5 267.5 1240.5 267.2 1242.5 266.9 1244.5 266.5 1246.5 266.2 1248.5 265.9 1250.5 265.6 1252.5 265.3 1254.5 265.0 1256.5 264.7 1258.5 264.4 1260.5 264.1 1262.5 263.9 1264.5 263.6 1266.5 263.4 1268.5 263.2 1270.5 262.9 1272.5 262.7 1274.5 262.5 1276.5 262.3 1278.5 262.1 1280.5 262.0 1282.5 261.8 1284.5 261.6 1286.5 261.5 1288.5 261.3 1290.5 261.2 1292.5 261.1 1294.5 261.0 1296.5 260.8 1298.5 260.7 1300.5 260.6 1302.5 260.5 1304.5 260.4 1306.5 260.3 1308.5 260.3 1310.5 260.2 1312.5 260.1 1314.5 260.0 1316.5 260.0 1318.5 259.9 1320.5 259.9 1322.5 259.8 1324.5 259.8 1326.5 259.7 1328.5 259.7 1330.5 259.6 1332.5 259.6 1334.5 259.5 1336.5 259.5 1338.5 259.5 1340.5 259.4 1342.5 259.4 1344.5 259.4 1346.5 259.4 1348.5 259.3 1350.5 259.3 1352.5 259.3 1354.5 259.3 1356.5 259.3 1358.5 259.2 1360.5 259.2 1362.5 259.2 1364.5 259.2 1366.5 259.2 1368.5 259.2 1370.5 259.2 1372.5 259.1 1374.5 259.1 1376.5 259.1 1378.5 259.1 1380.5 259.1 1382.5 259.1 1384.5 259.1 1386.5 259.1 1388.5 259.1 1390.5 259.1 1392.5 259.1 1394.5 259.1 1396.5 259.1 1398.5 259.0 1400.5 259.0 1402.5 259.0 1404.5 259.0 1406.5 259.0 1408.5 259.0 1410.5 259.0 1412.5 259.0 1414.5 259.0 1416.5 259.0 1418.5 259.0 1420.5 259.0 1422.5 259.0 1424.5 259.0 1426.5 259.0 1428.5 259.0 1430.5 259.0 1432.5 259.0 1434.5 259.0 1436.5 259.0 1438.5 259.0 1440.5 259.0 1442.5 259.0 1444.5 259.0 1446.5 259.0 1448.5 259.0 1450.5 259.0 1452.5 259.0 1454.5 259.0 1456.5 259.0 1458.5 259.0 1460.5 259.0 1462.5 259.0 1464.5 259.0 1466.5 259.0 1468.5 259.0 1470.5 259.0 1472.5 259.0 1474.5 259.0 1475.3 259.0" fill="none" stroke="#8e5410" stroke-width="3.0" stroke-linejoin="round" stroke-linecap="butt"/>
<path d="M986.5 116.0 988.5 118.7 990.5 121.5 992.5 124.2 994.5 127.0 996.5 129.9 998.5 133.0 1000.5 135.8 1002.5 138.2 1004.5 140.3 1006.5 142.1 1008.5 143.8 1010.5 145.2 1012.5 146.5 1014.5 147.6 1016.5 148.6 1018.5 149.5 1020.5 150.3 1022.5 151.1 1024.5 151.8 1026.5 152.5 1028.5 153.1 1030.5 153.9 1032.5 154.6 1034.5 155.4 1036.5 156.3 1038.5 157.4 1040.5 158.6 1042.5 160.0 1044.5 161.6 1046.5 163.5 1048.5 165.7 1050.5 168.2 1052.5 171.0 1054.5 174.1 1056.5 177.5 1058.5 181.1 1060.5 185.0 1062.5 189.1 1064.5 193.4 1066.5 197.8 1068.5 202.3 1070.5 206.8 1072.5 211.4 1074.5 216.1 1076.5 220.7 1078.5 225.3 1080.5 229.9 1082.5 234.4 1084.5 238.8 1086.5 243.2 1088.5 247.5 1090.5 251.6 1092.5 255.6 1094.5 259.5 1096.5 263.3 1098.5 266.9 1100.5 270.3 1102.5 273.6 1104.5 276.7 1106.5 279.7 1108.5 282.4 1110.5 285.0 1112.5 287.4 1114.5 289.6 1116.5 291.7 1118.5 293.5 1120.5 295.3 1122.5 296.8 1124.5 298.3 1126.5 299.6 1128.5 300.7 1130.5 301.8 1132.5 302.7 1134.5 303.5 1136.5 304.3 1138.5 305.0 1140.5 305.5 1142.5 306.0 1144.5 306.5 1146.5 306.8 1148.5 306.9 1150.5 306.9 1152.5 306.6 1154.5 306.0 1156.5 305.0 1158.5 303.6 1160.5 301.8 1162.5 299.9 1164.5 298.0 1166.5 296.4 1168.5 295.5 1170.5 295.3 1172.5 296.1 1174.5 297.5 1176.5 299.4 1178.5 301.6 1180.5 303.7 1182.5 305.5 1184.5 306.9 1186.5 308.0 1188.5 308.7 1190.5 309.1 1192.5 309.4 1194.5 309.5 1196.5 309.6 1198.5 309.6 1200.5 309.6 1202.5 309.6 1204.5 309.6 1206.5 309.6 1208.5 309.6 1210.5 309.5 1212.5 309.5 1214.5 309.4 1216.5 309.4 1218.5 309.3 1220.5 309.3 1222.5 309.2 1224.5 309.1 1226.5 309.1 1228.5 309.0 1230.5 308.9 1232.5 308.8 1234.5 308.7 1236.5 308.6 1238.5 308.5 1240.5 308.3 1242.5 308.2 1244.5 308.0 1246.5 307.9 1248.5 307.7 1250.5 307.5 1252.5 307.4 1254.5 307.2 1256.5 307.0 1258.5 306.8 1260.5 306.5 1262.5 306.3 1264.5 306.1 1266.5 305.9 1268.5 305.7 1270.5 305.4 1272.5 305.2 1274.5 305.0 1276.5 304.8 1278.5 304.6 1280.5 304.3 1282.5 304.1 1284.5 303.9 1286.5 303.7 1288.5 303.6 1290.5 303.4 1292.5 303.2 1294.5 303.0 1296.5 302.9 1298.5 302.7 1300.5 302.6 1302.5 302.5 1304.5 302.4 1306.5 302.2 1308.5 302.1 1310.5 302.0 1312.5 302.0 1314.5 301.9 1316.5 301.8 1318.5 301.7 1320.5 301.7 1322.5 301.6 1324.5 301.6 1326.5 301.5 1328.5 301.5 1330.5 301.4 1332.5 301.4 1334.5 301.3 1336.5 301.3 1338.5 301.3 1340.5 301.3 1342.5 301.2 1344.5 301.2 1346.5 301.2 1348.5 301.2 1350.5 301.2 1352.5 301.1 1354.5 301.1 1356.5 301.1 1358.5 301.1 1360.5 301.1 1362.5 301.1 1364.5 301.1 1366.5 301.1 1368.5 301.1 1370.5 301.1 1372.5 301.1 1374.5 301.0 1376.5 301.0 1378.5 301.0 1380.5 301.0 1382.5 301.0 1384.5 301.0 1386.5 301.0 1388.5 301.0 1390.5 301.0 1392.5 301.0 1394.5 301.0 1396.5 301.0 1398.5 301.0 1400.5 301.0 1402.5 301.0 1404.5 301.0 1406.5 301.0 1408.5 301.0 1410.5 301.0 1412.5 301.0 1414.5 301.0 1416.5 301.0 1418.5 301.0 1420.5 301.0 1422.5 301.0 1424.5 301.0 1426.5 301.0 1428.5 301.0 1430.5 301.0 1432.5 301.0 1434.5 301.0 1436.5 301.0 1438.5 301.0 1440.5 301.0 1442.5 301.0 1444.5 301.0 1446.5 301.0 1448.5 301.0 1450.5 301.0 1452.5 301.0 1454.5 301.0 1456.5 301.0 1458.5 301.0 1460.5 301.0 1462.5 301.0 1464.5 301.0 1466.5 301.0 1468.5 301.0 1470.5 301.0 1472.5 301.0 1474.5 301.0 1475.3 301.0" fill="none" stroke="#8e5410" stroke-width="3.0" stroke-linejoin="round" stroke-linecap="butt"/>
<path d="M986.5 116.0 988.5 118.7 990.5 121.5 992.5 124.2 994.5 127.0 996.5 129.9 998.5 133.4 1000.5 136.6 1002.5 139.8 1004.5 142.8 1006.5 145.6 1008.5 148.4 1010.5 151.0 1012.5 153.5 1014.5 156.0 1016.5 158.3 1018.5 160.7 1020.5 163.0 1022.5 165.3 1024.5 167.6 1026.5 169.9 1028.5 172.3 1030.5 174.9 1032.5 177.5 1034.5 180.4 1036.5 183.5 1038.5 186.9 1040.5 190.5 1042.5 194.5 1044.5 198.8 1046.5 203.4 1048.5 208.2 1050.5 213.4 1052.5 218.8 1054.5 224.4 1056.5 230.1 1058.5 236.0 1060.5 241.9 1062.5 247.9 1064.5 253.9 1066.5 259.9 1068.5 265.8 1070.5 271.8 1072.5 277.6 1074.5 283.4 1076.5 289.0 1078.5 294.6 1080.5 300.0 1082.5 305.3 1084.5 310.5 1086.5 315.5 1088.5 320.4 1090.5 325.1 1092.5 329.6 1094.5 334.0 1096.5 338.1 1098.5 342.0 1100.5 345.8 1102.5 349.3 1104.5 352.6 1106.5 355.7 1108.5 358.6 1110.5 361.2 1112.5 363.7 1114.5 366.0 1116.5 368.1 1118.5 370.0 1120.5 371.7 1122.5 373.3 1124.5 374.7 1126.5 376.0 1128.5 377.1 1130.5 378.1 1132.5 379.0 1134.5 379.9 1136.5 380.6 1138.5 381.2 1140.5 381.8 1142.5 382.3 1144.5 382.8 1146.5 383.1 1148.5 383.5 1150.5 383.8 1152.5 384.1 1154.5 384.3 1156.5 384.5 1158.5 384.7 1160.5 384.9 1162.5 385.0 1164.5 385.1 1166.5 385.2 1168.5 385.2 1170.5 385.2 1172.5 385.2 1174.5 385.0 1176.5 384.8 1178.5 384.4 1180.5 383.8 1182.5 382.9 1184.5 381.9 1186.5 380.6 1188.5 379.1 1190.5 377.6 1192.5 376.0 1194.5 374.7 1196.5 373.7 1198.5 373.0 1200.5 372.9 1202.5 373.3 1204.5 374.2 1206.5 375.4 1208.5 376.9 1210.5 378.5 1212.5 380.0 1214.5 381.5 1216.5 382.8 1218.5 384.0 1220.5 385.0 1222.5 386.0 1224.5 387.1 1226.5 388.2 1228.5 389.5 1230.5 391.0 1232.5 392.6 1234.5 394.2 1236.5 395.7 1238.5 396.8 1240.5 397.4 1242.5 397.5 1244.5 397.0 1246.5 396.0 1248.5 394.5 1250.5 392.8 1252.5 391.1 1254.5 389.5 1256.5 388.0 1258.5 386.8 1260.5 385.9 1262.5 385.2 1264.5 384.7 1266.5 384.3 1268.5 384.1 1270.5 383.9 1272.5 383.7 1274.5 383.6 1276.5 383.5 1278.5 383.4 1280.5 383.3 1282.5 383.3 1284.5 383.2 1286.5 383.2 1288.5 383.2 1290.5 383.1 1292.5 383.1 1294.5 383.1 1296.5 383.1 1298.5 383.1 1300.5 383.0 1302.5 383.0 1304.5 383.0 1306.5 383.0 1308.5 383.0 1310.5 383.0 1312.5 383.0 1314.5 383.0 1316.5 383.0 1318.5 383.0 1320.5 383.0 1322.5 383.0 1324.5 383.0 1326.5 383.0 1328.5 383.0 1330.5 383.0 1332.5 383.0 1334.5 383.0 1336.5 383.0 1338.5 383.0 1340.5 383.0 1342.5 383.0 1344.5 383.0 1346.5 383.0 1348.5 383.0 1350.5 383.0 1352.5 383.0 1354.5 383.0 1356.5 383.0 1358.5 383.0 1360.5 383.0 1362.5 383.0 1364.5 383.0 1366.5 383.0 1368.5 383.0 1370.5 383.0 1372.5 383.0 1374.5 383.0 1376.5 383.0 1378.5 383.0 1380.5 383.0 1382.5 383.0 1384.5 383.0 1386.5 383.0 1388.5 383.0 1390.5 383.0 1392.5 383.0 1394.5 383.0 1396.5 383.0 1398.5 383.0 1400.5 383.0 1402.5 383.0 1404.5 383.0 1406.5 383.0 1408.5 383.0 1410.5 383.0 1412.5 383.0 1414.5 383.0 1416.5 383.0 1418.5 383.0 1420.5 383.0 1422.5 383.0 1424.5 383.0 1426.5 383.0 1428.5 383.0 1430.5 383.0 1432.5 383.0 1434.5 383.0 1436.5 383.0 1438.5 383.0 1440.5 383.0 1442.5 383.0 1444.5 383.0 1446.5 383.0 1448.5 383.0 1450.5 383.0 1452.5 383.0 1454.5 383.0 1456.5 383.0 1458.5 383.0 1460.5 383.0 1462.5 383.0 1464.5 383.0 1466.5 383.0 1468.5 383.0 1470.5 383.0 1472.5 383.0 1474.5 383.0 1475.3 383.0" fill="none" stroke="#fa0000" stroke-width="3.0" stroke-linejoin="round" stroke-linecap="butt"/>
<path d="M986.5 116.0 988.5 118.7 990.5 121.5 992.5 124.2 994.5 127.0 996.5 129.9 998.5 133.3 1000.5 136.6 1002.5 139.7 1004.5 142.7 1006.5 145.5 1008.5 148.2 1010.5 150.8 1012.5 153.3 1014.5 155.7 1016.5 158.0 1018.5 160.2 1020.5 162.4 1022.5 164.5 1024.5 166.6 1026.5 168.7 1028.5 170.8 1030.5 172.9 1032.5 175.2 1034.5 177.5 1036.5 180.0 1038.5 182.7 1040.5 185.6 1042.5 188.8 1044.5 192.3 1046.5 196.0 1048.5 200.1 1050.5 204.6 1052.5 209.3 1054.5 214.3 1056.5 219.5 1058.5 224.9 1060.5 230.5 1062.5 236.2 1064.5 242.0 1066.5 247.9 1068.5 253.7 1070.5 259.5 1072.5 265.3 1074.5 271.0 1076.5 276.7 1078.5 282.2 1080.5 287.7 1082.5 293.0 1084.5 298.1 1086.5 303.1 1088.5 307.9 1090.5 312.6 1092.5 317.0 1094.5 321.3 1096.5 325.3 1098.5 329.2 1100.5 332.8 1102.5 336.1 1104.5 339.3 1106.5 342.2 1108.5 344.9 1110.5 347.3 1112.5 349.6 1114.5 351.7 1116.5 353.5 1118.5 355.2 1120.5 356.7 1122.5 358.1 1124.5 359.3 1126.5 360.3 1128.5 361.3 1130.5 362.1 1132.5 362.9 1134.5 363.5 1136.5 364.1 1138.5 364.6 1140.5 365.0 1142.5 365.4 1144.5 365.7 1146.5 366.0 1148.5 366.2 1150.5 366.4 1152.5 366.5 1154.5 366.6 1156.5 366.6 1158.5 366.5 1160.5 366.3 1162.5 366.0 1164.5 365.5 1166.5 364.9 1168.5 364.1 1170.5 363.1 1172.5 361.8 1174.5 360.3 1176.5 358.7 1178.5 356.8 1180.5 354.8 1182.5 352.8 1184.5 350.7 1186.5 348.8 1188.5 347.1 1190.5 345.7 1192.5 344.6 1194.5 344.1 1196.5 343.9 1198.5 344.3 1200.5 345.1 1202.5 346.4 1204.5 347.9 1206.5 349.8 1208.5 351.8 1210.5 353.8 1212.5 355.8 1214.5 357.8 1216.5 359.5 1218.5 361.1 1220.5 362.4 1222.5 363.5 1224.5 364.3 1226.5 364.9 1228.5 365.4 1230.5 365.6 1232.5 365.6 1234.5 365.5 1236.5 365.3 1238.5 365.0 1240.5 364.6 1242.5 364.1 1244.5 363.6 1246.5 363.0 1248.5 362.5 1250.5 362.0 1252.5 361.5 1254.5 361.1 1256.5 360.7 1258.5 360.4 1260.5 360.1 1262.5 359.9 1264.5 359.7 1266.5 359.6 1268.5 359.5 1270.5 359.4 1272.5 359.3 1274.5 359.2 1276.5 359.2 1278.5 359.1 1280.5 359.1 1282.5 359.1 1284.5 359.1 1286.5 359.0 1288.5 359.0 1290.5 359.0 1292.5 359.0 1294.5 359.0 1296.5 359.0 1298.5 359.0 1300.5 359.0 1302.5 359.0 1304.5 359.0 1306.5 359.0 1308.5 359.0 1310.5 359.0 1312.5 359.0 1314.5 359.0 1316.5 359.0 1318.5 359.0 1320.5 359.0 1322.5 359.0 1324.5 359.0 1326.5 359.0 1328.5 359.0 1330.5 359.0 1332.5 359.0 1334.5 359.0 1336.5 359.0 1338.5 359.0 1340.5 359.0 1342.5 359.0 1344.5 359.0 1346.5 359.0 1348.5 359.0 1350.5 359.0 1352.5 359.0 1354.5 359.0 1356.5 359.0 1358.5 359.0 1360.5 359.0 1362.5 359.0 1364.5 359.0 1366.5 359.0 1368.5 359.0 1370.5 359.0 1372.5 359.0 1374.5 359.0 1376.5 359.0 1378.5 359.0 1380.5 359.0 1382.5 359.0 1384.5 359.0 1386.5 359.0 1388.5 359.0 1390.5 359.0 1392.5 359.0 1394.5 359.0 1396.5 359.0 1398.5 359.0 1400.5 359.0 1402.5 359.0 1404.5 359.0 1406.5 359.0 1408.5 359.0 1410.5 359.0 1412.5 359.0 1414.5 359.0 1416.5 359.0 1418.5 359.0 1420.5 359.0 1422.5 359.0 1424.5 359.0 1426.5 359.0 1428.5 359.0 1430.5 359.0 1432.5 359.0 1434.5 359.0 1436.5 359.0 1438.5 359.0 1440.5 359.0 1442.5 359.0 1444.5 359.0 1446.5 359.0 1448.5 359.0 1450.5 359.0 1452.5 359.0 1454.5 359.0 1456.5 359.0 1458.5 359.0 1460.5 359.0 1462.5 359.0 1464.5 359.0 1466.5 359.0 1468.5 359.0 1470.5 359.0 1472.5 359.0 1474.5 359.0 1475.3 359.0" fill="none" stroke="#fa0000" stroke-width="3.0" stroke-linejoin="round" stroke-linecap="butt"/>
<path d="M986.5 116.0 988.5 118.7 990.5 121.5 992.5 124.2 994.5 127.0 996.5 129.9 998.5 133.3 1000.5 136.6 1002.5 139.7 1004.5 142.6 1006.5 145.5 1008.5 148.1 1010.5 150.7 1012.5 153.2 1014.5 155.5 1016.5 157.8 1018.5 159.9 1020.5 162.0 1022.5 164.0 1024.5 166.0 1026.5 167.9 1028.5 169.8 1030.5 171.7 1032.5 173.6 1034.5 175.6 1036.5 177.7 1038.5 179.9 1040.5 182.2 1042.5 184.7 1044.5 187.4 1046.5 190.4 1048.5 193.7 1050.5 197.3 1052.5 201.2 1054.5 205.4 1056.5 210.0 1058.5 214.9 1060.5 220.0 1062.5 225.3 1064.5 230.8 1066.5 236.4 1068.5 242.1 1070.5 247.8 1072.5 253.6 1074.5 259.4 1076.5 265.2 1078.5 270.9 1080.5 276.5 1082.5 282.0 1084.5 287.4 1086.5 292.7 1088.5 297.9 1090.5 302.9 1092.5 307.7 1094.5 312.4 1096.5 316.8 1098.5 321.1 1100.5 325.1 1102.5 329.0 1104.5 332.6 1106.5 335.9 1108.5 339.1 1110.5 342.0 1112.5 344.7 1114.5 347.2 1116.5 349.5 1118.5 351.5 1120.5 353.4 1122.5 355.1 1124.5 356.6 1126.5 358.0 1128.5 359.2 1130.5 360.3 1132.5 361.2 1134.5 362.1 1136.5 362.8 1138.5 363.5 1140.5 364.0 1142.5 364.5 1144.5 364.9 1146.5 365.3 1148.5 365.6 1150.5 365.8 1152.5 365.9 1154.5 365.9 1156.5 365.8 1158.5 365.6 1160.5 365.3 1162.5 364.8 1164.5 364.1 1166.5 363.2 1168.5 362.1 1170.5 360.8 1172.5 359.2 1174.5 357.6 1176.5 355.8 1178.5 353.9 1180.5 352.1 1182.5 350.3 1184.5 348.8 1186.5 347.5 1188.5 346.5 1190.5 346.0 1192.5 345.9 1194.5 346.2 1196.5 347.0 1198.5 348.2 1200.5 349.6 1202.5 351.3 1204.5 353.1 1206.5 355.0 1208.5 356.9 1210.5 358.7 1212.5 360.3 1214.5 361.8 1216.5 363.0 1218.5 364.1 1220.5 364.9 1222.5 365.5 1224.5 366.0 1226.5 366.3 1228.5 366.5 1230.5 366.5 1232.5 366.4 1234.5 366.3 1236.5 366.1 1238.5 365.8 1240.5 365.4 1242.5 365.0 1244.5 364.6 1246.5 364.2 1248.5 363.7 1250.5 363.3 1252.5 363.0 1254.5 362.6 1256.5 362.3 1258.5 362.1 1260.5 361.9 1262.5 361.7 1264.5 361.6 1266.5 361.4 1268.5 361.4 1270.5 361.3 1272.5 361.2 1274.5 361.2 1276.5 361.1 1278.5 361.1 1280.5 361.1 1282.5 361.1 1284.5 361.0 1286.5 361.0 1288.5 361.0 1290.5 361.0 1292.5 361.0 1294.5 361.0 1296.5 361.0 1298.5 361.0 1300.5 361.0 1302.5 361.0 1304.5 361.0 1306.5 361.0 1308.5 361.0 1310.5 361.0 1312.5 361.0 1314.5 361.0 1316.5 361.0 1318.5 361.0 1320.5 361.0 1322.5 361.0 1324.5 361.0 1326.5 361.0 1328.5 361.0 1330.5 361.0 1332.5 361.0 1334.5 361.0 1336.5 361.0 1338.5 361.0 1340.5 361.0 1342.5 361.0 1344.5 361.0 1346.5 361.0 1348.5 361.0 1350.5 361.0 1352.5 361.0 1354.5 361.0 1356.5 361.0 1358.5 361.0 1360.5 361.0 1362.5 361.0 1364.5 361.0 1366.5 361.0 1368.5 361.0 1370.5 361.0 1372.5 361.0 1374.5 361.0 1376.5 361.0 1378.5 361.0 1380.5 361.0 1382.5 361.0 1384.5 361.0 1386.5 361.0 1388.5 361.0 1390.5 361.0 1392.5 361.0 1394.5 361.0 1396.5 361.0 1398.5 361.0 1400.5 361.0 1402.5 361.0 1404.5 361.0 1406.5 361.0 1408.5 361.0 1410.5 361.0 1412.5 361.0 1414.5 361.0 1416.5 361.0 1418.5 361.0 1420.5 361.0 1422.5 361.0 1424.5 361.0 1426.5 361.0 1428.5 361.0 1430.5 361.0 1432.5 361.0 1434.5 361.0 1436.5 361.0 1438.5 361.0 1440.5 361.0 1442.5 361.0 1444.5 361.0 1446.5 361.0 1448.5 361.0 1450.5 361.0 1452.5 361.0 1454.5 361.0 1456.5 361.0 1458.5 361.0 1460.5 361.0 1462.5 361.0 1464.5 361.0 1466.5 361.0 1468.5 361.0 1470.5 361.0 1472.5 361.0 1474.5 361.0 1475.3 361.0" fill="none" stroke="#fa0000" stroke-width="3.0" stroke-linejoin="round" stroke-linecap="butt"/>
<path d="M986.5 116.0 988.5 118.7 990.5 121.5 992.5 124.2 994.5 126.9 996.5 129.9 998.5 133.3 1000.5 136.6 1002.5 139.7 1004.5 142.6 1006.5 145.4 1008.5 148.1 1010.5 150.6 1012.5 153.1 1014.5 155.4 1016.5 157.6 1018.5 159.7 1020.5 161.8 1022.5 163.7 1024.5 165.6 1026.5 167.4 1028.5 169.2 1030.5 170.9 1032.5 172.7 1034.5 174.4 1036.5 176.2 1038.5 178.0 1040.5 179.8 1042.5 181.8 1044.5 183.9 1046.5 186.2 1048.5 188.7 1050.5 191.5 1052.5 194.5 1054.5 197.9 1056.5 201.5 1058.5 205.4 1060.5 209.7 1062.5 214.2 1064.5 219.0 1066.5 223.9 1068.5 229.0 1070.5 234.3 1072.5 239.6 1074.5 245.0 1076.5 250.5 1078.5 255.9 1080.5 261.3 1082.5 266.7 1084.5 272.0 1086.5 277.2 1088.5 282.4 1090.5 287.4 1092.5 292.3 1094.5 297.1 1096.5 301.8 1098.5 306.3 1100.5 310.6 1102.5 314.8 1104.5 318.8 1106.5 322.6 1108.5 326.2 1110.5 329.6 1112.5 332.8 1114.5 335.9 1116.5 338.7 1118.5 341.3 1120.5 343.8 1122.5 346.0 1124.5 348.1 1126.5 350.0 1128.5 351.7 1130.5 353.2 1132.5 354.6 1134.5 355.9 1136.5 357.1 1138.5 358.1 1140.5 359.0 1142.5 359.8 1144.5 360.5 1146.5 361.2 1148.5 361.8 1150.5 362.3 1152.5 362.7 1154.5 363.1 1156.5 363.5 1158.5 363.8 1160.5 364.0 1162.5 364.3 1164.5 364.5 1166.5 364.7 1168.5 364.8 1170.5 365.0 1172.5 365.1 1174.5 365.2 1176.5 365.3 1178.5 365.4 1180.5 365.5 1182.5 365.5 1184.5 365.6 1186.5 365.6 1188.5 365.6 1190.5 365.7 1192.5 365.7 1194.5 365.7 1196.5 365.7 1198.5 365.7 1200.5 365.7 1202.5 365.6 1204.5 365.6 1206.5 365.5 1208.5 365.5 1210.5 365.4 1212.5 365.3 1214.5 365.2 1216.5 365.0 1218.5 364.8 1220.5 364.6 1222.5 364.3 1224.5 364.1 1226.5 363.7 1228.5 363.3 1230.5 362.9 1232.5 362.5 1234.5 362.0 1236.5 361.4 1238.5 360.9 1240.5 360.4 1242.5 359.8 1244.5 359.3 1246.5 358.8 1248.5 358.3 1250.5 357.9 1252.5 357.4 1254.5 357.1 1256.5 356.8 1258.5 356.5 1260.5 356.3 1262.5 356.0 1264.5 355.9 1266.5 355.7 1268.5 355.6 1270.5 355.5 1272.5 355.4 1274.5 355.3 1276.5 355.3 1278.5 355.2 1280.5 355.2 1282.5 355.2 1284.5 355.1 1286.5 355.1 1288.5 355.1 1290.5 355.1 1292.5 355.1 1294.5 355.0 1296.5 355.0 1298.5 355.0 1300.5 355.0 1302.5 355.0 1304.5 355.0 1306.5 355.0 1308.5 355.0 1310.5 355.0 1312.5 355.0 1314.5 355.0 1316.5 355.0 1318.5 355.0 1320.5 355.0 1322.5 355.0 1324.5 355.0 1326.5 355.0 1328.5 355.0 1330.5 355.0 1332.5 355.0 1334.5 355.0 1336.5 355.0 1338.5 355.0 1340.5 355.0 1342.5 355.0 1344.5 355.0 1346.5 355.0 1348.5 355.0 1350.5 355.0 1352.5 355.0 1354.5 355.0 1356.5 355.0 1358.5 355.0 1360.5 355.0 1362.5 355.0 1364.5 355.0 1366.5 355.0 1368.5 355.0 1370.5 355.0 1372.5 355.0 1374.5 355.0 1376.5 355.0 1378.5 355.0 1380.5 355.0 1382.5 355.0 1384.5 355.0 1386.5 355.0 1388.5 355.0 1390.5 355.0 1392.5 355.0 1394.5 355.0 1396.5 355.0 1398.5 355.0 1400.5 355.0 1402.5 355.0 1404.5 355.0 1406.5 355.0 1408.5 355.0 1410.5 355.0 1412.5 355.0 1414.5 355.0 1416.5 355.0 1418.5 355.0 1420.5 355.0 1422.5 355.0 1424.5 355.0 1426.5 355.0 1428.5 355.0 1430.5 355.0 1432.5 355.0 1434.5 355.0 1436.5 355.0 1438.5 355.0 1440.5 355.0 1442.5 355.0 1444.5 355.0 1446.5 355.0 1448.5 355.0 1450.5 355.0 1452.5 355.0 1454.5 355.0 1456.5 355.0 1458.5 355.0 1460.5 355.0 1462.5 355.0 1464.5 355.0 1466.5 355.0 1468.5 355.0 1470.5 355.0 1472.5 355.0 1474.5 355.0 1475.3 355.0" fill="none" stroke="#c4c400" stroke-width="3.0" stroke-linejoin="round" stroke-linecap="butt"/>
<path d="M986.5 116.0 988.5 118.7 990.5 121.5 992.5 124.2 994.5 127.0 996.5 129.8 998.5 132.5 1000.5 134.8 1002.5 136.9 1004.5 138.6 1006.5 140.2 1008.5 141.6 1010.5 142.8 1012.5 143.9 1014.5 144.9 1016.5 145.8 1018.5 146.6 1020.5 147.4 1022.5 148.3 1024.5 149.1 1026.5 150.0 1028.5 151.0 1030.5 152.2 1032.5 153.5 1034.5 155.0 1036.5 156.7 1038.5 158.7 1040.5 161.0 1042.5 163.6 1044.5 166.5 1046.5 169.7 1048.5 173.1 1050.5 176.9 1052.5 180.8 1054.5 184.9 1056.5 189.2 1058.5 193.6 1060.5 198.0 1062.5 202.5 1064.5 207.0 1066.5 211.4 1068.5 215.8 1070.5 220.2 1072.5 224.5 1074.5 228.7 1076.5 232.7 1078.5 236.6 1080.5 240.4 1082.5 244.1 1084.5 247.5 1086.5 250.8 1088.5 253.9 1090.5 256.9 1092.5 259.6 1094.5 262.2 1096.5 264.6 1098.5 266.8 1100.5 268.8 1102.5 270.7 1104.5 272.4 1106.5 274.0 1108.5 275.4 1110.5 276.6 1112.5 277.8 1114.5 278.8 1116.5 279.7 1118.5 280.5 1120.5 281.2 1122.5 281.9 1124.5 282.4 1126.5 282.9 1128.5 283.4 1130.5 283.8 1132.5 284.1 1134.5 284.4 1136.5 284.6 1138.5 284.9 1140.5 285.0 1142.5 285.2 1144.5 285.3 1146.5 285.5 1148.5 285.5 1150.5 285.6 1152.5 285.7 1154.5 285.7 1156.5 285.8 1158.5 285.8 1160.5 285.8 1162.5 285.8 1164.5 285.8 1166.5 285.8 1168.5 285.7 1170.5 285.7 1172.5 285.6 1174.5 285.6 1176.5 285.5 1178.5 285.5 1180.5 285.4 1182.5 285.3 1184.5 285.2 1186.5 285.1 1188.5 285.0 1190.5 284.9 1192.5 284.8 1194.5 284.7 1196.5 284.5 1198.5 284.4 1200.5 284.3 1202.5 284.1 1204.5 283.9 1206.5 283.8 1208.5 283.6 1210.5 283.4 1212.5 283.2 1214.5 283.0 1216.5 282.8 1218.5 282.6 1220.5 282.4 1222.5 282.1 1224.5 281.9 1226.5 281.7 1228.5 281.4 1230.5 281.2 1232.5 280.9 1234.5 280.6 1236.5 280.4 1238.5 280.1 1240.5 279.8 1242.5 279.6 1244.5 279.3 1246.5 279.0 1248.5 278.7 1250.5 278.4 1252.5 278.1 1254.5 277.9 1256.5 277.6 1258.5 277.3 1260.5 277.0 1262.5 276.8 1264.5 276.5 1266.5 276.2 1268.5 276.0 1270.5 275.7 1272.5 275.5 1274.5 275.2 1276.5 275.0 1278.5 274.7 1280.5 274.5 1282.5 274.3 1284.5 274.1 1286.5 273.9 1288.5 273.7 1290.5 273.5 1292.5 273.3 1294.5 273.1 1296.5 273.0 1298.5 272.8 1300.5 272.7 1302.5 272.5 1304.5 272.4 1306.5 272.2 1308.5 272.1 1310.5 272.0 1312.5 271.9 1314.5 271.8 1316.5 271.7 1318.5 271.6 1320.5 271.5 1322.5 271.4 1324.5 271.3 1326.5 271.2 1328.5 271.2 1330.5 271.1 1332.5 271.0 1334.5 271.0 1336.5 270.9 1338.5 270.8 1340.5 270.8 1342.5 270.7 1344.5 270.7 1346.5 270.7 1348.5 270.6 1350.5 270.6 1352.5 270.5 1354.5 270.5 1356.5 270.5 1358.5 270.4 1360.5 270.4 1362.5 270.4 1364.5 270.4 1366.5 270.3 1368.5 270.3 1370.5 270.3 1372.5 270.3 1374.5 270.3 1376.5 270.2 1378.5 270.2 1380.5 270.2 1382.5 270.2 1384.5 270.2 1386.5 270.2 1388.5 270.2 1390.5 270.2 1392.5 270.1 1394.5 270.1 1396.5 270.1 1398.5 270.1 1400.5 270.1 1402.5 270.1 1404.5 270.1 1406.5 270.1 1408.5 270.1 1410.5 270.1 1412.5 270.1 1414.5 270.1 1416.5 270.1 1418.5 270.1 1420.5 270.1 1422.5 270.1 1424.5 270.1 1426.5 270.0 1428.5 270.0 1430.5 270.0 1432.5 270.0 1434.5 270.0 1436.5 270.0 1438.5 270.0 1440.5 270.0 1442.5 270.0 1444.5 270.0 1446.5 270.0 1448.5 270.0 1450.5 270.0 1452.5 270.0 1454.5 270.0 1456.5 270.0 1458.5 270.0 1460.5 270.0 1462.5 270.0 1464.5 270.0 1466.5 270.0 1468.5 270.0 1470.5 270.0 1472.5 270.0 1474.5 270.0 1475.3 270.0" fill="none" stroke="#c4c400" stroke-width="3.0" stroke-linejoin="round" stroke-linecap="butt"/>
<path d="M986.5 116.0 988.5 118.7 990.5 121.5 992.5 124.2 994.5 127.0 996.5 129.9 998.5 133.0 1000.5 135.8 1002.5 138.2 1004.5 140.3 1006.5 142.1 1008.5 143.7 1010.5 145.2 1012.5 146.4 1014.5 147.5 1016.5 148.5 1018.5 149.4 1020.5 150.2 1022.5 150.9 1024.5 151.6 1026.5 152.2 1028.5 152.9 1030.5 153.5 1032.5 154.1 1034.5 154.8 1036.5 155.6 1038.5 156.4 1040.5 157.4 1042.5 158.5 1044.5 159.9 1046.5 161.4 1048.5 163.3 1050.5 165.4 1052.5 167.8 1054.5 170.5 1056.5 173.5 1058.5 176.9 1060.5 180.5 1062.5 184.3 1064.5 188.4 1066.5 192.7 1068.5 197.1 1070.5 201.6 1072.5 206.2 1074.5 210.8 1076.5 215.5 1078.5 220.2 1080.5 224.8 1082.5 229.5 1084.5 234.1 1086.5 238.6 1088.5 243.1 1090.5 247.5 1092.5 251.8 1094.5 255.9 1096.5 260.0 1098.5 263.9 1100.5 267.7 1102.5 271.3 1104.5 274.8 1106.5 278.1 1108.5 281.3 1110.5 284.2 1112.5 287.0 1114.5 289.6 1116.5 292.0 1118.5 294.3 1120.5 296.3 1122.5 298.3 1124.5 300.0 1126.5 301.6 1128.5 303.0 1130.5 304.4 1132.5 305.5 1134.5 306.6 1136.5 307.6 1138.5 308.4 1140.5 309.2 1142.5 309.8 1144.5 310.4 1146.5 311.0 1148.5 311.4 1150.5 311.9 1152.5 312.2 1154.5 312.5 1156.5 312.8 1158.5 313.1 1160.5 313.3 1162.5 313.4 1164.5 313.6 1166.5 313.7 1168.5 313.7 1170.5 313.6 1172.5 313.3 1174.5 312.8 1176.5 311.9 1178.5 310.4 1180.5 308.3 1182.5 305.6 1184.5 302.2 1186.5 298.6 1188.5 295.0 1190.5 292.1 1192.5 290.2 1194.5 289.7 1196.5 290.7 1198.5 292.9 1200.5 296.0 1202.5 299.4 1204.5 302.6 1206.5 305.4 1208.5 307.6 1210.5 309.0 1212.5 309.9 1214.5 310.2 1216.5 310.2 1218.5 309.9 1220.5 309.5 1222.5 309.0 1224.5 308.4 1226.5 307.8 1228.5 307.1 1230.5 306.3 1232.5 305.6 1234.5 304.8 1236.5 303.9 1238.5 303.1 1240.5 302.3 1242.5 301.5 1244.5 300.6 1246.5 299.8 1248.5 299.0 1250.5 298.3 1252.5 297.6 1254.5 296.9 1256.5 296.2 1258.5 295.6 1260.5 295.1 1262.5 294.6 1264.5 294.1 1266.5 293.6 1268.5 293.3 1270.5 292.9 1272.5 292.6 1274.5 292.3 1276.5 292.0 1278.5 291.8 1280.5 291.6 1282.5 291.4 1284.5 291.2 1286.5 291.1 1288.5 290.9 1290.5 290.8 1292.5 290.7 1294.5 290.6 1296.5 290.6 1298.5 290.5 1300.5 290.4 1302.5 290.4 1304.5 290.3 1306.5 290.3 1308.5 290.3 1310.5 290.2 1312.5 290.2 1314.5 290.2 1316.5 290.2 1318.5 290.1 1320.5 290.1 1322.5 290.1 1324.5 290.1 1326.5 290.1 1328.5 290.1 1330.5 290.1 1332.5 290.1 1334.5 290.0 1336.5 290.0 1338.5 290.0 1340.5 290.0 1342.5 290.0 1344.5 290.0 1346.5 290.0 1348.5 290.0 1350.5 290.0 1352.5 290.0 1354.5 290.0 1356.5 290.0 1358.5 290.0 1360.5 290.0 1362.5 290.0 1364.5 290.0 1366.5 290.0 1368.5 290.0 1370.5 290.0 1372.5 290.0 1374.5 290.0 1376.5 290.0 1378.5 290.0 1380.5 290.0 1382.5 290.0 1384.5 290.0 1386.5 290.0 1388.5 290.0 1390.5 290.0 1392.5 290.0 1394.5 290.0 1396.5 290.0 1398.5 290.0 1400.5 290.0 1402.5 290.0 1404.5 290.0 1406.5 290.0 1408.5 290.0 1410.5 290.0 1412.5 290.0 1414.5 290.0 1416.5 290.0 1418.5 290.0 1420.5 290.0 1422.5 290.0 1424.5 290.0 1426.5 290.0 1428.5 290.0 1430.5 290.0 1432.5 290.0 1434.5 290.0 1436.5 290.0 1438.5 290.0 1440.5 290.0 1442.5 290.0 1444.5 290.0 1446.5 290.0 1448.5 290.0 1450.5 290.0 1452.5 290.0 1454.5 290.0 1456.5 290.0 1458.5 290.0 1460.5 290.0 1462.5 290.0 1464.5 290.0 1466.5 290.0 1468.5 290.0 1470.5 290.0 1472.5 290.0 1474.5 290.0 1475.3 290.0" fill="none" stroke="#c4c400" stroke-width="3.0" stroke-linejoin="round" stroke-linecap="butt"/>
<path d="M986.5 116.0 988.5 118.7 990.5 121.5 992.5 124.2 994.5 126.9 996.5 129.9 998.5 133.0 1000.5 135.7 1002.5 138.1 1004.5 140.2 1006.5 142.1 1008.5 143.7 1010.5 145.1 1012.5 146.3 1014.5 147.4 1016.5 148.4 1018.5 149.3 1020.5 150.0 1022.5 150.7 1024.5 151.4 1026.5 152.0 1028.5 152.6 1030.5 153.1 1032.5 153.7 1034.5 154.3 1036.5 155.0 1038.5 155.8 1040.5 156.6 1042.5 157.7 1044.5 158.8 1046.5 160.2 1048.5 161.8 1050.5 163.7 1052.5 165.8 1054.5 168.2 1056.5 170.9 1058.5 173.8 1060.5 177.0 1062.5 180.4 1064.5 184.0 1066.5 187.8 1068.5 191.7 1070.5 195.7 1072.5 199.7 1074.5 203.9 1076.5 208.1 1078.5 212.3 1080.5 216.5 1082.5 220.7 1084.5 224.9 1086.5 229.1 1088.5 233.2 1090.5 237.4 1092.5 241.4 1094.5 245.4 1096.5 249.3 1098.5 253.2 1100.5 257.0 1102.5 260.7 1104.5 264.4 1106.5 267.9 1108.5 271.4 1110.5 274.7 1112.5 278.0 1114.5 281.2 1116.5 284.2 1118.5 287.1 1120.5 289.9 1122.5 292.6 1124.5 295.2 1126.5 297.7 1128.5 300.0 1130.5 302.2 1132.5 304.3 1134.5 306.3 1136.5 308.2 1138.5 309.9 1140.5 311.6 1142.5 313.1 1144.5 314.6 1146.5 315.9 1148.5 317.1 1150.5 318.3 1152.5 319.3 1154.5 320.3 1156.5 321.2 1158.5 322.0 1160.5 322.8 1162.5 323.5 1164.5 324.1 1166.5 324.7 1168.5 325.2 1170.5 325.6 1172.5 325.9 1174.5 326.1 1176.5 326.2 1178.5 326.0 1180.5 325.6 1182.5 324.9 1184.5 324.0 1186.5 323.0 1188.5 322.0 1190.5 321.2 1192.5 320.7 1194.5 320.7 1196.5 321.1 1198.5 321.9 1200.5 323.1 1202.5 324.3 1204.5 325.5 1206.5 326.6 1208.5 327.5 1210.5 328.2 1212.5 328.9 1214.5 329.4 1216.5 329.9 1218.5 330.2 1220.5 330.5 1222.5 330.7 1224.5 330.6 1226.5 330.4 1228.5 329.9 1230.5 329.3 1232.5 328.6 1234.5 327.9 1236.5 327.2 1238.5 326.5 1240.5 326.0 1242.5 325.5 1244.5 325.0 1246.5 324.6 1248.5 324.2 1250.5 323.9 1252.5 323.5 1254.5 323.2 1256.5 322.8 1258.5 322.5 1260.5 322.2 1262.5 321.9 1264.5 321.6 1266.5 321.3 1268.5 321.0 1270.5 320.7 1272.5 320.4 1274.5 320.2 1276.5 319.9 1278.5 319.7 1280.5 319.5 1282.5 319.3 1284.5 319.1 1286.5 318.9 1288.5 318.8 1290.5 318.6 1292.5 318.5 1294.5 318.4 1296.5 318.2 1298.5 318.1 1300.5 318.0 1302.5 317.9 1304.5 317.9 1306.5 317.8 1308.5 317.7 1310.5 317.6 1312.5 317.6 1314.5 317.5 1316.5 317.5 1318.5 317.4 1320.5 317.4 1322.5 317.4 1324.5 317.3 1326.5 317.3 1328.5 317.3 1330.5 317.2 1332.5 317.2 1334.5 317.2 1336.5 317.2 1338.5 317.2 1340.5 317.2 1342.5 317.1 1344.5 317.1 1346.5 317.1 1348.5 317.1 1350.5 317.1 1352.5 317.1 1354.5 317.1 1356.5 317.1 1358.5 317.1 1360.5 317.1 1362.5 317.1 1364.5 317.0 1366.5 317.0 1368.5 317.0 1370.5 317.0 1372.5 317.0 1374.5 317.0 1376.5 317.0 1378.5 317.0 1380.5 317.0 1382.5 317.0 1384.5 317.0 1386.5 317.0 1388.5 317.0 1390.5 317.0 1392.5 317.0 1394.5 317.0 1396.5 317.0 1398.5 317.0 1400.5 317.0 1402.5 317.0 1404.5 317.0 1406.5 317.0 1408.5 317.0 1410.5 317.0 1412.5 317.0 1414.5 317.0 1416.5 317.0 1418.5 317.0 1420.5 317.0 1422.5 317.0 1424.5 317.0 1426.5 317.0 1428.5 317.0 1430.5 317.0 1432.5 317.0 1434.5 317.0 1436.5 317.0 1438.5 317.0 1440.5 317.0 1442.5 317.0 1444.5 317.0 1446.5 317.0 1448.5 317.0 1450.5 317.0 1452.5 317.0 1454.5 317.0 1456.5 317.0 1458.5 317.0 1460.5 317.0 1462.5 317.0 1464.5 317.0 1466.5 317.0 1468.5 317.0 1470.5 317.0 1472.5 317.0 1474.5 317.0 1475.3 317.0" fill="none" stroke="#c4c400" stroke-width="3.0" stroke-linejoin="round" stroke-linecap="butt"/>
<path d="M986.5 116.0 988.5 118.7 990.5 121.5 992.5 124.2 994.5 126.9 996.5 130.0 998.5 133.8 1000.5 137.0 1002.5 139.9 1004.5 142.4 1006.5 144.6 1008.5 146.5 1010.5 148.2 1012.5 149.7 1014.5 151.0 1016.5 152.1 1018.5 153.1 1020.5 154.0 1022.5 154.8 1024.5 155.5 1026.5 156.2 1028.5 156.8 1030.5 157.5 1032.5 158.1 1034.5 158.8 1036.5 159.5 1038.5 160.3 1040.5 161.3 1042.5 162.3 1044.5 163.6 1046.5 165.1 1048.5 166.8 1050.5 168.8 1052.5 171.0 1054.5 173.6 1056.5 176.5 1058.5 179.7 1060.5 183.2 1062.5 186.9 1064.5 190.9 1066.5 195.1 1068.5 199.4 1070.5 203.8 1072.5 208.4 1074.5 213.0 1076.5 217.6 1078.5 222.3 1080.5 227.0 1082.5 231.7 1084.5 236.4 1086.5 241.1 1088.5 245.7 1090.5 250.3 1092.5 254.8 1094.5 259.3 1096.5 263.8 1098.5 268.1 1100.5 272.4 1102.5 276.6 1104.5 280.8 1106.5 284.8 1108.5 288.8 1110.5 292.6 1112.5 296.4 1114.5 300.0 1116.5 303.5 1118.5 307.0 1120.5 310.3 1122.5 313.5 1124.5 316.5 1126.5 319.5 1128.5 322.3 1130.5 325.0 1132.5 327.6 1134.5 330.1 1136.5 332.4 1138.5 334.7 1140.5 336.8 1142.5 338.8 1144.5 340.6 1146.5 342.4 1148.5 344.1 1150.5 345.6 1152.5 347.1 1154.5 348.4 1156.5 349.7 1158.5 350.9 1160.5 352.0 1162.5 353.0 1164.5 354.0 1166.5 354.8 1168.5 355.6 1170.5 356.3 1172.5 356.9 1174.5 357.4 1176.5 357.8 1178.5 357.9 1180.5 357.9 1182.5 357.7 1184.5 357.3 1186.5 356.7 1188.5 355.9 1190.5 355.0 1192.5 354.1 1194.5 353.3 1196.5 352.7 1198.5 352.5 1200.5 352.5 1202.5 353.0 1204.5 353.8 1206.5 354.8 1208.5 356.0 1210.5 357.2 1212.5 358.4 1214.5 359.5 1216.5 360.3 1218.5 361.0 1220.5 361.4 1222.5 361.6 1224.5 361.7 1226.5 361.6 1228.5 361.4 1230.5 361.0 1232.5 360.6 1234.5 360.2 1236.5 359.7 1238.5 359.1 1240.5 358.5 1242.5 358.0 1244.5 357.4 1246.5 356.9 1248.5 356.4 1250.5 356.0 1252.5 355.5 1254.5 355.2 1256.5 354.8 1258.5 354.5 1260.5 354.3 1262.5 354.1 1264.5 353.9 1266.5 353.8 1268.5 353.6 1270.5 353.5 1272.5 353.4 1274.5 353.4 1276.5 353.3 1278.5 353.3 1280.5 353.2 1282.5 353.2 1284.5 353.1 1286.5 353.1 1288.5 353.1 1290.5 353.1 1292.5 353.1 1294.5 353.1 1296.5 353.0 1298.5 353.0 1300.5 353.0 1302.5 353.0 1304.5 353.0 1306.5 353.0 1308.5 353.0 1310.5 353.0 1312.5 353.0 1314.5 353.0 1316.5 353.0 1318.5 353.0 1320.5 353.0 1322.5 353.0 1324.5 353.0 1326.5 353.0 1328.5 353.0 1330.5 353.0 1332.5 353.0 1334.5 353.0 1336.5 353.0 1338.5 353.0 1340.5 353.0 1342.5 353.0 1344.5 353.0 1346.5 353.0 1348.5 353.0 1350.5 353.0 1352.5 353.0 1354.5 353.0 1356.5 353.0 1358.5 353.0 1360.5 353.0 1362.5 353.0 1364.5 353.0 1366.5 353.0 1368.5 353.0 1370.5 353.0 1372.5 353.0 1374.5 353.0 1376.5 353.0 1378.5 353.0 1380.5 353.0 1382.5 353.0 1384.5 353.0 1386.5 353.0 1388.5 353.0 1390.5 353.0 1392.5 353.0 1394.5 353.0 1396.5 353.0 1398.5 353.0 1400.5 353.0 1402.5 353.0 1404.5 353.0 1406.5 353.0 1408.5 353.0 1410.5 353.0 1412.5 353.0 1414.5 353.0 1416.5 353.0 1418.5 353.0 1420.5 353.0 1422.5 353.0 1424.5 353.0 1426.5 353.0 1428.5 353.0 1430.5 353.0 1432.5 353.0 1434.5 353.0 1436.5 353.0 1438.5 353.0 1440.5 353.0 1442.5 353.0 1444.5 353.0 1446.5 353.0 1448.5 353.0 1450.5 353.0 1452.5 353.0 1454.5 353.0 1456.5 353.0 1458.5 353.0 1460.5 353.0 1462.5 353.0 1464.5 353.0 1466.5 353.0 1468.5 353.0 1470.5 353.0 1472.5 353.0 1474.5 353.0 1475.3 353.0" fill="none" stroke="#007800" stroke-width="3.0" stroke-linejoin="round" stroke-linecap="butt"/>
<path d="M986.5 116.0 988.5 118.7 990.5 121.5 992.5 124.2 994.5 126.9 996.5 130.0 998.5 133.8 1000.5 137.0 1002.5 139.9 1004.5 142.4 1006.5 144.6 1008.5 146.5 1010.5 148.2 1012.5 149.7 1014.5 151.0 1016.5 152.1 1018.5 153.1 1020.5 153.9 1022.5 154.7 1024.5 155.4 1026.5 156.0 1028.5 156.6 1030.5 157.2 1032.5 157.8 1034.5 158.4 1036.5 159.0 1038.5 159.7 1040.5 160.4 1042.5 161.3 1044.5 162.3 1046.5 163.5 1048.5 164.9 1050.5 166.6 1052.5 168.5 1054.5 170.8 1056.5 173.3 1058.5 176.1 1060.5 179.2 1062.5 182.6 1064.5 186.3 1066.5 190.1 1068.5 194.2 1070.5 198.3 1072.5 202.6 1074.5 207.0 1076.5 211.4 1078.5 215.9 1080.5 220.3 1082.5 224.8 1084.5 229.2 1086.5 233.6 1088.5 237.9 1090.5 242.2 1092.5 246.4 1094.5 250.5 1096.5 254.5 1098.5 258.5 1100.5 262.3 1102.5 266.0 1104.5 269.7 1106.5 273.1 1108.5 276.5 1110.5 279.8 1112.5 282.9 1114.5 285.9 1116.5 288.7 1118.5 291.4 1120.5 294.0 1122.5 296.5 1124.5 298.8 1126.5 301.0 1128.5 303.0 1130.5 304.9 1132.5 306.7 1134.5 308.4 1136.5 310.0 1138.5 311.4 1140.5 312.8 1142.5 314.0 1144.5 315.2 1146.5 316.2 1148.5 317.2 1150.5 318.1 1152.5 318.9 1154.5 319.7 1156.5 320.3 1158.5 321.0 1160.5 321.5 1162.5 322.0 1164.5 322.4 1166.5 322.8 1168.5 323.1 1170.5 323.4 1172.5 323.6 1174.5 323.8 1176.5 323.8 1178.5 323.7 1180.5 323.5 1182.5 323.2 1184.5 322.8 1186.5 322.2 1188.5 321.5 1190.5 320.8 1192.5 320.0 1194.5 319.3 1196.5 318.7 1198.5 318.3 1200.5 318.1 1202.5 318.0 1204.5 318.2 1206.5 318.6 1208.5 319.0 1210.5 319.4 1212.5 319.8 1214.5 320.2 1216.5 320.4 1218.5 320.5 1220.5 320.5 1222.5 320.4 1224.5 320.2 1226.5 319.9 1228.5 319.6 1230.5 319.2 1232.5 318.8 1234.5 318.4 1236.5 318.1 1238.5 317.7 1240.5 317.3 1242.5 316.9 1244.5 316.5 1246.5 316.2 1248.5 315.8 1250.5 315.5 1252.5 315.2 1254.5 314.9 1256.5 314.6 1258.5 314.3 1260.5 314.0 1262.5 313.8 1264.5 313.6 1266.5 313.4 1268.5 313.2 1270.5 313.0 1272.5 312.8 1274.5 312.7 1276.5 312.5 1278.5 312.4 1280.5 312.3 1282.5 312.1 1284.5 312.0 1286.5 312.0 1288.5 311.9 1290.5 311.8 1292.5 311.7 1294.5 311.7 1296.5 311.6 1298.5 311.5 1300.5 311.5 1302.5 311.4 1304.5 311.4 1306.5 311.4 1308.5 311.3 1310.5 311.3 1312.5 311.3 1314.5 311.2 1316.5 311.2 1318.5 311.2 1320.5 311.2 1322.5 311.2 1324.5 311.1 1326.5 311.1 1328.5 311.1 1330.5 311.1 1332.5 311.1 1334.5 311.1 1336.5 311.1 1338.5 311.1 1340.5 311.1 1342.5 311.1 1344.5 311.1 1346.5 311.1 1348.5 311.0 1350.5 311.0 1352.5 311.0 1354.5 311.0 1356.5 311.0 1358.5 311.0 1360.5 311.0 1362.5 311.0 1364.5 311.0 1366.5 311.0 1368.5 311.0 1370.5 311.0 1372.5 311.0 1374.5 311.0 1376.5 311.0 1378.5 311.0 1380.5 311.0 1382.5 311.0 1384.5 311.0 1386.5 311.0 1388.5 311.0 1390.5 311.0 1392.5 311.0 1394.5 311.0 1396.5 311.0 1398.5 311.0 1400.5 311.0 1402.5 311.0 1404.5 311.0 1406.5 311.0 1408.5 311.0 1410.5 311.0 1412.5 311.0 1414.5 311.0 1416.5 311.0 1418.5 311.0 1420.5 311.0 1422.5 311.0 1424.5 311.0 1426.5 311.0 1428.5 311.0 1430.5 311.0 1432.5 311.0 1434.5 311.0 1436.5 311.0 1438.5 311.0 1440.5 311.0 1442.5 311.0 1444.5 311.0 1446.5 311.0 1448.5 311.0 1450.5 311.0 1452.5 311.0 1454.5 311.0 1456.5 311.0 1458.5 311.0 1460.5 311.0 1462.5 311.0 1464.5 311.0 1466.5 311.0 1468.5 311.0 1470.5 311.0 1472.5 311.0 1474.5 311.0 1475.3 311.0" fill="none" stroke="#007800" stroke-width="3.0" stroke-linejoin="round" stroke-linecap="butt"/>
<path d="M986.5 116.0 988.5 118.7 990.5 121.5 992.5 124.2 994.5 126.9 996.5 130.0 998.5 133.8 1000.5 137.0 1002.5 139.9 1004.5 142.4 1006.5 144.6 1008.5 146.5 1010.5 148.2 1012.5 149.7 1014.5 151.0 1016.5 152.1 1018.5 153.1 1020.5 154.0 1022.5 154.8 1024.5 155.5 1026.5 156.1 1028.5 156.7 1030.5 157.2 1032.5 157.8 1034.5 158.3 1036.5 158.8 1038.5 159.3 1040.5 159.9 1042.5 160.6 1044.5 161.3 1046.5 162.2 1048.5 163.3 1050.5 164.5 1052.5 165.9 1054.5 167.6 1056.5 169.6 1058.5 171.9 1060.5 174.5 1062.5 177.3 1064.5 180.5 1066.5 183.9 1068.5 187.6 1070.5 191.4 1072.5 195.4 1074.5 199.5 1076.5 203.7 1078.5 208.0 1080.5 212.3 1082.5 216.6 1084.5 220.8 1086.5 225.0 1088.5 229.1 1090.5 233.2 1092.5 237.1 1094.5 240.9 1096.5 244.5 1098.5 248.1 1100.5 251.4 1102.5 254.6 1104.5 257.6 1106.5 260.5 1108.5 263.2 1110.5 265.7 1112.5 268.0 1114.5 270.2 1116.5 272.1 1118.5 274.0 1120.5 275.6 1122.5 277.1 1124.5 278.5 1126.5 279.7 1128.5 280.8 1130.5 281.8 1132.5 282.7 1134.5 283.5 1136.5 284.2 1138.5 284.9 1140.5 285.4 1142.5 285.9 1144.5 286.3 1146.5 286.7 1148.5 287.0 1150.5 287.3 1152.5 287.5 1154.5 287.7 1156.5 287.9 1158.5 288.0 1160.5 288.2 1162.5 288.3 1164.5 288.3 1166.5 288.4 1168.5 288.5 1170.5 288.5 1172.5 288.5 1174.5 288.5 1176.5 288.5 1178.5 288.5 1180.5 288.4 1182.5 288.4 1184.5 288.4 1186.5 288.3 1188.5 288.2 1190.5 288.2 1192.5 288.1 1194.5 288.0 1196.5 287.9 1198.5 287.8 1200.5 287.7 1202.5 287.6 1204.5 287.4 1206.5 287.3 1208.5 287.2 1210.5 287.0 1212.5 286.9 1214.5 286.7 1216.5 286.5 1218.5 286.4 1220.5 286.2 1222.5 286.0 1224.5 285.8 1226.5 285.6 1228.5 285.4 1230.5 285.2 1232.5 285.0 1234.5 284.8 1236.5 284.5 1238.5 284.3 1240.5 284.1 1242.5 283.9 1244.5 283.6 1246.5 283.4 1248.5 283.2 1250.5 282.9 1252.5 282.7 1254.5 282.5 1256.5 282.2 1258.5 282.0 1260.5 281.8 1262.5 281.6 1264.5 281.3 1266.5 281.1 1268.5 280.9 1270.5 280.7 1272.5 280.5 1274.5 280.3 1276.5 280.1 1278.5 279.9 1280.5 279.7 1282.5 279.5 1284.5 279.4 1286.5 279.2 1288.5 279.0 1290.5 278.9 1292.5 278.7 1294.5 278.6 1296.5 278.5 1298.5 278.3 1300.5 278.2 1302.5 278.1 1304.5 278.0 1306.5 277.8 1308.5 277.7 1310.5 277.6 1312.5 277.6 1314.5 277.5 1316.5 277.4 1318.5 277.3 1320.5 277.2 1322.5 277.1 1324.5 277.1 1326.5 277.0 1328.5 277.0 1330.5 276.9 1332.5 276.8 1334.5 276.8 1336.5 276.7 1338.5 276.7 1340.5 276.7 1342.5 276.6 1344.5 276.6 1346.5 276.5 1348.5 276.5 1350.5 276.5 1352.5 276.4 1354.5 276.4 1356.5 276.4 1358.5 276.4 1360.5 276.3 1362.5 276.3 1364.5 276.3 1366.5 276.3 1368.5 276.3 1370.5 276.2 1372.5 276.2 1374.5 276.2 1376.5 276.2 1378.5 276.2 1380.5 276.2 1382.5 276.2 1384.5 276.2 1386.5 276.1 1388.5 276.1 1390.5 276.1 1392.5 276.1 1394.5 276.1 1396.5 276.1 1398.5 276.1 1400.5 276.1 1402.5 276.1 1404.5 276.1 1406.5 276.1 1408.5 276.1 1410.5 276.1 1412.5 276.1 1414.5 276.1 1416.5 276.1 1418.5 276.1 1420.5 276.0 1422.5 276.0 1424.5 276.0 1426.5 276.0 1428.5 276.0 1430.5 276.0 1432.5 276.0 1434.5 276.0 1436.5 276.0 1438.5 276.0 1440.5 276.0 1442.5 276.0 1444.5 276.0 1446.5 276.0 1448.5 276.0 1450.5 276.0 1452.5 276.0 1454.5 276.0 1456.5 276.0 1458.5 276.0 1460.5 276.0 1462.5 276.0 1464.5 276.0 1466.5 276.0 1468.5 276.0 1470.5 276.0 1472.5 276.0 1474.5 276.0 1475.3 276.0" fill="none" stroke="#007800" stroke-width="3.0" stroke-linejoin="round" stroke-linecap="butt"/>
<path d="M986.5 116.0 988.5 118.7 990.5 121.5 992.5 124.2 994.5 126.9 996.5 130.1 998.5 134.1 1000.5 137.4 1002.5 140.3 1004.5 142.7 1006.5 144.7 1008.5 146.5 1010.5 147.9 1012.5 149.2 1014.5 150.2 1016.5 151.1 1018.5 151.9 1020.5 152.5 1022.5 153.1 1024.5 153.5 1026.5 153.9 1028.5 154.3 1030.5 154.6 1032.5 154.9 1034.5 155.1 1036.5 155.4 1038.5 155.6 1040.5 155.8 1042.5 156.1 1044.5 156.4 1046.5 156.8 1048.5 157.2 1050.5 157.6 1052.5 158.2 1054.5 159.0 1056.5 159.9 1058.5 160.9 1060.5 162.2 1062.5 163.8 1064.5 165.7 1066.5 167.8 1068.5 170.3 1070.5 173.1 1072.5 176.2 1074.5 179.5 1076.5 183.2 1078.5 187.1 1080.5 191.2 1082.5 195.5 1084.5 199.9 1086.5 204.3 1088.5 208.9 1090.5 213.5 1092.5 218.1 1094.5 222.8 1096.5 227.4 1098.5 231.9 1100.5 236.4 1102.5 240.8 1104.5 245.2 1106.5 249.4 1108.5 253.6 1110.5 257.6 1112.5 261.5 1114.5 265.2 1116.5 268.8 1118.5 272.2 1120.5 275.5 1122.5 278.6 1124.5 281.5 1126.5 284.2 1128.5 286.8 1130.5 289.1 1132.5 291.3 1134.5 293.3 1136.5 295.2 1138.5 296.9 1140.5 298.4 1142.5 299.8 1144.5 301.1 1146.5 302.2 1148.5 303.2 1150.5 304.1 1152.5 304.9 1154.5 305.6 1156.5 306.2 1158.5 306.8 1160.5 307.2 1162.5 307.7 1164.5 308.0 1166.5 308.3 1168.5 308.6 1170.5 308.8 1172.5 308.9 1174.5 309.1 1176.5 309.2 1178.5 309.3 1180.5 309.3 1182.5 309.4 1184.5 309.4 1186.5 309.4 1188.5 309.3 1190.5 309.3 1192.5 309.2 1194.5 309.1 1196.5 309.0 1198.5 308.9 1200.5 308.8 1202.5 308.7 1204.5 308.5 1206.5 308.4 1208.5 308.2 1210.5 308.1 1212.5 307.9 1214.5 307.7 1216.5 307.5 1218.5 307.3 1220.5 307.0 1222.5 306.8 1224.5 306.6 1226.5 306.3 1228.5 306.1 1230.5 305.8 1232.5 305.5 1234.5 305.2 1236.5 305.0 1238.5 304.7 1240.5 304.4 1242.5 304.1 1244.5 303.8 1246.5 303.5 1248.5 303.2 1250.5 302.9 1252.5 302.6 1254.5 302.3 1256.5 302.0 1258.5 301.7 1260.5 301.4 1262.5 301.2 1264.5 300.9 1266.5 300.6 1268.5 300.3 1270.5 300.0 1272.5 299.8 1274.5 299.5 1276.5 299.3 1278.5 299.0 1280.5 298.8 1282.5 298.6 1284.5 298.3 1286.5 298.1 1288.5 297.9 1290.5 297.7 1292.5 297.5 1294.5 297.3 1296.5 297.2 1298.5 297.0 1300.5 296.8 1302.5 296.7 1304.5 296.5 1306.5 296.4 1308.5 296.2 1310.5 296.1 1312.5 296.0 1314.5 295.9 1316.5 295.8 1318.5 295.7 1320.5 295.6 1322.5 295.5 1324.5 295.4 1326.5 295.3 1328.5 295.2 1330.5 295.2 1332.5 295.1 1334.5 295.0 1336.5 295.0 1338.5 294.9 1340.5 294.8 1342.5 294.8 1344.5 294.7 1346.5 294.7 1348.5 294.7 1350.5 294.6 1352.5 294.6 1354.5 294.5 1356.5 294.5 1358.5 294.5 1360.5 294.4 1362.5 294.4 1364.5 294.4 1366.5 294.4 1368.5 294.3 1370.5 294.3 1372.5 294.3 1374.5 294.3 1376.5 294.3 1378.5 294.2 1380.5 294.2 1382.5 294.2 1384.5 294.2 1386.5 294.2 1388.5 294.2 1390.5 294.2 1392.5 294.2 1394.5 294.1 1396.5 294.1 1398.5 294.1 1400.5 294.1 1402.5 294.1 1404.5 294.1 1406.5 294.1 1408.5 294.1 1410.5 294.1 1412.5 294.1 1414.5 294.1 1416.5 294.1 1418.5 294.1 1420.5 294.1 1422.5 294.1 1424.5 294.1 1426.5 294.0 1428.5 294.0 1430.5 294.0 1432.5 294.0 1434.5 294.0 1436.5 294.0 1438.5 294.0 1440.5 294.0 1442.5 294.0 1444.5 294.0 1446.5 294.0 1448.5 294.0 1450.5 294.0 1452.5 294.0 1454.5 294.0 1456.5 294.0 1458.5 294.0 1460.5 294.0 1462.5 294.0 1464.5 294.0 1466.5 294.0 1468.5 294.0 1470.5 294.0 1472.5 294.0 1474.5 294.0 1475.3 294.0" fill="none" stroke="#6e00a0" stroke-width="3.0" stroke-linejoin="round" stroke-linecap="butt"/>
<path d="M986.5 116.0 988.5 118.7 990.5 121.5 992.5 124.2 994.5 126.9 996.5 130.1 998.5 134.1 1000.5 137.4 1002.5 140.3 1004.5 142.7 1006.5 144.7 1008.5 146.5 1010.5 147.9 1012.5 149.2 1014.5 150.2 1016.5 151.1 1018.5 151.8 1020.5 152.5 1022.5 153.0 1024.5 153.5 1026.5 153.9 1028.5 154.2 1030.5 154.5 1032.5 154.8 1034.5 155.0 1036.5 155.2 1038.5 155.4 1040.5 155.6 1042.5 155.8 1044.5 156.0 1046.5 156.2 1048.5 156.5 1050.5 156.8 1052.5 157.1 1054.5 157.6 1056.5 158.2 1058.5 158.8 1060.5 159.7 1062.5 160.7 1064.5 162.0 1066.5 163.5 1068.5 165.3 1070.5 167.3 1072.5 169.7 1074.5 172.5 1076.5 175.5 1078.5 178.8 1080.5 182.4 1082.5 186.2 1084.5 190.2 1086.5 194.4 1088.5 198.8 1090.5 203.2 1092.5 207.7 1094.5 212.2 1096.5 216.7 1098.5 221.3 1100.5 225.8 1102.5 230.2 1104.5 234.6 1106.5 238.9 1108.5 243.1 1110.5 247.2 1112.5 251.2 1114.5 255.0 1116.5 258.7 1118.5 262.3 1120.5 265.7 1122.5 268.9 1124.5 272.0 1126.5 274.8 1128.5 277.5 1130.5 280.1 1132.5 282.4 1134.5 284.5 1136.5 286.5 1138.5 288.4 1140.5 290.0 1142.5 291.5 1144.5 292.9 1146.5 294.1 1148.5 295.2 1150.5 296.2 1152.5 297.1 1154.5 297.8 1156.5 298.5 1158.5 299.1 1160.5 299.6 1162.5 300.1 1164.5 300.4 1166.5 300.8 1168.5 301.0 1170.5 301.3 1172.5 301.5 1174.5 301.6 1176.5 301.7 1178.5 301.8 1180.5 301.8 1182.5 301.9 1184.5 301.9 1186.5 301.8 1188.5 301.8 1190.5 301.7 1192.5 301.6 1194.5 301.5 1196.5 301.4 1198.5 301.3 1200.5 301.1 1202.5 301.0 1204.5 300.8 1206.5 300.6 1208.5 300.4 1210.5 300.2 1212.5 300.0 1214.5 299.7 1216.5 299.5 1218.5 299.2 1220.5 298.9 1222.5 298.6 1224.5 298.4 1226.5 298.0 1228.5 297.7 1230.5 297.4 1232.5 297.1 1234.5 296.8 1236.5 296.4 1238.5 296.1 1240.5 295.7 1242.5 295.4 1244.5 295.0 1246.5 294.6 1248.5 294.3 1250.5 293.9 1252.5 293.5 1254.5 293.2 1256.5 292.8 1258.5 292.4 1260.5 292.1 1262.5 291.7 1264.5 291.4 1266.5 291.0 1268.5 290.7 1270.5 290.4 1272.5 290.1 1274.5 289.7 1276.5 289.4 1278.5 289.1 1280.5 288.8 1282.5 288.6 1284.5 288.3 1286.5 288.0 1288.5 287.8 1290.5 287.5 1292.5 287.3 1294.5 287.1 1296.5 286.9 1298.5 286.6 1300.5 286.4 1302.5 286.3 1304.5 286.1 1306.5 285.9 1308.5 285.7 1310.5 285.6 1312.5 285.4 1314.5 285.3 1316.5 285.2 1318.5 285.0 1320.5 284.9 1322.5 284.8 1324.5 284.7 1326.5 284.6 1328.5 284.5 1330.5 284.4 1332.5 284.3 1334.5 284.2 1336.5 284.2 1338.5 284.1 1340.5 284.0 1342.5 284.0 1344.5 283.9 1346.5 283.8 1348.5 283.8 1350.5 283.7 1352.5 283.7 1354.5 283.7 1356.5 283.6 1358.5 283.6 1360.5 283.5 1362.5 283.5 1364.5 283.5 1366.5 283.4 1368.5 283.4 1370.5 283.4 1372.5 283.4 1374.5 283.3 1376.5 283.3 1378.5 283.3 1380.5 283.3 1382.5 283.3 1384.5 283.2 1386.5 283.2 1388.5 283.2 1390.5 283.2 1392.5 283.2 1394.5 283.2 1396.5 283.2 1398.5 283.2 1400.5 283.1 1402.5 283.1 1404.5 283.1 1406.5 283.1 1408.5 283.1 1410.5 283.1 1412.5 283.1 1414.5 283.1 1416.5 283.1 1418.5 283.1 1420.5 283.1 1422.5 283.1 1424.5 283.1 1426.5 283.1 1428.5 283.1 1430.5 283.1 1432.5 283.1 1434.5 283.0 1436.5 283.0 1438.5 283.0 1440.5 283.0 1442.5 283.0 1444.5 283.0 1446.5 283.0 1448.5 283.0 1450.5 283.0 1452.5 283.0 1454.5 283.0 1456.5 283.0 1458.5 283.0 1460.5 283.0 1462.5 283.0 1464.5 283.0 1466.5 283.0 1468.5 283.0 1470.5 283.0 1472.5 283.0 1474.5 283.0 1475.3 283.0" fill="none" stroke="#6e00a0" stroke-width="3.0" stroke-linejoin="round" stroke-linecap="butt"/>
<path d="M986.5 116.0 988.5 118.7 990.5 121.5 992.5 124.2 994.5 126.9 996.5 130.1 998.5 134.3 1000.5 137.7 1002.5 140.7 1004.5 143.2 1006.5 145.3 1008.5 147.1 1010.5 148.6 1012.5 149.9 1014.5 151.0 1016.5 151.9 1018.5 152.7 1020.5 153.4 1022.5 153.9 1024.5 154.4 1026.5 154.8 1028.5 155.1 1030.5 155.4 1032.5 155.7 1034.5 155.9 1036.5 156.1 1038.5 156.2 1040.5 156.4 1042.5 156.6 1044.5 156.7 1046.5 156.9 1048.5 157.0 1050.5 157.2 1052.5 157.4 1054.5 157.7 1056.5 158.0 1058.5 158.4 1060.5 159.0 1062.5 159.6 1064.5 160.4 1066.5 161.3 1068.5 162.5 1070.5 163.9 1072.5 165.5 1074.5 167.5 1076.5 169.8 1078.5 172.4 1080.5 175.3 1082.5 178.5 1084.5 181.9 1086.5 185.6 1088.5 189.6 1090.5 193.7 1092.5 197.9 1094.5 202.2 1096.5 206.6 1098.5 211.0 1100.5 215.5 1102.5 219.9 1104.5 224.3 1106.5 228.6 1108.5 232.9 1110.5 237.1 1112.5 241.2 1114.5 245.1 1116.5 249.0 1118.5 252.6 1120.5 256.2 1122.5 259.6 1124.5 262.8 1126.5 265.8 1128.5 268.7 1130.5 271.4 1132.5 273.9 1134.5 276.2 1136.5 278.4 1138.5 280.3 1140.5 282.2 1142.5 283.8 1144.5 285.3 1146.5 286.6 1148.5 287.9 1150.5 288.9 1152.5 289.9 1154.5 290.8 1156.5 291.5 1158.5 292.2 1160.5 292.7 1162.5 293.2 1164.5 293.7 1166.5 294.0 1168.5 294.3 1170.5 294.6 1172.5 294.8 1174.5 294.9 1176.5 295.0 1178.5 295.1 1180.5 295.1 1182.5 295.1 1184.5 295.1 1186.5 295.1 1188.5 295.0 1190.5 294.9 1192.5 294.8 1194.5 294.7 1196.5 294.5 1198.5 294.3 1200.5 294.1 1202.5 293.9 1204.5 293.7 1206.5 293.4 1208.5 293.2 1210.5 292.9 1212.5 292.6 1214.5 292.3 1216.5 292.0 1218.5 291.6 1220.5 291.3 1222.5 290.9 1224.5 290.5 1226.5 290.2 1228.5 289.8 1230.5 289.3 1232.5 288.9 1234.5 288.5 1236.5 288.1 1238.5 287.6 1240.5 287.2 1242.5 286.7 1244.5 286.3 1246.5 285.8 1248.5 285.3 1250.5 284.9 1252.5 284.4 1254.5 283.9 1256.5 283.5 1258.5 283.0 1260.5 282.6 1262.5 282.1 1264.5 281.7 1266.5 281.2 1268.5 280.8 1270.5 280.4 1272.5 280.0 1274.5 279.6 1276.5 279.2 1278.5 278.8 1280.5 278.4 1282.5 278.1 1284.5 277.7 1286.5 277.4 1288.5 277.1 1290.5 276.8 1292.5 276.5 1294.5 276.2 1296.5 275.9 1298.5 275.6 1300.5 275.4 1302.5 275.1 1304.5 274.9 1306.5 274.7 1308.5 274.5 1310.5 274.3 1312.5 274.1 1314.5 273.9 1316.5 273.8 1318.5 273.6 1320.5 273.4 1322.5 273.3 1324.5 273.2 1326.5 273.0 1328.5 272.9 1330.5 272.8 1332.5 272.7 1334.5 272.6 1336.5 272.5 1338.5 272.4 1340.5 272.3 1342.5 272.2 1344.5 272.2 1346.5 272.1 1348.5 272.0 1350.5 271.9 1352.5 271.9 1354.5 271.8 1356.5 271.8 1358.5 271.7 1360.5 271.7 1362.5 271.6 1364.5 271.6 1366.5 271.6 1368.5 271.5 1370.5 271.5 1372.5 271.5 1374.5 271.4 1376.5 271.4 1378.5 271.4 1380.5 271.4 1382.5 271.3 1384.5 271.3 1386.5 271.3 1388.5 271.3 1390.5 271.3 1392.5 271.2 1394.5 271.2 1396.5 271.2 1398.5 271.2 1400.5 271.2 1402.5 271.2 1404.5 271.2 1406.5 271.2 1408.5 271.1 1410.5 271.1 1412.5 271.1 1414.5 271.1 1416.5 271.1 1418.5 271.1 1420.5 271.1 1422.5 271.1 1424.5 271.1 1426.5 271.1 1428.5 271.1 1430.5 271.1 1432.5 271.1 1434.5 271.1 1436.5 271.1 1438.5 271.1 1440.5 271.0 1442.5 271.0 1444.5 271.0 1446.5 271.0 1448.5 271.0 1450.5 271.0 1452.5 271.0 1454.5 271.0 1456.5 271.0 1458.5 271.0 1460.5 271.0 1462.5 271.0 1464.5 271.0 1466.5 271.0 1468.5 271.0 1470.5 271.0 1472.5 271.0 1474.5 271.0 1475.3 271.0" fill="none" stroke="#6e00a0" stroke-width="3.0" stroke-linejoin="round" stroke-linecap="butt"/>
<path d="M986.5 116.0 988.5 118.7 990.5 121.5 992.5 124.2 994.5 126.9 996.5 130.1 998.5 134.3 1000.5 137.8 1002.5 140.7 1004.5 143.2 1006.5 145.3 1008.5 147.1 1010.5 148.6 1012.5 149.9 1014.5 151.0 1016.5 151.9 1018.5 152.7 1020.5 153.4 1022.5 153.9 1024.5 154.4 1026.5 154.8 1028.5 155.1 1030.5 155.4 1032.5 155.7 1034.5 155.9 1036.5 156.0 1038.5 156.2 1040.5 156.3 1042.5 156.4 1044.5 156.5 1046.5 156.6 1048.5 156.6 1050.5 156.7 1052.5 156.7 1054.5 156.8 1056.5 156.8 1058.5 156.8 1060.5 156.9 1062.5 157.2 1064.5 157.6 1066.5 158.2 1068.5 158.8 1070.5 159.7 1072.5 160.8 1074.5 162.1 1076.5 163.7 1078.5 165.6 1080.5 167.8 1082.5 170.3 1084.5 173.1 1086.5 176.2 1088.5 179.5 1090.5 183.2 1092.5 187.0 1094.5 191.0 1096.5 195.1 1098.5 199.4 1100.5 203.7 1102.5 208.1 1104.5 212.5 1106.5 217.0 1108.5 221.4 1110.5 225.9 1112.5 230.3 1114.5 234.6 1116.5 239.0 1118.5 243.2 1120.5 247.4 1122.5 251.6 1124.5 255.7 1126.5 259.7 1128.5 263.6 1130.5 267.5 1132.5 271.2 1134.5 274.9 1136.5 278.5 1138.5 281.9 1140.5 285.3 1142.5 288.6 1144.5 291.8 1146.5 294.8 1148.5 297.8 1150.5 300.7 1152.5 303.4 1154.5 306.1 1156.5 308.6 1158.5 311.0 1160.5 313.3 1162.5 315.5 1164.5 317.7 1166.5 319.7 1168.5 321.6 1170.5 323.4 1172.5 325.1 1174.5 326.7 1176.5 328.3 1178.5 329.7 1180.5 331.1 1182.5 332.4 1184.5 333.6 1186.5 334.7 1188.5 335.8 1190.5 336.8 1192.5 337.7 1194.5 338.6 1196.5 339.4 1198.5 340.2 1200.5 340.9 1202.5 341.5 1204.5 342.2 1206.5 342.7 1208.5 343.3 1210.5 343.8 1212.5 344.2 1214.5 344.7 1216.5 345.1 1218.5 345.4 1220.5 345.8 1222.5 346.1 1224.5 346.4 1226.5 346.7 1228.5 346.9 1230.5 347.2 1232.5 347.4 1234.5 347.6 1236.5 347.8 1238.5 348.0 1240.5 348.1 1242.5 348.3 1244.5 348.4 1246.5 348.5 1248.5 348.7 1250.5 348.8 1252.5 348.9 1254.5 349.0 1256.5 349.0 1258.5 349.1 1260.5 349.2 1262.5 349.3 1264.5 349.3 1266.5 349.4 1268.5 349.4 1270.5 349.5 1272.5 349.5 1274.5 349.6 1276.5 349.6 1278.5 349.7 1280.5 349.7 1282.5 349.7 1284.5 349.7 1286.5 349.8 1288.5 349.8 1290.5 349.8 1292.5 349.8 1294.5 349.9 1296.5 349.9 1298.5 349.9 1300.5 349.9 1302.5 349.9 1304.5 349.9 1306.5 349.9 1308.5 350.0 1310.5 350.0 1312.5 350.0 1314.5 350.0 1316.5 350.0 1318.5 350.0 1320.5 350.0 1322.5 350.0 1324.5 350.0 1326.5 350.0 1328.5 350.0 1330.5 350.0 1332.5 350.0 1334.5 350.0 1336.5 350.0 1338.5 350.0 1340.5 350.0 1342.5 350.0 1344.5 350.0 1346.5 350.0 1348.5 350.0 1350.5 350.0 1352.5 350.0 1354.5 350.0 1356.5 350.0 1358.5 350.0 1360.5 350.0 1362.5 350.0 1364.5 350.0 1366.5 350.0 1368.5 350.0 1370.5 350.0 1372.5 350.0 1374.5 350.0 1376.5 350.0 1378.5 350.0 1380.5 350.0 1382.5 350.0 1384.5 350.0 1386.5 350.0 1388.5 350.0 1390.5 350.0 1392.5 350.0 1394.5 350.0 1396.5 350.0 1398.5 350.0 1400.5 350.0 1402.5 350.0 1404.5 350.0 1406.5 350.0 1408.5 350.0 1410.5 350.0 1412.5 350.0 1414.5 350.0 1416.5 350.0 1418.5 350.0 1420.5 350.0 1422.5 350.0 1424.5 350.0 1426.5 350.0 1428.5 350.0 1430.5 350.0 1432.5 350.0 1434.5 350.0 1436.5 350.0 1438.5 350.0 1440.5 350.0 1442.5 350.0 1444.5 350.0 1446.5 350.0 1448.5 350.0 1450.5 350.0 1452.5 350.0 1454.5 350.0 1456.5 350.0 1458.5 350.0 1460.5 350.0 1462.5 350.0 1464.5 350.0 1466.5 350.0 1468.5 350.0 1470.5 350.0 1472.5 350.0 1474.5 350.0 1475.3 350.0" fill="none" stroke="#6e00a0" stroke-width="3.0" stroke-linejoin="round" stroke-linecap="butt"/>
<path d="M986.5 114.0 988.5 117.3 990.5 120.8 992.5 124.1 994.5 126.8 996.5 128.3 998.5 129.3 1000.5 130.2 1002.5 131.0 1004.5 131.8 1006.5 132.4 1008.5 133.0 1010.5 133.5 1012.5 134.0 1014.5 134.4 1016.5 134.8 1018.5 135.2 1020.5 135.6 1022.5 136.0 1024.5 136.4 1026.5 136.9 1028.5 137.3 1030.5 137.7 1032.5 138.0 1034.5 138.4 1036.5 138.8 1038.5 139.1 1040.5 139.4 1042.5 139.7 1044.5 140.0 1046.5 140.3 1048.5 140.6 1050.5 140.8 1052.5 141.0 1054.5 141.3 1056.5 141.4 1058.5 141.6 1060.5 141.8 1062.5 141.9 1064.5 142.0 1066.5 142.2 1068.5 142.3 1070.5 142.4 1072.5 142.5 1074.5 142.6 1076.5 142.7 1078.5 142.8 1080.5 143.0 1082.5 143.1 1084.5 143.2 1086.5 143.3 1088.5 143.5 1090.5 143.6 1092.5 143.8 1094.5 144.0 1096.5 144.2 1098.5 144.5 1100.5 144.7 1102.5 145.0 1104.5 145.3 1106.5 145.6 1108.5 145.9 1110.5 146.3 1112.5 146.6 1114.5 146.9 1116.5 147.2 1118.5 147.5 1120.5 147.8 1122.5 148.0 1124.5 148.3 1126.5 148.5 1128.5 148.7 1130.5 148.8 1132.5 149.0 1134.5 149.1 1136.5 149.2 1138.5 149.4 1140.5 149.5 1142.5 149.6 1144.5 149.7 1146.5 149.8 1148.5 149.9 1150.5 150.0 1152.5 150.1 1154.5 150.2 1156.5 150.3 1158.5 150.3 1160.5 150.4 1162.5 150.5 1164.5 150.5 1166.5 150.6 1168.5 150.6 1170.5 150.7 1172.5 150.7 1174.5 150.8 1176.5 150.8 1178.5 150.9 1180.5 150.9 1182.5 151.0 1184.5 151.0 1186.5 151.1 1188.5 151.1 1190.5 151.2 1192.5 151.2 1194.5 151.3 1196.5 151.3 1198.5 151.4 1200.5 151.4 1202.5 151.4 1204.5 151.5 1206.5 151.5 1208.5 151.5 1210.5 151.6 1212.5 151.6 1214.5 151.6 1216.5 151.7 1218.5 151.7 1220.5 151.7 1222.5 151.8 1224.5 151.8 1226.5 151.8 1228.5 151.8 1230.5 151.9 1232.5 151.9 1234.5 151.9 1236.5 151.9 1238.5 151.9 1240.5 152.0 1242.5 152.0 1244.5 152.0 1246.5 152.0 1248.5 152.0 1250.5 152.0 1252.5 152.0 1254.5 152.0 1256.5 152.0 1258.5 152.0 1260.5 152.0 1262.5 152.0 1264.5 152.0 1266.5 152.0 1268.5 152.1 1270.5 152.1 1272.5 152.1 1274.5 152.1 1276.5 152.1 1278.5 152.1 1280.5 152.1 1282.5 152.1 1284.5 152.1 1286.5 152.1 1288.5 152.1 1290.5 152.1 1292.5 152.1 1294.5 152.1 1296.5 152.1 1298.5 152.1 1300.5 152.1 1302.5 152.1 1304.5 152.1 1306.5 152.1 1308.5 152.1 1310.5 152.1 1312.5 152.1 1314.5 152.1 1316.5 152.2 1318.5 152.2 1320.5 152.2 1322.5 152.2 1324.5 152.2 1326.5 152.2 1328.5 152.2 1330.5 152.2 1332.5 152.2 1334.5 152.2 1336.5 152.2 1338.5 152.2 1340.5 152.2 1342.5 152.2 1344.5 152.2 1346.5 152.2 1348.5 152.2 1350.5 152.2 1352.5 152.2 1354.5 152.2 1356.5 152.2 1358.5 152.2 1360.5 152.2 1362.5 152.2 1364.5 152.2 1366.5 152.2 1368.5 152.2 1370.5 152.2 1372.5 152.2 1374.5 152.2 1376.5 152.2 1378.5 152.2 1380.5 152.2 1382.5 152.2 1384.5 152.2 1386.5 152.1 1388.5 152.1 1390.5 152.0 1392.5 151.9 1394.5 151.9 1396.5 151.8 1398.5 151.7 1400.5 151.6 1402.5 151.5 1404.5 151.4 1406.5 151.3 1408.5 151.2 1410.5 151.1 1412.5 151.0 1414.5 150.9 1416.5 150.8 1418.5 150.7 1420.5 150.7 1422.5 150.6 1424.5 150.6 1426.5 150.5 1428.5 150.5 1430.5 150.5 1432.5 150.5 1434.5 150.5 1436.5 150.6 1438.5 150.7 1440.5 150.7 1442.5 150.8 1444.5 150.9 1446.5 151.1 1448.5 151.2 1450.5 151.3 1452.5 151.5 1454.5 151.6 1456.5 151.8 1458.5 151.9 1460.5 152.1 1462.5 152.2 1464.5 152.4 1466.5 152.5 1468.5 152.7 1470.5 152.8 1472.5 152.9 1474.5 153.1 1475.3 153.1" fill="none" stroke="#0000f5" stroke-width="3.0" stroke-linejoin="round" stroke-linecap="butt"/>
<path d="M986.5 116.0 988.5 118.7 990.5 121.5 992.5 124.2 994.5 126.9 996.5 129.7 998.5 132.5 1000.5 135.3 1002.5 138.2 1004.5 141.1 1006.5 144.0 1008.5 146.8 1010.5 149.7 1012.5 152.5 1014.5 155.3 1016.5 158.0 1018.5 160.7 1020.5 163.4 1022.5 166.3 1024.5 169.3 1026.5 172.3 1028.5 175.3 1030.5 178.3 1032.5 181.2 1034.5 183.9 1036.5 186.5 1038.5 189.0 1040.5 191.1 1042.5 193.0 1044.5 194.6 1046.5 195.8 1048.5 196.6 1050.5 197.4 1052.5 198.1 1054.5 198.8 1056.5 199.4 1058.5 199.9 1060.5 200.4 1062.5 200.8 1064.5 201.3 1066.5 201.7 1068.5 202.1 1070.5 202.5 1072.5 202.9 1074.5 203.2 1076.5 203.6 1078.5 204.0 1080.5 204.3 1082.5 204.7 1084.5 205.1 1086.5 205.5 1088.5 206.0 1090.5 206.6 1092.5 207.2 1094.5 207.9 1096.5 208.7 1098.5 209.6 1100.5 210.7 1102.5 212.0 1104.5 213.6 1106.5 215.4 1108.5 217.5 1110.5 219.9 1112.5 222.6 1114.5 225.7 1116.5 229.1 1118.5 232.8 1120.5 236.7 1122.5 240.9 1124.5 245.3 1126.5 249.8 1128.5 254.4 1130.5 259.1 1132.5 263.8 1134.5 268.5 1136.5 273.1 1138.5 277.7 1140.5 282.2 1142.5 286.5 1144.5 290.8 1146.5 294.8 1148.5 298.8 1150.5 302.5 1152.5 306.1 1154.5 309.5 1156.5 312.7 1158.5 315.6 1160.5 318.4 1162.5 321.0 1164.5 323.4 1166.5 325.6 1168.5 327.6 1170.5 329.5 1172.5 331.2 1174.5 332.7 1176.5 334.1 1178.5 335.3 1180.5 336.4 1182.5 337.4 1184.5 338.3 1186.5 339.1 1188.5 339.8 1190.5 340.4 1192.5 341.0 1194.5 341.5 1196.5 341.9 1198.5 342.3 1200.5 342.6 1202.5 342.9 1204.5 343.2 1206.5 343.4 1208.5 343.6 1210.5 343.8 1212.5 343.9 1214.5 344.1 1216.5 344.2 1218.5 344.3 1220.5 344.4 1222.5 344.4 1224.5 344.5 1226.5 344.6 1228.5 344.6 1230.5 344.7 1232.5 344.7 1234.5 344.8 1236.5 344.8 1238.5 344.8 1240.5 344.8 1242.5 344.9 1244.5 344.9 1246.5 344.9 1248.5 344.9 1250.5 344.9 1252.5 344.9 1254.5 344.9 1256.5 344.9 1258.5 345.0 1260.5 345.0 1262.5 345.0 1264.5 345.0 1266.5 345.0 1268.5 345.0 1270.5 345.0 1272.5 345.0 1274.5 345.0 1276.5 345.0 1278.5 345.0 1280.5 345.0 1282.5 345.0 1284.5 345.0 1286.5 345.0 1288.5 345.0 1290.5 345.0 1292.5 345.0 1294.5 345.0 1296.5 345.0 1298.5 345.0 1300.5 345.0 1302.5 345.0 1304.5 345.0 1306.5 345.0 1308.5 345.0 1310.5 345.0 1312.5 345.0 1314.5 345.0 1316.5 345.0 1318.5 345.0 1320.5 345.0 1322.5 345.0 1324.5 345.0 1326.5 345.0 1328.5 345.0 1330.5 345.0 1332.5 345.0 1334.5 345.0 1336.5 345.0 1338.5 345.0 1340.5 345.0 1342.5 345.0 1344.5 345.0 1346.5 345.0 1348.5 345.0 1350.5 345.0 1352.5 345.0 1354.5 345.0 1356.5 345.0 1358.5 345.0 1360.5 345.0 1362.5 345.0 1364.5 345.0 1366.5 345.0 1368.5 345.0 1370.5 345.0 1372.5 345.0 1374.5 345.0 1376.5 345.0 1378.5 345.0 1380.5 345.0 1382.5 345.0 1384.5 345.0 1386.5 345.0 1388.5 345.0 1390.5 345.0 1392.5 345.0 1394.5 345.0 1396.5 345.0 1398.5 345.0 1400.5 345.0 1402.5 345.0 1404.5 345.0 1406.5 345.0 1408.5 345.0 1410.5 345.0 1412.5 345.0 1414.5 345.0 1416.5 345.0 1418.5 345.0 1420.5 345.0 1422.5 345.0 1424.5 345.0 1426.5 345.0 1428.5 345.0 1430.5 345.0 1432.5 345.0 1434.5 345.0 1436.5 345.0 1438.5 345.0 1440.5 345.0 1442.5 345.0 1444.5 345.0 1446.5 345.0 1448.5 345.0 1450.5 345.0 1452.5 345.0 1454.5 345.0 1456.5 345.0 1458.5 345.0 1460.5 345.0 1462.5 345.0 1464.5 345.0 1466.5 345.0 1468.5 345.0 1470.5 345.0 1472.5 345.0 1474.5 345.0 1475.3 345.0" fill="none" stroke="#0000f5" stroke-width="3.0" stroke-linejoin="round" stroke-linecap="butt"/>
<path d="M986.5 116.0 988.5 118.7 990.5 121.4 992.5 124.2 994.5 126.9 996.5 129.7 998.5 132.6 1000.5 135.5 1002.5 138.4 1004.5 141.4 1006.5 144.4 1008.5 147.3 1010.5 150.3 1012.5 153.2 1014.5 156.1 1016.5 158.9 1018.5 161.7 1020.5 164.5 1022.5 167.5 1024.5 170.6 1026.5 173.7 1028.5 176.8 1030.5 179.8 1032.5 182.8 1034.5 185.7 1036.5 188.3 1038.5 190.8 1040.5 193.0 1042.5 195.0 1044.5 196.5 1046.5 197.8 1048.5 198.7 1050.5 199.4 1052.5 200.2 1054.5 200.8 1056.5 201.4 1058.5 201.9 1060.5 202.4 1062.5 202.8 1064.5 203.3 1066.5 203.7 1068.5 204.1 1070.5 204.5 1072.5 204.9 1074.5 205.2 1076.5 205.5 1078.5 205.9 1080.5 206.2 1082.5 206.5 1084.5 206.8 1086.5 207.2 1088.5 207.6 1090.5 207.9 1092.5 208.4 1094.5 208.8 1096.5 209.3 1098.5 209.9 1100.5 210.6 1102.5 211.3 1104.5 212.2 1106.5 213.3 1108.5 214.6 1110.5 216.1 1112.5 217.9 1114.5 219.9 1116.5 222.3 1118.5 225.0 1120.5 228.0 1122.5 231.4 1124.5 235.0 1126.5 239.0 1128.5 243.1 1130.5 247.5 1132.5 252.0 1134.5 256.6 1136.5 261.3 1138.5 266.0 1140.5 270.8 1142.5 275.4 1144.5 280.0 1146.5 284.6 1148.5 289.0 1150.5 293.3 1152.5 297.4 1154.5 301.4 1156.5 305.2 1158.5 308.8 1160.5 312.3 1162.5 315.5 1164.5 318.6 1166.5 321.5 1168.5 324.1 1170.5 326.6 1172.5 328.8 1174.5 330.9 1176.5 332.8 1178.5 334.6 1180.5 336.2 1182.5 337.6 1184.5 338.9 1186.5 340.0 1188.5 341.1 1190.5 342.0 1192.5 342.8 1194.5 343.5 1196.5 344.2 1198.5 344.8 1200.5 345.3 1202.5 345.7 1204.5 346.1 1206.5 346.4 1208.5 346.6 1210.5 346.8 1212.5 346.9 1214.5 347.0 1216.5 347.0 1218.5 346.9 1220.5 346.7 1222.5 346.4 1224.5 346.1 1226.5 345.7 1228.5 345.3 1230.5 344.8 1232.5 344.4 1234.5 344.1 1236.5 343.9 1238.5 343.7 1240.5 343.7 1242.5 343.9 1244.5 344.1 1246.5 344.5 1248.5 345.0 1250.5 345.5 1252.5 346.0 1254.5 346.5 1256.5 347.0 1258.5 347.4 1260.5 347.8 1262.5 348.1 1264.5 348.3 1266.5 348.5 1268.5 348.7 1270.5 348.8 1272.5 348.8 1274.5 348.9 1276.5 348.9 1278.5 349.0 1280.5 349.0 1282.5 349.0 1284.5 349.0 1286.5 349.0 1288.5 349.0 1290.5 349.0 1292.5 349.0 1294.5 349.0 1296.5 349.0 1298.5 349.0 1300.5 349.0 1302.5 349.0 1304.5 349.0 1306.5 349.0 1308.5 349.0 1310.5 349.0 1312.5 349.0 1314.5 349.0 1316.5 349.0 1318.5 349.0 1320.5 349.0 1322.5 349.0 1324.5 349.0 1326.5 349.0 1328.5 349.0 1330.5 349.0 1332.5 349.0 1334.5 349.0 1336.5 349.0 1338.5 349.0 1340.5 349.0 1342.5 349.0 1344.5 349.0 1346.5 349.0 1348.5 349.0 1350.5 349.0 1352.5 349.0 1354.5 349.0 1356.5 349.0 1358.5 349.0 1360.5 349.0 1362.5 349.0 1364.5 349.0 1366.5 349.0 1368.5 349.0 1370.5 349.0 1372.5 349.0 1374.5 349.0 1376.5 349.0 1378.5 349.0 1380.5 349.0 1382.5 349.0 1384.5 349.0 1386.5 349.0 1388.5 349.0 1390.5 349.0 1392.5 349.0 1394.5 349.0 1396.5 349.0 1398.5 349.0 1400.5 349.0 1402.5 349.0 1404.5 349.0 1406.5 349.0 1408.5 349.0 1410.5 349.0 1412.5 349.0 1414.5 349.0 1416.5 349.0 1418.5 349.0 1420.5 349.0 1422.5 349.0 1424.5 349.0 1426.5 349.0 1428.5 349.0 1430.5 349.0 1432.5 349.0 1434.5 349.0 1436.5 349.0 1438.5 349.0 1440.5 349.0 1442.5 349.0 1444.5 349.0 1446.5 349.0 1448.5 349.0 1450.5 349.0 1452.5 349.0 1454.5 349.0 1456.5 349.0 1458.5 349.0 1460.5 349.0 1462.5 349.0 1464.5 349.0 1466.5 349.0 1468.5 349.0 1470.5 349.0 1472.5 349.0 1474.5 349.0 1475.3 349.0" fill="none" stroke="#0000f5" stroke-width="3.0" stroke-linejoin="round" stroke-linecap="butt"/>
<path d="M986.5 116.0 988.5 118.7 990.5 121.5 992.5 124.2 994.5 126.9 996.5 129.7 998.5 132.4 1000.5 135.0 1002.5 137.7 1004.5 140.3 1006.5 142.9 1008.5 145.6 1010.5 148.2 1012.5 151.0 1014.5 153.8 1016.5 156.7 1018.5 159.7 1020.5 162.8 1022.5 166.3 1024.5 170.1 1026.5 174.1 1028.5 178.1 1030.5 181.9 1032.5 185.4 1034.5 188.4 1036.5 190.8 1038.5 193.2 1040.5 195.6 1042.5 197.8 1044.5 200.0 1046.5 202.0 1048.5 203.9 1050.5 205.7 1052.5 207.3 1054.5 208.7 1056.5 209.9 1058.5 210.9 1060.5 211.7 1062.5 212.3 1064.5 213.0 1066.5 213.6 1068.5 214.1 1070.5 214.6 1072.5 215.1 1074.5 215.5 1076.5 215.9 1078.5 216.3 1080.5 216.6 1082.5 216.9 1084.5 217.2 1086.5 217.5 1088.5 217.8 1090.5 218.1 1092.5 218.4 1094.5 218.7 1096.5 219.0 1098.5 219.3 1100.5 219.6 1102.5 220.0 1104.5 220.5 1106.5 221.0 1108.5 221.6 1110.5 222.4 1112.5 223.3 1114.5 224.3 1116.5 225.6 1118.5 227.2 1120.5 229.0 1122.5 231.1 1124.5 233.5 1126.5 236.3 1128.5 239.3 1130.5 242.7 1132.5 246.4 1134.5 250.3 1136.5 254.5 1138.5 258.8 1140.5 263.2 1142.5 267.8 1144.5 272.3 1146.5 276.9 1148.5 281.4 1150.5 285.9 1152.5 290.3 1154.5 294.6 1156.5 298.8 1158.5 302.8 1160.5 306.7 1162.5 310.4 1164.5 313.9 1166.5 317.2 1168.5 320.3 1170.5 323.3 1172.5 326.0 1174.5 328.5 1176.5 330.9 1178.5 333.0 1180.5 335.0 1182.5 336.8 1184.5 338.4 1186.5 339.9 1188.5 341.1 1190.5 342.2 1192.5 343.1 1194.5 343.9 1196.5 344.4 1198.5 344.7 1200.5 344.8 1202.5 344.8 1204.5 344.6 1206.5 344.4 1208.5 344.1 1210.5 343.9 1212.5 343.9 1214.5 344.0 1216.5 344.3 1218.5 344.8 1220.5 345.5 1222.5 346.3 1224.5 347.1 1226.5 348.0 1228.5 348.8 1230.5 349.5 1232.5 350.1 1234.5 350.6 1236.5 350.9 1238.5 351.2 1240.5 351.4 1242.5 351.5 1244.5 351.6 1246.5 351.7 1248.5 351.8 1250.5 351.8 1252.5 351.8 1254.5 351.9 1256.5 351.9 1258.5 351.9 1260.5 351.9 1262.5 351.9 1264.5 351.9 1266.5 351.9 1268.5 351.9 1270.5 352.0 1272.5 352.0 1274.5 352.0 1276.5 352.0 1278.5 352.0 1280.5 352.0 1282.5 352.0 1284.5 352.0 1286.5 352.0 1288.5 352.0 1290.5 352.0 1292.5 352.0 1294.5 352.0 1296.5 352.0 1298.5 352.0 1300.5 352.0 1302.5 352.0 1304.5 352.0 1306.5 352.0 1308.5 352.0 1310.5 352.0 1312.5 352.0 1314.5 352.0 1316.5 352.0 1318.5 352.0 1320.5 352.0 1322.5 352.0 1324.5 352.0 1326.5 352.0 1328.5 352.0 1330.5 352.0 1332.5 352.0 1334.5 352.0 1336.5 352.0 1338.5 352.0 1340.5 352.0 1342.5 352.0 1344.5 352.0 1346.5 352.0 1348.5 352.0 1350.5 352.0 1352.5 352.0 1354.5 352.0 1356.5 352.0 1358.5 352.0 1360.5 352.0 1362.5 352.0 1364.5 352.0 1366.5 352.0 1368.5 352.0 1370.5 352.0 1372.5 352.0 1374.5 352.0 1376.5 352.0 1378.5 352.0 1380.5 352.0 1382.5 352.0 1384.5 352.0 1386.5 352.0 1388.5 352.0 1390.5 352.0 1392.5 352.0 1394.5 352.0 1396.5 352.0 1398.5 352.0 1400.5 352.0 1402.5 352.0 1404.5 352.0 1406.5 352.0 1408.5 352.0 1410.5 352.0 1412.5 352.0 1414.5 352.0 1416.5 352.0 1418.5 352.0 1420.5 352.0 1422.5 352.0 1424.5 352.0 1426.5 352.0 1428.5 352.0 1430.5 352.0 1432.5 352.0 1434.5 352.0 1436.5 352.0 1438.5 352.0 1440.5 352.0 1442.5 352.0 1444.5 352.0 1446.5 352.0 1448.5 352.0 1450.5 352.0 1452.5 352.0 1454.5 352.0 1456.5 352.0 1458.5 352.0 1460.5 352.0 1462.5 352.0 1464.5 352.0 1466.5 352.0 1468.5 352.0 1470.5 352.0 1472.5 352.0 1474.5 352.0 1475.3 352.0" fill="none" stroke="#0000f5" stroke-width="3.0" stroke-linejoin="round" stroke-linecap="butt"/>
<path d="M986.5 116.0 988.5 118.7 990.5 121.5 992.5 124.2 994.5 126.9 996.5 129.7 998.5 132.5 1000.5 135.3 1002.5 138.2 1004.5 141.0 1006.5 143.9 1008.5 146.8 1010.5 149.6 1012.5 152.4 1014.5 155.2 1016.5 158.0 1018.5 160.7 1020.5 163.5 1022.5 166.4 1024.5 169.5 1026.5 172.6 1028.5 175.7 1030.5 178.7 1032.5 181.7 1034.5 184.6 1036.5 187.3 1038.5 189.8 1040.5 192.0 1042.5 193.9 1044.5 195.5 1046.5 196.8 1048.5 197.7 1050.5 198.4 1052.5 199.2 1054.5 199.8 1056.5 200.4 1058.5 200.9 1060.5 201.4 1062.5 201.8 1064.5 202.3 1066.5 202.7 1068.5 203.1 1070.5 203.5 1072.5 203.8 1074.5 204.2 1076.5 204.5 1078.5 204.8 1080.5 205.0 1082.5 205.3 1084.5 205.6 1086.5 205.9 1088.5 206.2 1090.5 206.6 1092.5 207.0 1094.5 207.3 1096.5 207.7 1098.5 208.1 1100.5 208.5 1102.5 209.0 1104.5 209.4 1106.5 209.8 1108.5 210.2 1110.5 210.6 1112.5 211.1 1114.5 211.5 1116.5 211.9 1118.5 212.4 1120.5 213.0 1122.5 213.6 1124.5 214.4 1126.5 215.4 1128.5 216.5 1130.5 217.9 1132.5 219.5 1134.5 221.5 1136.5 223.7 1138.5 226.3 1140.5 229.1 1142.5 232.3 1144.5 235.8 1146.5 239.5 1148.5 243.4 1150.5 247.4 1152.5 251.6 1154.5 255.9 1156.5 260.2 1158.5 264.5 1160.5 268.8 1162.5 273.0 1164.5 277.2 1166.5 281.3 1168.5 285.2 1170.5 289.1 1172.5 292.8 1174.5 296.3 1176.5 299.7 1178.5 302.9 1180.5 306.0 1182.5 308.9 1184.5 311.6 1186.5 314.2 1188.5 316.6 1190.5 318.9 1192.5 321.0 1194.5 323.0 1196.5 324.8 1198.5 326.4 1200.5 328.0 1202.5 329.4 1204.5 330.7 1206.5 331.9 1208.5 332.9 1210.5 333.9 1212.5 334.8 1214.5 335.6 1216.5 336.4 1218.5 337.0 1220.5 337.6 1222.5 338.2 1224.5 338.7 1226.5 339.1 1228.5 339.5 1230.5 339.9 1232.5 340.2 1234.5 340.5 1236.5 340.8 1238.5 341.0 1240.5 341.2 1242.5 341.4 1244.5 341.6 1246.5 341.7 1248.5 341.8 1250.5 342.0 1252.5 342.1 1254.5 342.2 1256.5 342.3 1258.5 342.3 1260.5 342.4 1262.5 342.5 1264.5 342.5 1266.5 342.6 1268.5 342.6 1270.5 342.7 1272.5 342.7 1274.5 342.7 1276.5 342.8 1278.5 342.8 1280.5 342.8 1282.5 342.8 1284.5 342.8 1286.5 342.9 1288.5 342.9 1290.5 342.9 1292.5 342.9 1294.5 342.9 1296.5 342.9 1298.5 342.9 1300.5 342.9 1302.5 342.9 1304.5 343.0 1306.5 343.0 1308.5 343.0 1310.5 343.0 1312.5 343.0 1314.5 343.0 1316.5 343.0 1318.5 343.0 1320.5 343.0 1322.5 343.0 1324.5 343.0 1326.5 343.0 1328.5 343.0 1330.5 343.0 1332.5 343.0 1334.5 343.0 1336.5 343.0 1338.5 343.0 1340.5 343.0 1342.5 343.0 1344.5 343.0 1346.5 343.0 1348.5 343.0 1350.5 343.0 1352.5 343.0 1354.5 343.0 1356.5 343.0 1358.5 343.0 1360.5 343.0 1362.5 343.0 1364.5 343.0 1366.5 343.0 1368.5 343.0 1370.5 343.0 1372.5 343.0 1374.5 343.0 1376.5 343.0 1378.5 343.0 1380.5 343.0 1382.5 343.0 1384.5 343.0 1386.5 343.0 1388.5 343.0 1390.5 343.0 1392.5 343.0 1394.5 343.0 1396.5 343.0 1398.5 343.0 1400.5 343.0 1402.5 343.0 1404.5 343.0 1406.5 343.0 1408.5 343.0 1410.5 343.0 1412.5 343.0 1414.5 343.0 1416.5 343.0 1418.5 343.0 1420.5 343.0 1422.5 343.0 1424.5 343.0 1426.5 343.0 1428.5 343.0 1430.5 343.0 1432.5 343.0 1434.5 343.0 1436.5 343.0 1438.5 343.0 1440.5 343.0 1442.5 343.0 1444.5 343.0 1446.5 343.0 1448.5 343.0 1450.5 343.0 1452.5 343.0 1454.5 343.0 1456.5 343.0 1458.5 343.0 1460.5 343.0 1462.5 343.0 1464.5 343.0 1466.5 343.0 1468.5 343.0 1470.5 343.0 1472.5 343.0 1474.5 343.0 1475.3 343.0" fill="none" stroke="#0000f5" stroke-width="3.0" stroke-linejoin="round" stroke-linecap="butt"/>
<path d="M986.5 125.0 988.5 125.0 990.5 125.0 992.5 125.0 994.5 125.0 996.5 125.0 998.5 125.0 1000.5 125.1 1002.5 125.4 1004.5 125.8 1006.5 126.4 1008.5 127.2 1010.5 128.0 1012.5 128.9 1014.5 129.9 1016.5 130.8 1018.5 131.8 1020.5 132.9 1022.5 134.3 1024.5 135.8 1026.5 137.4 1028.5 139.1 1030.5 140.9 1032.5 142.8 1034.5 144.7 1036.5 146.6 1038.5 148.6 1040.5 150.5 1042.5 152.6 1044.5 154.9 1046.5 157.4 1048.5 159.8 1050.5 162.1 1052.5 164.2 1054.5 165.9 1056.5 167.4 1058.5 168.8 1060.5 170.1 1062.5 171.4 1064.5 172.7 1066.5 173.9 1068.5 175.0 1070.5 176.1 1072.5 177.2 1074.5 178.2 1076.5 179.2 1078.5 180.1 1080.5 181.0 1082.5 181.8 1084.5 182.5 1086.5 183.2 1088.5 183.9 1090.5 184.5 1092.5 185.0 1094.5 185.5 1096.5 186.0 1098.5 186.4 1100.5 186.8 1102.5 187.2 1104.5 187.6 1106.5 187.9 1108.5 188.3 1110.5 188.6 1112.5 188.9 1114.5 189.2 1116.5 189.5 1118.5 189.8 1120.5 190.1 1122.5 190.3 1124.5 190.6 1126.5 190.9 1128.5 191.1 1130.5 191.4 1132.5 191.6 1134.5 191.9 1136.5 192.1 1138.5 192.4 1140.5 192.6 1142.5 192.9 1144.5 193.1 1146.5 193.3 1148.5 193.5 1150.5 193.7 1152.5 193.9 1154.5 194.1 1156.5 194.3 1158.5 194.5 1160.5 194.6 1162.5 194.8 1164.5 194.9 1166.5 195.0 1168.5 195.1 1170.5 195.1 1172.5 195.2 1174.5 195.3 1176.5 195.4 1178.5 195.4 1180.5 195.5 1182.5 195.6 1184.5 195.7 1186.5 195.7 1188.5 195.8 1190.5 195.8 1192.5 195.9 1194.5 196.0 1196.5 196.0 1198.5 196.1 1200.5 196.1 1202.5 196.2 1204.5 196.2 1206.5 196.3 1208.5 196.3 1210.5 196.4 1212.5 196.4 1214.5 196.4 1216.5 196.5 1218.5 196.5 1220.5 196.6 1222.5 196.6 1224.5 196.6 1226.5 196.7 1228.5 196.7 1230.5 196.7 1232.5 196.8 1234.5 196.8 1236.5 196.8 1238.5 196.8 1240.5 196.9 1242.5 196.9 1244.5 196.9 1246.5 197.0 1248.5 197.0 1250.5 197.0 1252.5 197.0 1254.5 197.1 1256.5 197.1 1258.5 197.1 1260.5 197.1 1262.5 197.1 1264.5 197.2 1266.5 197.2 1268.5 197.2 1270.5 197.2 1272.5 197.3 1274.5 197.3 1276.5 197.3 1278.5 197.3 1280.5 197.4 1282.5 197.4 1284.5 197.4 1286.5 197.4 1288.5 197.4 1290.5 197.5 1292.5 197.5 1294.5 197.5 1296.5 197.5 1298.5 197.5 1300.5 197.6 1302.5 197.6 1304.5 197.6 1306.5 197.6 1308.5 197.6 1310.5 197.7 1312.5 197.7 1314.5 197.7 1316.5 197.7 1318.5 197.7 1320.5 197.7 1322.5 197.8 1324.5 197.8 1326.5 197.8 1328.5 197.8 1330.5 197.8 1332.5 197.8 1334.5 197.8 1336.5 197.9 1338.5 197.9 1340.5 197.9 1342.5 197.9 1344.5 197.9 1346.5 197.9 1348.5 197.9 1350.5 197.9 1352.5 197.9 1354.5 197.9 1356.5 198.0 1358.5 198.0 1360.5 198.0 1362.5 198.0 1364.5 198.0 1366.5 198.0 1368.5 198.0 1370.5 198.0 1372.5 198.0 1374.5 198.0 1376.5 198.0 1378.5 198.0 1380.5 198.0 1382.5 198.0 1384.5 198.0 1386.5 198.0 1388.5 198.0 1390.5 198.0 1392.5 198.0 1394.5 198.0 1396.5 198.0 1398.5 198.0 1400.5 198.0 1402.5 198.0 1404.5 198.0 1406.5 197.9 1408.5 197.9 1410.5 197.9 1412.5 197.9 1414.5 197.9 1416.5 197.9 1418.5 197.9 1420.5 197.9 1422.5 197.9 1424.5 197.9 1426.5 197.9 1428.5 197.8 1430.5 197.8 1432.5 197.8 1434.5 197.8 1436.5 197.8 1438.5 197.8 1440.5 197.8 1442.5 197.8 1444.5 197.8 1446.5 197.7 1448.5 197.7 1450.5 197.7 1452.5 197.7 1454.5 197.7 1456.5 197.7 1458.5 197.7 1460.5 197.7 1462.5 197.7 1464.5 197.6 1466.5 197.6 1468.5 197.6 1470.5 197.6 1472.5 197.6 1474.5 197.6 1475.3 197.6" fill="none" stroke="#ff6400" stroke-width="3.0" stroke-linejoin="round" stroke-linecap="butt"/>
<path d="M986.5 125.0 988.5 126.1 990.5 127.1 992.5 128.0 994.5 129.0 996.5 130.0 998.5 131.1 1000.5 132.2 1002.5 133.4 1004.5 134.7 1006.5 136.1 1008.5 137.7 1010.5 139.6 1012.5 141.5 1014.5 143.6 1016.5 145.8 1018.5 148.0 1020.5 150.2 1022.5 152.4 1024.5 154.6 1026.5 156.7 1028.5 158.6 1030.5 160.4 1032.5 162.3 1034.5 164.1 1036.5 166.0 1038.5 167.8 1040.5 169.6 1042.5 171.4 1044.5 173.1 1046.5 174.7 1048.5 176.2 1050.5 177.5 1052.5 178.7 1054.5 179.8 1056.5 180.7 1058.5 181.5 1060.5 182.3 1062.5 183.0 1064.5 183.7 1066.5 184.3 1068.5 185.0 1070.5 185.5 1072.5 186.1 1074.5 186.6 1076.5 187.2 1078.5 187.7 1080.5 188.2 1082.5 188.7 1084.5 189.2 1086.5 189.7 1088.5 190.2 1090.5 190.7 1092.5 191.3 1094.5 191.9 1096.5 192.4 1098.5 193.0 1100.5 193.6 1102.5 194.2 1104.5 194.7 1106.5 195.3 1108.5 195.9 1110.5 196.5 1112.5 197.0 1114.5 197.6 1116.5 198.1 1118.5 198.6 1120.5 199.1 1122.5 199.6 1124.5 200.1 1126.5 200.5 1128.5 201.0 1130.5 201.4 1132.5 201.8 1134.5 202.3 1136.5 202.7 1138.5 203.2 1140.5 203.6 1142.5 204.1 1144.5 204.5 1146.5 204.9 1148.5 205.4 1150.5 205.7 1152.5 206.1 1154.5 206.4 1156.5 206.7 1158.5 207.0 1160.5 207.2 1162.5 207.3 1164.5 207.5 1166.5 207.5 1168.5 207.5 1170.5 207.4 1172.5 207.2 1174.5 206.9 1176.5 206.7 1178.5 206.4 1180.5 206.2 1182.5 206.1 1184.5 206.0 1186.5 206.1 1188.5 206.5 1190.5 207.1 1192.5 207.9 1194.5 208.6 1196.5 209.3 1198.5 209.8 1200.5 210.0 1202.5 210.2 1204.5 210.3 1206.5 210.4 1208.5 210.5 1210.5 210.6 1212.5 210.8 1214.5 210.9 1216.5 211.0 1218.5 211.1 1220.5 211.2 1222.5 211.3 1224.5 211.3 1226.5 211.4 1228.5 211.5 1230.5 211.6 1232.5 211.7 1234.5 211.7 1236.5 211.8 1238.5 211.9 1240.5 211.9 1242.5 212.0 1244.5 212.1 1246.5 212.1 1248.5 212.2 1250.5 212.2 1252.5 212.3 1254.5 212.3 1256.5 212.4 1258.5 212.4 1260.5 212.5 1262.5 212.5 1264.5 212.5 1266.5 212.6 1268.5 212.6 1270.5 212.6 1272.5 212.7 1274.5 212.7 1276.5 212.7 1278.5 212.8 1280.5 212.8 1282.5 212.8 1284.5 212.8 1286.5 212.9 1288.5 212.9 1290.5 212.9 1292.5 212.9 1294.5 212.9 1296.5 213.0 1298.5 213.0 1300.5 213.0 1302.5 213.0 1304.5 213.0 1306.5 213.1 1308.5 213.1 1310.5 213.1 1312.5 213.1 1314.5 213.1 1316.5 213.1 1318.5 213.2 1320.5 213.2 1322.5 213.2 1324.5 213.2 1326.5 213.2 1328.5 213.2 1330.5 213.3 1332.5 213.3 1334.5 213.3 1336.5 213.3 1338.5 213.3 1340.5 213.3 1342.5 213.3 1344.5 213.3 1346.5 213.3 1348.5 213.4 1350.5 213.4 1352.5 213.4 1354.5 213.4 1356.5 213.4 1358.5 213.4 1360.5 213.4 1362.5 213.4 1364.5 213.4 1366.5 213.4 1368.5 213.5 1370.5 213.5 1372.5 213.5 1374.5 213.5 1376.5 213.5 1378.5 213.5 1380.5 213.5 1382.5 213.5 1384.5 213.5 1386.5 213.5 1388.5 213.5 1390.5 213.5 1392.5 213.5 1394.5 213.6 1396.5 213.6 1398.5 213.6 1400.5 213.6 1402.5 213.6 1404.5 213.6 1406.5 213.6 1408.5 213.6 1410.5 213.6 1412.5 213.6 1414.5 213.6 1416.5 213.6 1418.5 213.6 1420.5 213.6 1422.5 213.6 1424.5 213.7 1426.5 213.7 1428.5 213.7 1430.5 213.7 1432.5 213.7 1434.5 213.7 1436.5 213.7 1438.5 213.7 1440.5 213.7 1442.5 213.7 1444.5 213.7 1446.5 213.7 1448.5 213.7 1450.5 213.7 1452.5 213.7 1454.5 213.7 1456.5 213.7 1458.5 213.7 1460.5 213.8 1462.5 213.8 1464.5 213.8 1466.5 213.8 1468.5 213.8 1470.5 213.8 1472.5 213.8 1474.5 213.8 1475.3 213.8" fill="none" stroke="#ff6400" stroke-width="3.0" stroke-linejoin="round" stroke-linecap="butt"/>
<path d="M986.5 125.0 988.5 126.2 990.5 127.3 992.5 128.4 994.5 129.5 996.5 130.6 998.5 131.7 1000.5 132.9 1002.5 134.2 1004.5 135.6 1006.5 137.2 1008.5 138.9 1010.5 140.9 1012.5 142.9 1014.5 145.1 1016.5 147.4 1018.5 149.7 1020.5 152.0 1022.5 154.2 1024.5 156.5 1026.5 158.6 1028.5 160.6 1030.5 162.5 1032.5 164.3 1034.5 166.1 1036.5 168.0 1038.5 169.8 1040.5 171.6 1042.5 173.4 1044.5 175.0 1046.5 176.6 1048.5 178.1 1050.5 179.5 1052.5 180.7 1054.5 181.8 1056.5 182.7 1058.5 183.6 1060.5 184.4 1062.5 185.2 1064.5 185.9 1066.5 186.6 1068.5 187.2 1070.5 187.9 1072.5 188.5 1074.5 189.1 1076.5 189.6 1078.5 190.2 1080.5 190.7 1082.5 191.3 1084.5 191.8 1086.5 192.3 1088.5 192.9 1090.5 193.4 1092.5 194.0 1094.5 194.6 1096.5 195.2 1098.5 195.7 1100.5 196.3 1102.5 196.9 1104.5 197.5 1106.5 198.0 1108.5 198.6 1110.5 199.1 1112.5 199.7 1114.5 200.2 1116.5 200.7 1118.5 201.2 1120.5 201.8 1122.5 202.2 1124.5 202.7 1126.5 203.2 1128.5 203.7 1130.5 204.1 1132.5 204.6 1134.5 205.1 1136.5 205.5 1138.5 206.1 1140.5 206.6 1142.5 207.1 1144.5 207.6 1146.5 208.1 1148.5 208.5 1150.5 209.0 1152.5 209.4 1154.5 209.8 1156.5 210.1 1158.5 210.4 1160.5 210.6 1162.5 210.8 1164.5 210.9 1166.5 211.0 1168.5 211.0 1170.5 210.8 1172.5 210.6 1174.5 210.2 1176.5 209.9 1178.5 209.6 1180.5 209.3 1182.5 209.1 1184.5 209.0 1186.5 209.2 1188.5 209.8 1190.5 210.7 1192.5 211.8 1194.5 213.0 1196.5 214.0 1198.5 214.7 1200.5 215.0 1202.5 215.2 1204.5 215.4 1206.5 215.6 1208.5 215.7 1210.5 215.9 1212.5 216.0 1214.5 216.2 1216.5 216.3 1218.5 216.4 1220.5 216.6 1222.5 216.7 1224.5 216.8 1226.5 216.9 1228.5 217.0 1230.5 217.1 1232.5 217.2 1234.5 217.3 1236.5 217.4 1238.5 217.5 1240.5 217.6 1242.5 217.6 1244.5 217.7 1246.5 217.8 1248.5 217.9 1250.5 217.9 1252.5 218.0 1254.5 218.0 1256.5 218.1 1258.5 218.2 1260.5 218.2 1262.5 218.3 1264.5 218.3 1266.5 218.4 1268.5 218.4 1270.5 218.4 1272.5 218.5 1274.5 218.5 1276.5 218.6 1278.5 218.6 1280.5 218.6 1282.5 218.7 1284.5 218.7 1286.5 218.8 1288.5 218.8 1290.5 218.8 1292.5 218.9 1294.5 218.9 1296.5 218.9 1298.5 219.0 1300.5 219.0 1302.5 219.0 1304.5 219.1 1306.5 219.1 1308.5 219.2 1310.5 219.2 1312.5 219.2 1314.5 219.3 1316.5 219.3 1318.5 219.3 1320.5 219.4 1322.5 219.4 1324.5 219.4 1326.5 219.5 1328.5 219.5 1330.5 219.5 1332.5 219.6 1334.5 219.6 1336.5 219.6 1338.5 219.7 1340.5 219.7 1342.5 219.7 1344.5 219.7 1346.5 219.8 1348.5 219.8 1350.5 219.8 1352.5 219.8 1354.5 219.9 1356.5 219.9 1358.5 219.9 1360.5 219.9 1362.5 219.9 1364.5 219.9 1366.5 220.0 1368.5 220.0 1370.5 220.0 1372.5 220.0 1374.5 220.0 1376.5 220.0 1378.5 220.0 1380.5 220.0 1382.5 220.0 1384.5 220.0 1386.5 220.0 1388.5 220.0 1390.5 220.0 1392.5 220.0 1394.5 220.0 1396.5 220.0 1398.5 220.0 1400.5 220.0 1402.5 220.0 1404.5 220.0 1406.5 220.0 1408.5 220.0 1410.5 220.0 1412.5 220.0 1414.5 220.0 1416.5 220.0 1418.5 220.0 1420.5 220.0 1422.5 220.0 1424.5 220.0 1426.5 220.0 1428.5 220.0 1430.5 220.0 1432.5 220.0 1434.5 220.0 1436.5 220.0 1438.5 219.9 1440.5 219.9 1442.5 219.9 1444.5 219.9 1446.5 219.9 1448.5 219.9 1450.5 219.9 1452.5 219.9 1454.5 219.9 1456.5 219.9 1458.5 219.9 1460.5 219.9 1462.5 219.9 1464.5 219.9 1466.5 219.9 1468.5 219.9 1470.5 219.9 1472.5 219.9 1474.5 219.9 1475.3 219.9" fill="none" stroke="#ff6400" stroke-width="3.0" stroke-linejoin="round" stroke-linecap="butt"/>
<path d="M986.5 125.0 988.5 126.1 990.5 127.2 992.5 128.3 994.5 129.4 996.5 130.6 998.5 131.9 1000.5 133.4 1002.5 135.2 1004.5 137.3 1006.5 139.6 1008.5 142.2 1010.5 144.8 1012.5 147.5 1014.5 150.2 1016.5 152.9 1018.5 155.5 1020.5 157.8 1022.5 160.0 1024.5 162.0 1026.5 164.1 1028.5 166.2 1030.5 168.2 1032.5 170.3 1034.5 172.3 1036.5 174.2 1038.5 176.1 1040.5 177.8 1042.5 179.5 1044.5 181.0 1046.5 182.3 1048.5 183.5 1050.5 184.6 1052.5 185.4 1054.5 186.2 1056.5 186.9 1058.5 187.5 1060.5 188.1 1062.5 188.7 1064.5 189.2 1066.5 189.8 1068.5 190.2 1070.5 190.7 1072.5 191.1 1074.5 191.6 1076.5 192.0 1078.5 192.4 1080.5 192.8 1082.5 193.3 1084.5 193.7 1086.5 194.1 1088.5 194.6 1090.5 195.1 1092.5 195.6 1094.5 196.1 1096.5 196.7 1098.5 197.3 1100.5 197.9 1102.5 198.5 1104.5 199.2 1106.5 200.0 1108.5 200.8 1110.5 201.7 1112.5 202.5 1114.5 203.5 1116.5 204.7 1118.5 206.1 1120.5 207.7 1122.5 209.6 1124.5 211.9 1126.5 214.5 1128.5 217.4 1130.5 220.7 1132.5 224.3 1134.5 228.2 1136.5 232.4 1138.5 236.9 1140.5 241.6 1142.5 246.4 1144.5 251.3 1146.5 256.3 1148.5 261.3 1150.5 266.3 1152.5 271.3 1154.5 276.2 1156.5 281.0 1158.5 285.6 1160.5 290.2 1162.5 294.6 1164.5 298.8 1166.5 302.8 1168.5 306.7 1170.5 310.4 1172.5 313.9 1174.5 317.1 1176.5 320.2 1178.5 323.1 1180.5 325.7 1182.5 328.2 1184.5 330.5 1186.5 332.6 1188.5 334.5 1190.5 336.3 1192.5 337.9 1194.5 339.3 1196.5 340.6 1198.5 341.8 1200.5 342.9 1202.5 343.8 1204.5 344.7 1206.5 345.4 1208.5 346.1 1210.5 346.6 1212.5 347.2 1214.5 347.6 1216.5 348.0 1218.5 348.3 1220.5 348.6 1222.5 348.8 1224.5 349.0 1226.5 349.1 1228.5 349.3 1230.5 349.3 1232.5 349.4 1234.5 349.4 1236.5 349.4 1238.5 349.4 1240.5 349.3 1242.5 349.2 1244.5 349.1 1246.5 349.0 1248.5 348.8 1250.5 348.6 1252.5 348.4 1254.5 348.2 1256.5 348.0 1258.5 347.7 1260.5 347.4 1262.5 347.1 1264.5 346.8 1266.5 346.5 1268.5 346.1 1270.5 345.8 1272.5 345.4 1274.5 345.0 1276.5 344.6 1278.5 344.2 1280.5 343.8 1282.5 343.4 1284.5 343.1 1286.5 342.7 1288.5 342.3 1290.5 341.9 1292.5 341.6 1294.5 341.2 1296.5 340.9 1298.5 340.5 1300.5 340.2 1302.5 339.9 1304.5 339.6 1306.5 339.3 1308.5 339.1 1310.5 338.9 1312.5 338.6 1314.5 338.4 1316.5 338.2 1318.5 338.0 1320.5 337.9 1322.5 337.7 1324.5 337.6 1326.5 337.4 1328.5 337.3 1330.5 337.2 1332.5 337.1 1334.5 337.0 1336.5 336.9 1338.5 336.8 1340.5 336.7 1342.5 336.7 1344.5 336.6 1346.5 336.6 1348.5 336.5 1350.5 336.5 1352.5 336.4 1354.5 336.4 1356.5 336.3 1358.5 336.3 1360.5 336.3 1362.5 336.3 1364.5 336.2 1366.5 336.2 1368.5 336.2 1370.5 336.2 1372.5 336.2 1374.5 336.1 1376.5 336.1 1378.5 336.1 1380.5 336.1 1382.5 336.1 1384.5 336.1 1386.5 336.1 1388.5 336.1 1390.5 336.1 1392.5 336.1 1394.5 336.1 1396.5 336.0 1398.5 336.0 1400.5 336.0 1402.5 336.0 1404.5 336.0 1406.5 336.0 1408.5 336.0 1410.5 336.0 1412.5 336.0 1414.5 336.0 1416.5 336.0 1418.5 336.0 1420.5 336.0 1422.5 336.0 1424.5 336.0 1426.5 336.0 1428.5 336.0 1430.5 336.0 1432.5 336.0 1434.5 336.0 1436.5 336.0 1438.5 336.0 1440.5 336.0 1442.5 336.0 1444.5 336.0 1446.5 336.0 1448.5 336.0 1450.5 336.0 1452.5 336.0 1454.5 336.0 1456.5 336.0 1458.5 336.0 1460.5 336.0 1462.5 336.0 1464.5 336.0 1466.5 336.0 1468.5 336.0 1470.5 336.0 1472.5 336.0 1474.5 336.0 1475.3 336.0" fill="none" stroke="#ff6400" stroke-width="3.0" stroke-linejoin="round" stroke-linecap="butt"/>
<path d="M986.5 112.0 988.5 115.5 990.5 119.2 992.5 122.7 994.5 125.6 996.5 127.3 998.5 128.6 1000.5 129.6 1002.5 130.5 1004.5 131.2 1006.5 131.9 1008.5 132.5 1010.5 133.2 1012.5 133.8 1014.5 134.3 1016.5 134.8 1018.5 135.3 1020.5 135.8 1022.5 136.3 1024.5 136.7 1026.5 137.2 1028.5 137.6 1030.5 138.1 1032.5 138.7 1034.5 139.2 1036.5 139.8 1038.5 140.4 1040.5 141.1 1042.5 141.7 1044.5 142.2 1046.5 142.7 1048.5 143.1 1050.5 143.5 1052.5 143.7 1054.5 143.8 1056.5 143.8 1058.5 143.8 1060.5 143.8 1062.5 143.8 1064.5 143.7 1066.5 143.7 1068.5 143.7 1070.5 143.6 1072.5 143.6 1074.5 143.5 1076.5 143.5 1078.5 143.4 1080.5 143.4 1082.5 143.3 1084.5 143.3 1086.5 143.2 1088.5 143.2 1090.5 143.1 1092.5 143.1 1094.5 143.1 1096.5 143.0 1098.5 143.0 1100.5 142.9 1102.5 142.9 1104.5 142.8 1106.5 142.8 1108.5 142.7 1110.5 142.7 1112.5 142.6 1114.5 142.6 1116.5 142.5 1118.5 142.4 1120.5 142.4 1122.5 142.3 1124.5 142.2 1126.5 142.1 1128.5 142.0 1130.5 141.9 1132.5 141.7 1134.5 141.4 1136.5 141.0 1138.5 140.5 1140.5 140.0 1142.5 139.5 1144.5 138.9 1146.5 138.4 1148.5 137.8 1150.5 137.3 1152.5 136.8 1154.5 136.4 1156.5 136.0 1158.5 135.7 1160.5 135.4 1162.5 135.0 1164.5 134.7 1166.5 134.5 1168.5 134.2 1170.5 133.9 1172.5 133.6 1174.5 133.4 1176.5 133.2 1178.5 133.0 1180.5 133.0 1182.5 133.1 1184.5 133.3 1186.5 133.6 1188.5 134.0 1190.5 134.4 1192.5 134.8 1194.5 135.2 1196.5 135.6 1198.5 135.8 1200.5 136.0 1202.5 136.2 1204.5 136.4 1206.5 136.5 1208.5 136.6 1210.5 136.8 1212.5 136.9 1214.5 137.0 1216.5 137.2 1218.5 137.3 1220.5 137.4 1222.5 137.5 1224.5 137.6 1226.5 137.7 1228.5 137.8 1230.5 137.9 1232.5 138.0 1234.5 138.1 1236.5 138.1 1238.5 138.2 1240.5 138.3 1242.5 138.3 1244.5 138.4 1246.5 138.4 1248.5 138.5 1250.5 138.5 1252.5 138.5 1254.5 138.6 1256.5 138.6 1258.5 138.6 1260.5 138.6 1262.5 138.7 1264.5 138.7 1266.5 138.7 1268.5 138.7 1270.5 138.8 1272.5 138.8 1274.5 138.8 1276.5 138.8 1278.5 138.8 1280.5 138.8 1282.5 138.9 1284.5 138.9 1286.5 138.9 1288.5 138.9 1290.5 138.9 1292.5 138.9 1294.5 138.9 1296.5 139.0 1298.5 139.0 1300.5 139.0 1302.5 139.0 1304.5 139.0 1306.5 139.1 1308.5 139.1 1310.5 139.1 1312.5 139.1 1314.5 139.1 1316.5 139.1 1318.5 139.2 1320.5 139.2 1322.5 139.2 1324.5 139.2 1326.5 139.2 1328.5 139.3 1330.5 139.3 1332.5 139.3 1334.5 139.3 1336.5 139.3 1338.5 139.4 1340.5 139.4 1342.5 139.4 1344.5 139.4 1346.5 139.5 1348.5 139.5 1350.5 139.5 1352.5 139.5 1354.5 139.6 1356.5 139.6 1358.5 139.7 1360.5 139.8 1362.5 139.8 1364.5 139.9 1366.5 140.0 1368.5 140.0 1370.5 140.1 1372.5 140.1 1374.5 140.1 1376.5 140.2 1378.5 140.2 1380.5 140.2 1382.5 140.2 1384.5 140.2 1386.5 140.2 1388.5 140.2 1390.5 140.2 1392.5 140.2 1394.5 140.2 1396.5 140.2 1398.5 140.2 1400.5 140.2 1402.5 140.2 1404.5 140.2 1406.5 140.2 1408.5 140.2 1410.5 140.1 1412.5 139.9 1414.5 139.7 1416.5 139.4 1418.5 139.1 1420.5 138.8 1422.5 138.6 1424.5 138.3 1426.5 138.0 1428.5 137.8 1430.5 137.6 1432.5 137.5 1434.5 137.5 1436.5 137.6 1438.5 137.9 1440.5 138.2 1442.5 138.5 1444.5 138.7 1446.5 138.9 1448.5 138.9 1450.5 138.9 1452.5 138.8 1454.5 138.7 1456.5 138.6 1458.5 138.5 1460.5 138.4 1462.5 138.2 1464.5 138.1 1466.5 137.9 1468.5 137.8 1470.5 137.6 1472.5 137.5 1474.5 137.3 1475.3 137.3" fill="none" stroke="#595959" stroke-width="3.0" stroke-linejoin="round" stroke-linecap="butt"/>
<path d="M986.5 113.0 988.5 116.4 990.5 120.1 992.5 123.5 994.5 126.4 996.5 128.4 998.5 130.0 1000.5 131.4 1002.5 132.7 1004.5 133.9 1006.5 135.0 1008.5 136.0 1010.5 136.9 1012.5 137.7 1014.5 138.5 1016.5 139.1 1018.5 139.6 1020.5 140.1 1022.5 140.6 1024.5 141.0 1026.5 141.4 1028.5 141.8 1030.5 142.2 1032.5 142.6 1034.5 143.0 1036.5 143.3 1038.5 143.7 1040.5 144.0 1042.5 144.3 1044.5 144.6 1046.5 144.9 1048.5 145.1 1050.5 145.3 1052.5 145.5 1054.5 145.7 1056.5 145.9 1058.5 146.0 1060.5 146.1 1062.5 146.2 1064.5 146.3 1066.5 146.3 1068.5 146.3 1070.5 146.3 1072.5 146.3 1074.5 146.3 1076.5 146.3 1078.5 146.3 1080.5 146.3 1082.5 146.3 1084.5 146.3 1086.5 146.3 1088.5 146.3 1090.5 146.3 1092.5 146.3 1094.5 146.3 1096.5 146.3 1098.5 146.3 1100.5 146.3 1102.5 146.3 1104.5 146.3 1106.5 146.3 1108.5 146.3 1110.5 146.3 1112.5 146.3 1114.5 146.3 1116.5 146.3 1118.5 146.3 1120.5 146.3 1122.5 146.3 1124.5 146.3 1126.5 146.3 1128.5 146.3 1130.5 146.3 1132.5 146.3 1134.5 146.3 1136.5 146.3 1138.5 146.2 1140.5 146.2 1142.5 146.1 1144.5 146.1 1146.5 146.0 1148.5 145.9 1150.5 145.9 1152.5 145.8 1154.5 145.7 1156.5 145.6 1158.5 145.5 1160.5 145.4 1162.5 145.3 1164.5 145.2 1166.5 145.0 1168.5 144.9 1170.5 144.6 1172.5 144.2 1174.5 143.8 1176.5 143.3 1178.5 142.8 1180.5 142.3 1182.5 141.9 1184.5 141.5 1186.5 141.2 1188.5 141.0 1190.5 141.0 1192.5 141.1 1194.5 141.3 1196.5 141.5 1198.5 141.9 1200.5 142.3 1202.5 142.7 1204.5 143.2 1206.5 143.7 1208.5 144.1 1210.5 144.6 1212.5 145.0 1214.5 145.4 1216.5 145.7 1218.5 145.9 1220.5 146.0 1222.5 146.1 1224.5 146.2 1226.5 146.3 1228.5 146.4 1230.5 146.5 1232.5 146.6 1234.5 146.6 1236.5 146.7 1238.5 146.8 1240.5 146.9 1242.5 146.9 1244.5 147.0 1246.5 147.1 1248.5 147.1 1250.5 147.2 1252.5 147.2 1254.5 147.3 1256.5 147.3 1258.5 147.4 1260.5 147.4 1262.5 147.5 1264.5 147.5 1266.5 147.6 1268.5 147.6 1270.5 147.6 1272.5 147.7 1274.5 147.7 1276.5 147.7 1278.5 147.8 1280.5 147.8 1282.5 147.8 1284.5 147.9 1286.5 147.9 1288.5 147.9 1290.5 147.9 1292.5 147.9 1294.5 148.0 1296.5 148.0 1298.5 148.0 1300.5 148.0 1302.5 148.0 1304.5 148.0 1306.5 148.0 1308.5 148.1 1310.5 148.1 1312.5 148.1 1314.5 148.1 1316.5 148.1 1318.5 148.1 1320.5 148.1 1322.5 148.1 1324.5 148.1 1326.5 148.1 1328.5 148.1 1330.5 148.1 1332.5 148.2 1334.5 148.2 1336.5 148.2 1338.5 148.2 1340.5 148.2 1342.5 148.2 1344.5 148.2 1346.5 148.2 1348.5 148.2 1350.5 148.2 1352.5 148.2 1354.5 148.2 1356.5 148.2 1358.5 148.2 1360.5 148.2 1362.5 148.2 1364.5 148.2 1366.5 148.3 1368.5 148.3 1370.5 148.3 1372.5 148.3 1374.5 148.3 1376.5 148.3 1378.5 148.3 1380.5 148.3 1382.5 148.3 1384.5 148.3 1386.5 148.3 1388.5 148.3 1390.5 148.3 1392.5 148.4 1394.5 148.4 1396.5 148.4 1398.5 148.4 1400.5 148.4 1402.5 148.4 1404.5 148.4 1406.5 148.4 1408.5 148.4 1410.5 148.4 1412.5 148.4 1414.5 148.4 1416.5 148.4 1418.5 148.5 1420.5 148.5 1422.5 148.5 1424.5 148.5 1426.5 148.5 1428.5 148.5 1430.5 148.5 1432.5 148.5 1434.5 148.5 1436.5 148.5 1438.5 148.5 1440.5 148.6 1442.5 148.6 1444.5 148.6 1446.5 148.6 1448.5 148.6 1450.5 148.6 1452.5 148.6 1454.5 148.6 1456.5 148.6 1458.5 148.6 1460.5 148.6 1462.5 148.6 1464.5 148.7 1466.5 148.7 1468.5 148.7 1470.5 148.7 1472.5 148.7 1474.5 148.7 1475.3 148.7" fill="none" stroke="#595959" stroke-width="3.0" stroke-linejoin="round" stroke-linecap="butt"/>
<path d="M986.5 114.0 988.5 117.3 990.5 120.8 992.5 124.1 994.5 127.1 996.5 129.3 998.5 131.2 1000.5 132.9 1002.5 134.5 1004.5 136.0 1006.5 137.4 1008.5 138.7 1010.5 139.9 1012.5 141.1 1014.5 142.2 1016.5 143.2 1018.5 144.2 1020.5 145.3 1022.5 146.2 1024.5 147.2 1026.5 148.1 1028.5 149.1 1030.5 149.9 1032.5 150.8 1034.5 151.6 1036.5 152.4 1038.5 153.2 1040.5 153.9 1042.5 154.6 1044.5 155.3 1046.5 155.9 1048.5 156.6 1050.5 157.1 1052.5 157.7 1054.5 158.2 1056.5 158.7 1058.5 159.2 1060.5 159.7 1062.5 160.1 1064.5 160.6 1066.5 161.0 1068.5 161.4 1070.5 161.8 1072.5 162.2 1074.5 162.7 1076.5 163.1 1078.5 163.5 1080.5 163.9 1082.5 164.3 1084.5 164.8 1086.5 165.2 1088.5 165.6 1090.5 166.0 1092.5 166.4 1094.5 166.8 1096.5 167.2 1098.5 167.6 1100.5 168.0 1102.5 168.4 1104.5 168.7 1106.5 169.1 1108.5 169.4 1110.5 169.8 1112.5 170.2 1114.5 170.6 1116.5 171.0 1118.5 171.4 1120.5 171.7 1122.5 172.0 1124.5 172.2 1126.5 172.4 1128.5 172.5 1130.5 172.5 1132.5 172.5 1134.5 172.5 1136.5 172.4 1138.5 172.3 1140.5 172.3 1142.5 172.2 1144.5 172.1 1146.5 172.0 1148.5 171.9 1150.5 171.8 1152.5 171.7 1154.5 171.6 1156.5 171.5 1158.5 171.5 1160.5 171.4 1162.5 171.3 1164.5 171.3 1166.5 171.3 1168.5 171.3 1170.5 171.3 1172.5 171.4 1174.5 171.5 1176.5 171.6 1178.5 171.7 1180.5 171.8 1182.5 171.9 1184.5 172.1 1186.5 172.2 1188.5 172.4 1190.5 172.5 1192.5 172.6 1194.5 172.7 1196.5 172.8 1198.5 172.9 1200.5 173.0 1202.5 173.1 1204.5 173.2 1206.5 173.2 1208.5 173.3 1210.5 173.4 1212.5 173.4 1214.5 173.5 1216.5 173.6 1218.5 173.7 1220.5 173.7 1222.5 173.8 1224.5 173.9 1226.5 173.9 1228.5 174.0 1230.5 174.1 1232.5 174.1 1234.5 174.2 1236.5 174.3 1238.5 174.3 1240.5 174.4 1242.5 174.5 1244.5 174.5 1246.5 174.6 1248.5 174.7 1250.5 174.7 1252.5 174.8 1254.5 174.8 1256.5 174.9 1258.5 174.9 1260.5 175.0 1262.5 175.0 1264.5 175.1 1266.5 175.1 1268.5 175.2 1270.5 175.2 1272.5 175.2 1274.5 175.3 1276.5 175.3 1278.5 175.3 1280.5 175.4 1282.5 175.4 1284.5 175.4 1286.5 175.4 1288.5 175.5 1290.5 175.5 1292.5 175.5 1294.5 175.5 1296.5 175.5 1298.5 175.5 1300.5 175.5 1302.5 175.5 1304.5 175.5 1306.5 175.5 1308.5 175.5 1310.5 175.5 1312.5 175.5 1314.5 175.5 1316.5 175.5 1318.5 175.5 1320.5 175.5 1322.5 175.5 1324.5 175.5 1326.5 175.5 1328.5 175.5 1330.5 175.5 1332.5 175.5 1334.5 175.5 1336.5 175.5 1338.5 175.5 1340.5 175.5 1342.5 175.5 1344.5 175.5 1346.5 175.5 1348.5 175.5 1350.5 175.5 1352.5 175.5 1354.5 175.5 1356.5 175.5 1358.5 175.5 1360.5 175.5 1362.5 175.5 1364.5 175.5 1366.5 175.5 1368.5 175.5 1370.5 175.5 1372.5 175.5 1374.5 175.5 1376.5 175.5 1378.5 175.5 1380.5 175.5 1382.5 175.5 1384.5 175.5 1386.5 175.5 1388.5 175.5 1390.5 175.5 1392.5 175.5 1394.5 175.5 1396.5 175.5 1398.5 175.5 1400.5 175.5 1402.5 175.5 1404.5 175.5 1406.5 175.5 1408.5 175.5 1410.5 175.5 1412.5 175.5 1414.5 175.5 1416.5 175.5 1418.5 175.4 1420.5 175.4 1422.5 175.4 1424.5 175.4 1426.5 175.4 1428.5 175.4 1430.5 175.4 1432.5 175.4 1434.5 175.4 1436.5 175.4 1438.5 175.4 1440.5 175.4 1442.5 175.4 1444.5 175.4 1446.5 175.4 1448.5 175.4 1450.5 175.4 1452.5 175.4 1454.5 175.4 1456.5 175.3 1458.5 175.3 1460.5 175.3 1462.5 175.3 1464.5 175.3 1466.5 175.3 1468.5 175.3 1470.5 175.3 1472.5 175.3 1474.5 175.3 1475.3 175.3" fill="none" stroke="#595959" stroke-width="3.0" stroke-linejoin="round" stroke-linecap="butt"/>
<path d="M986.5 114.0 988.5 117.4 990.5 120.9 992.5 124.4 994.5 127.8 996.5 131.2 998.5 134.5 1000.5 137.7 1002.5 140.9 1004.5 144.0 1006.5 147.0 1008.5 150.0 1010.5 153.1 1012.5 156.1 1014.5 159.2 1016.5 162.4 1018.5 165.5 1020.5 168.7 1022.5 171.8 1024.5 175.0 1026.5 178.2 1028.5 181.5 1030.5 184.8 1032.5 188.5 1034.5 192.4 1036.5 196.3 1038.5 200.0 1040.5 203.3 1042.5 206.0 1044.5 208.0 1046.5 209.8 1048.5 211.4 1050.5 212.8 1052.5 214.1 1054.5 215.2 1056.5 216.3 1058.5 217.2 1060.5 218.1 1062.5 218.9 1064.5 219.6 1066.5 220.2 1068.5 220.7 1070.5 221.2 1072.5 221.6 1074.5 221.9 1076.5 222.3 1078.5 222.6 1080.5 222.8 1082.5 223.1 1084.5 223.5 1086.5 223.8 1088.5 224.2 1090.5 224.6 1092.5 225.2 1094.5 225.8 1096.5 226.5 1098.5 227.2 1100.5 227.8 1102.5 228.3 1104.5 228.7 1106.5 229.0 1108.5 229.2 1110.5 229.5 1112.5 229.7 1114.5 229.9 1116.5 230.0 1118.5 230.2 1120.5 230.4 1122.5 230.5 1124.5 230.7 1126.5 230.8 1128.5 230.9 1130.5 231.1 1132.5 231.2 1134.5 231.3 1136.5 231.4 1138.5 231.5 1140.5 231.6 1142.5 231.7 1144.5 231.8 1146.5 232.0 1148.5 232.1 1150.5 232.2 1152.5 232.3 1154.5 232.5 1156.5 232.6 1158.5 232.8 1160.5 233.0 1162.5 233.1 1164.5 233.3 1166.5 233.5 1168.5 233.6 1170.5 233.7 1172.5 233.8 1174.5 233.8 1176.5 233.5 1178.5 233.1 1180.5 232.4 1182.5 231.7 1184.5 230.8 1186.5 229.9 1188.5 229.0 1190.5 228.2 1192.5 227.5 1194.5 226.8 1196.5 226.0 1198.5 225.3 1200.5 224.6 1202.5 224.1 1204.5 223.8 1206.5 223.8 1208.5 224.0 1210.5 224.3 1212.5 224.7 1214.5 225.1 1216.5 225.5 1218.5 225.9 1220.5 226.4 1222.5 227.0 1224.5 227.6 1226.5 228.3 1228.5 229.0 1230.5 229.7 1232.5 230.3 1234.5 230.9 1236.5 231.4 1238.5 231.8 1240.5 232.1 1242.5 232.3 1244.5 232.5 1246.5 232.7 1248.5 232.9 1250.5 233.1 1252.5 233.3 1254.5 233.5 1256.5 233.7 1258.5 233.9 1260.5 234.0 1262.5 234.2 1264.5 234.3 1266.5 234.5 1268.5 234.6 1270.5 234.8 1272.5 234.9 1274.5 235.0 1276.5 235.1 1278.5 235.2 1280.5 235.3 1282.5 235.4 1284.5 235.5 1286.5 235.6 1288.5 235.7 1290.5 235.7 1292.5 235.8 1294.5 235.9 1296.5 235.9 1298.5 236.0 1300.5 236.0 1302.5 236.1 1304.5 236.1 1306.5 236.1 1308.5 236.2 1310.5 236.2 1312.5 236.2 1314.5 236.3 1316.5 236.3 1318.5 236.3 1320.5 236.4 1322.5 236.4 1324.5 236.4 1326.5 236.5 1328.5 236.5 1330.5 236.5 1332.5 236.5 1334.5 236.6 1336.5 236.6 1338.5 236.6 1340.5 236.6 1342.5 236.7 1344.5 236.7 1346.5 236.7 1348.5 236.7 1350.5 236.7 1352.5 236.8 1354.5 236.8 1356.5 236.8 1358.5 236.8 1360.5 236.8 1362.5 236.8 1364.5 236.9 1366.5 236.9 1368.5 236.9 1370.5 236.9 1372.5 236.9 1374.5 236.9 1376.5 237.0 1378.5 237.0 1380.5 237.0 1382.5 237.0 1384.5 237.0 1386.5 237.1 1388.5 237.1 1390.5 237.1 1392.5 237.1 1394.5 237.1 1396.5 237.1 1398.5 237.2 1400.5 237.2 1402.5 237.2 1404.5 237.2 1406.5 237.2 1408.5 237.2 1410.5 237.3 1412.5 237.3 1414.5 237.3 1416.5 237.3 1418.5 237.3 1420.5 237.3 1422.5 237.3 1424.5 237.4 1426.5 237.4 1428.5 237.4 1430.5 237.4 1432.5 237.4 1434.5 237.4 1436.5 237.4 1438.5 237.4 1440.5 237.5 1442.5 237.5 1444.5 237.5 1446.5 237.5 1448.5 237.5 1450.5 237.5 1452.5 237.5 1454.5 237.6 1456.5 237.6 1458.5 237.6 1460.5 237.6 1462.5 237.6 1464.5 237.6 1466.5 237.6 1468.5 237.7 1470.5 237.7 1472.5 237.7 1474.5 237.7 1475.3 237.7" fill="none" stroke="#595959" stroke-width="3.0" stroke-linejoin="round" stroke-linecap="butt"/>
<path d="M102.00 106.1 V437.00" stroke="#000" stroke-width="2.8" fill="none"/>
<path d="M100.60 107.5 H595.40" stroke="#000" stroke-width="2.8" fill="none"/>
<path d="M102.00 98.8 V107.5" stroke="#000" stroke-width="2.8"/>
<text transform="translate(95.33,96.00) scale(1,1.055)" x="0" y="0" font-size="24" font-weight="bold" fill="#000" font-family="Liberation Sans, sans-serif">0</text>
<path d="M184.00 98.8 V107.5" stroke="#000" stroke-width="2.8"/>
<text transform="translate(170.65,96.00) scale(1,1.055)" x="0" y="0" font-size="24" font-weight="bold" fill="#000" font-family="Liberation Sans, sans-serif">20</text>
<path d="M266.00 98.8 V107.5" stroke="#000" stroke-width="2.8"/>
<text transform="translate(252.65,96.00) scale(1,1.055)" x="0" y="0" font-size="24" font-weight="bold" fill="#000" font-family="Liberation Sans, sans-serif">40</text>
<path d="M348.00 98.8 V107.5" stroke="#000" stroke-width="2.8"/>
<text transform="translate(334.65,96.00) scale(1,1.055)" x="0" y="0" font-size="24" font-weight="bold" fill="#000" font-family="Liberation Sans, sans-serif">60</text>
<path d="M430.00 98.8 V107.5" stroke="#000" stroke-width="2.8"/>
<text transform="translate(416.65,96.00) scale(1,1.055)" x="0" y="0" font-size="24" font-weight="bold" fill="#000" font-family="Liberation Sans, sans-serif">80</text>
<path d="M512.00 98.8 V107.5" stroke="#000" stroke-width="2.8"/>
<text transform="translate(491.98,96.00) scale(1,1.055)" x="0" y="0" font-size="24" font-weight="bold" fill="#000" font-family="Liberation Sans, sans-serif"> 00</text><path d="M501.24 96.00 L501.24 78.12 L498.77 78.12 L497.74 79.44 L495.94 80.76 L493.18 81.96 L493.18 85.08 L495.46 84.12 L497.88 82.68 L497.88 96.00Z" fill="#000"/>
<path d="M594.00 98.8 V107.5" stroke="#000" stroke-width="2.8"/>
<text transform="translate(573.98,96.00) scale(1,1.055)" x="0" y="0" font-size="24" font-weight="bold" fill="#000" font-family="Liberation Sans, sans-serif"> 20</text><path d="M583.24 96.00 L583.24 78.12 L580.77 78.12 L579.74 79.44 L577.94 80.76 L575.18 81.96 L575.18 85.08 L577.46 84.12 L579.88 82.68 L579.88 96.00Z" fill="#000"/>
<path d="M93.00 133.80 H102.0" stroke="#000" stroke-width="2.8"/>
<text transform="translate(40.79,140.60) scale(1,1.055)" x="0" y="0" font-size="24" font-weight="bold" fill="#000" font-family="Liberation Sans, sans-serif">0.00</text>
<path d="M93.00 184.10 H102.0" stroke="#000" stroke-width="2.8"/>
<text transform="translate(32.80,190.90) scale(1,1.055)" x="0" y="0" font-size="24" font-weight="bold" fill="#000" font-family="Liberation Sans, sans-serif">-0.02</text>
<path d="M93.00 234.40 H102.0" stroke="#000" stroke-width="2.8"/>
<text transform="translate(32.80,241.20) scale(1,1.055)" x="0" y="0" font-size="24" font-weight="bold" fill="#000" font-family="Liberation Sans, sans-serif">-0.04</text>
<path d="M93.00 284.70 H102.0" stroke="#000" stroke-width="2.8"/>
<text transform="translate(32.80,291.50) scale(1,1.055)" x="0" y="0" font-size="24" font-weight="bold" fill="#000" font-family="Liberation Sans, sans-serif">-0.06</text>
<path d="M93.00 335.00 H102.0" stroke="#000" stroke-width="2.8"/>
<text transform="translate(32.80,341.80) scale(1,1.055)" x="0" y="0" font-size="24" font-weight="bold" fill="#000" font-family="Liberation Sans, sans-serif">-0.08</text>
<path d="M93.00 385.30 H102.0" stroke="#000" stroke-width="2.8"/>
<text transform="translate(32.80,392.10) scale(1,1.055)" x="0" y="0" font-size="24" font-weight="bold" fill="#000" font-family="Liberation Sans, sans-serif">-0. 0</text><path d="M70.07 392.10 L70.07 374.22 L67.60 374.22 L66.56 375.54 L64.76 376.86 L62.00 378.06 L62.00 381.18 L64.28 380.22 L66.71 378.78 L66.71 392.10Z" fill="#000"/>
<path d="M93.00 435.60 H102.0" stroke="#000" stroke-width="2.8"/>
<text transform="translate(32.80,442.40) scale(1,1.055)" x="0" y="0" font-size="24" font-weight="bold" fill="#000" font-family="Liberation Sans, sans-serif">-0. 2</text><path d="M70.07 442.40 L70.07 424.52 L67.60 424.52 L66.56 425.84 L64.76 427.16 L62.00 428.36 L62.00 431.48 L64.28 430.52 L66.71 429.08 L66.71 442.40Z" fill="#000"/>
<text x="268.60" y="20.3" font-size="27.4" font-weight="bold" font-family="Liberation Sans, sans-serif">Ct (minutes)</text>
<text x="1.00" y="44" font-size="43" font-weight="bold" font-family="Liberation Sans, sans-serif">A</text>
<text transform="translate(21.00,433.6) rotate(-90)" font-size="28.7" font-family="Liberation Sans, sans-serif">Normalised Fluorescence</text>
<path d="M983.20 106.1 V437.43" stroke="#000" stroke-width="2.8" fill="none"/>
<path d="M981.80 107.5 H1476.60" stroke="#000" stroke-width="2.8" fill="none"/>
<path d="M983.20 98.8 V107.5" stroke="#000" stroke-width="2.8"/>
<text transform="translate(976.53,96.00) scale(1,1.055)" x="0" y="0" font-size="24" font-weight="bold" fill="#000" font-family="Liberation Sans, sans-serif">0</text>
<path d="M1065.20 98.8 V107.5" stroke="#000" stroke-width="2.8"/>
<text transform="translate(1051.85,96.00) scale(1,1.055)" x="0" y="0" font-size="24" font-weight="bold" fill="#000" font-family="Liberation Sans, sans-serif">20</text>
<path d="M1147.20 98.8 V107.5" stroke="#000" stroke-width="2.8"/>
<text transform="translate(1133.85,96.00) scale(1,1.055)" x="0" y="0" font-size="24" font-weight="bold" fill="#000" font-family="Liberation Sans, sans-serif">40</text>
<path d="M1229.20 98.8 V107.5" stroke="#000" stroke-width="2.8"/>
<text transform="translate(1215.85,96.00) scale(1,1.055)" x="0" y="0" font-size="24" font-weight="bold" fill="#000" font-family="Liberation Sans, sans-serif">60</text>
<path d="M1311.20 98.8 V107.5" stroke="#000" stroke-width="2.8"/>
<text transform="translate(1297.85,96.00) scale(1,1.055)" x="0" y="0" font-size="24" font-weight="bold" fill="#000" font-family="Liberation Sans, sans-serif">80</text>
<path d="M1393.20 98.8 V107.5" stroke="#000" stroke-width="2.8"/>
<text transform="translate(1373.18,96.00) scale(1,1.055)" x="0" y="0" font-size="24" font-weight="bold" fill="#000" font-family="Liberation Sans, sans-serif"> 00</text><path d="M1382.44 96.00 L1382.44 78.12 L1379.97 78.12 L1378.94 79.44 L1377.14 80.76 L1374.38 81.96 L1374.38 85.08 L1376.66 84.12 L1379.08 82.68 L1379.08 96.00Z" fill="#000"/>
<path d="M1475.20 98.8 V107.5" stroke="#000" stroke-width="2.8"/>
<text transform="translate(1455.18,96.00) scale(1,1.055)" x="0" y="0" font-size="24" font-weight="bold" fill="#000" font-family="Liberation Sans, sans-serif"> 20</text><path d="M1464.44 96.00 L1464.44 78.12 L1461.97 78.12 L1460.94 79.44 L1459.14 80.76 L1456.38 81.96 L1456.38 85.08 L1458.66 84.12 L1461.08 82.68 L1461.08 96.00Z" fill="#000"/>
<path d="M974.20 124.90 H983.2" stroke="#000" stroke-width="2.8"/>
<text transform="translate(921.99,131.70) scale(1,1.055)" x="0" y="0" font-size="24" font-weight="bold" fill="#000" font-family="Liberation Sans, sans-serif">0.00</text>
<path d="M974.20 159.47 H983.2" stroke="#000" stroke-width="2.8"/>
<text transform="translate(914.00,166.27) scale(1,1.055)" x="0" y="0" font-size="24" font-weight="bold" fill="#000" font-family="Liberation Sans, sans-serif">-0.02</text>
<path d="M974.20 194.04 H983.2" stroke="#000" stroke-width="2.8"/>
<text transform="translate(914.00,200.84) scale(1,1.055)" x="0" y="0" font-size="24" font-weight="bold" fill="#000" font-family="Liberation Sans, sans-serif">-0.04</text>
<path d="M974.20 228.61 H983.2" stroke="#000" stroke-width="2.8"/>
<text transform="translate(914.00,235.41) scale(1,1.055)" x="0" y="0" font-size="24" font-weight="bold" fill="#000" font-family="Liberation Sans, sans-serif">-0.06</text>
<path d="M974.20 263.18 H983.2" stroke="#000" stroke-width="2.8"/>
<text transform="translate(914.00,269.98) scale(1,1.055)" x="0" y="0" font-size="24" font-weight="bold" fill="#000" font-family="Liberation Sans, sans-serif">-0.08</text>
<path d="M974.20 297.75 H983.2" stroke="#000" stroke-width="2.8"/>
<text transform="translate(914.00,304.55) scale(1,1.055)" x="0" y="0" font-size="24" font-weight="bold" fill="#000" font-family="Liberation Sans, sans-serif">-0. 0</text><path d="M951.27 304.55 L951.27 286.67 L948.80 286.67 L947.76 287.99 L945.96 289.31 L943.20 290.51 L943.20 293.63 L945.48 292.67 L947.91 291.23 L947.91 304.55Z" fill="#000"/>
<path d="M974.20 332.32 H983.2" stroke="#000" stroke-width="2.8"/>
<text transform="translate(914.00,339.12) scale(1,1.055)" x="0" y="0" font-size="24" font-weight="bold" fill="#000" font-family="Liberation Sans, sans-serif">-0. 2</text><path d="M951.27 339.12 L951.27 321.24 L948.80 321.24 L947.76 322.56 L945.96 323.88 L943.20 325.08 L943.20 328.20 L945.48 327.24 L947.91 325.80 L947.91 339.12Z" fill="#000"/>
<path d="M974.20 366.89 H983.2" stroke="#000" stroke-width="2.8"/>
<text transform="translate(914.00,373.69) scale(1,1.055)" x="0" y="0" font-size="24" font-weight="bold" fill="#000" font-family="Liberation Sans, sans-serif">-0. 4</text><path d="M951.27 373.69 L951.27 355.81 L948.80 355.81 L947.76 357.13 L945.96 358.45 L943.20 359.65 L943.20 362.77 L945.48 361.81 L947.91 360.37 L947.91 373.69Z" fill="#000"/>
<path d="M974.20 401.46 H983.2" stroke="#000" stroke-width="2.8"/>
<text transform="translate(914.00,408.26) scale(1,1.055)" x="0" y="0" font-size="24" font-weight="bold" fill="#000" font-family="Liberation Sans, sans-serif">-0. 6</text><path d="M951.27 408.26 L951.27 390.38 L948.80 390.38 L947.76 391.70 L945.96 393.02 L943.20 394.22 L943.20 397.34 L945.48 396.38 L947.91 394.94 L947.91 408.26Z" fill="#000"/>
<path d="M974.20 436.03 H983.2" stroke="#000" stroke-width="2.8"/>
<text transform="translate(914.00,442.83) scale(1,1.055)" x="0" y="0" font-size="24" font-weight="bold" fill="#000" font-family="Liberation Sans, sans-serif">-0. 8</text><path d="M951.27 442.83 L951.27 424.95 L948.80 424.95 L947.76 426.27 L945.96 427.59 L943.20 428.79 L943.20 431.91 L945.48 430.95 L947.91 429.51 L947.91 442.83Z" fill="#000"/>
<text x="1149.80" y="20.3" font-size="27.4" font-weight="bold" font-family="Liberation Sans, sans-serif">Ct (minutes)</text>
<text x="880.30" y="44" font-size="43" font-weight="bold" font-family="Liberation Sans, sans-serif">B</text>
<text transform="translate(902.00,433.6) rotate(-90)" font-size="28.7" font-family="Liberation Sans, sans-serif">Normalised Fluorescence</text>
<path d="M98.60 503.90 V835.40" stroke="#000" stroke-width="2.8" fill="none"/>
<path d="M97.20 834 H593.92" stroke="#000" stroke-width="2.8" fill="none"/>
<path d="M89.00 834.00 H98.6" stroke="#000" stroke-width="2.8"/>
<text transform="translate(71.95,840.80) scale(1,1.055)" x="0" y="0" font-size="24" font-weight="bold" fill="#000" font-family="Liberation Sans, sans-serif">0</text>
<path d="M89.00 768.26 H98.6" stroke="#000" stroke-width="2.8"/>
<text transform="translate(58.60,775.06) scale(1,1.055)" x="0" y="0" font-size="24" font-weight="bold" fill="#000" font-family="Liberation Sans, sans-serif"> 0</text><path d="M67.87 775.06 L67.87 757.18 L65.40 757.18 L64.36 758.50 L62.56 759.82 L59.80 761.02 L59.80 764.14 L62.08 763.18 L64.51 761.74 L64.51 775.06Z" fill="#000"/>
<path d="M89.00 702.52 H98.6" stroke="#000" stroke-width="2.8"/>
<text transform="translate(58.60,709.32) scale(1,1.055)" x="0" y="0" font-size="24" font-weight="bold" fill="#000" font-family="Liberation Sans, sans-serif">20</text>
<path d="M89.00 636.78 H98.6" stroke="#000" stroke-width="2.8"/>
<text transform="translate(58.60,643.58) scale(1,1.055)" x="0" y="0" font-size="24" font-weight="bold" fill="#000" font-family="Liberation Sans, sans-serif">30</text>
<path d="M89.00 571.04 H98.6" stroke="#000" stroke-width="2.8"/>
<text transform="translate(58.60,577.84) scale(1,1.055)" x="0" y="0" font-size="24" font-weight="bold" fill="#000" font-family="Liberation Sans, sans-serif">40</text>
<path d="M89.00 505.30 H98.6" stroke="#000" stroke-width="2.8"/>
<text transform="translate(58.60,512.10) scale(1,1.055)" x="0" y="0" font-size="24" font-weight="bold" fill="#000" font-family="Liberation Sans, sans-serif">50</text>
<path d="M98.60 834 V843.2" stroke="#000" stroke-width="2.8"/>
<path d="M119.84 834 V839.2" stroke="#000" stroke-width="3"/>
<path d="M132.27 834 V839.2" stroke="#000" stroke-width="3"/>
<path d="M141.08 834 V839.2" stroke="#000" stroke-width="3"/>
<path d="M147.92 834 V839.2" stroke="#000" stroke-width="3"/>
<path d="M153.51 834 V839.2" stroke="#000" stroke-width="3"/>
<path d="M158.23 834 V839.2" stroke="#000" stroke-width="3"/>
<path d="M162.32 834 V839.2" stroke="#000" stroke-width="3"/>
<path d="M165.93 834 V839.2" stroke="#000" stroke-width="3"/>
<g transform="translate(105.10,866) rotate(-45)"><text transform="scale(1,1.055)" x="-37.87" y="0" font-size="24" font-weight="bold" font-family="Liberation Sans, sans-serif"> 0<tspan font-size="16.5" dy="-7.58" dx="2">0</tspan></text><path d="M-28.61 0.00 L-28.61 -17.88 L-31.08 -17.88 L-32.11 -16.56 L-33.91 -15.24 L-36.67 -14.04 L-36.67 -10.92 L-34.39 -11.88 L-31.97 -13.32 L-31.97 0.00Z" fill="#000"/></g>
<path d="M169.16 834 V843.2" stroke="#000" stroke-width="2.8"/>
<path d="M190.40 834 V839.2" stroke="#000" stroke-width="3"/>
<path d="M202.83 834 V839.2" stroke="#000" stroke-width="3"/>
<path d="M211.64 834 V839.2" stroke="#000" stroke-width="3"/>
<path d="M218.48 834 V839.2" stroke="#000" stroke-width="3"/>
<path d="M224.07 834 V839.2" stroke="#000" stroke-width="3"/>
<path d="M228.79 834 V839.2" stroke="#000" stroke-width="3"/>
<path d="M232.88 834 V839.2" stroke="#000" stroke-width="3"/>
<path d="M236.49 834 V839.2" stroke="#000" stroke-width="3"/>
<g transform="translate(175.66,866) rotate(-45)"><text transform="scale(1,1.055)" x="-37.87" y="0" font-size="24" font-weight="bold" font-family="Liberation Sans, sans-serif"> 0<tspan font-size="16.5" dy="-7.58" dx="2"> </tspan></text><path d="M-28.61 0.00 L-28.61 -17.88 L-31.08 -17.88 L-32.11 -16.56 L-33.91 -15.24 L-36.67 -14.04 L-36.67 -10.92 L-34.39 -11.88 L-31.97 -13.32 L-31.97 0.00Z M-2.81 -8.00 L-2.81 -20.29 L-4.51 -20.29 L-5.22 -19.38 L-6.45 -18.48 L-8.35 -17.65 L-8.35 -15.51 L-6.78 -16.17 L-5.12 -17.16 L-5.12 -8.00Z" fill="#000"/></g>
<path d="M239.72 834 V843.2" stroke="#000" stroke-width="2.8"/>
<path d="M260.96 834 V839.2" stroke="#000" stroke-width="3"/>
<path d="M273.39 834 V839.2" stroke="#000" stroke-width="3"/>
<path d="M282.20 834 V839.2" stroke="#000" stroke-width="3"/>
<path d="M289.04 834 V839.2" stroke="#000" stroke-width="3"/>
<path d="M294.63 834 V839.2" stroke="#000" stroke-width="3"/>
<path d="M299.35 834 V839.2" stroke="#000" stroke-width="3"/>
<path d="M303.44 834 V839.2" stroke="#000" stroke-width="3"/>
<path d="M307.05 834 V839.2" stroke="#000" stroke-width="3"/>
<g transform="translate(246.22,866) rotate(-45)"><text transform="scale(1,1.055)" x="-37.87" y="0" font-size="24" font-weight="bold" font-family="Liberation Sans, sans-serif"> 0<tspan font-size="16.5" dy="-7.58" dx="2">2</tspan></text><path d="M-28.61 0.00 L-28.61 -17.88 L-31.08 -17.88 L-32.11 -16.56 L-33.91 -15.24 L-36.67 -14.04 L-36.67 -10.92 L-34.39 -11.88 L-31.97 -13.32 L-31.97 0.00Z" fill="#000"/></g>
<path d="M310.28 834 V843.2" stroke="#000" stroke-width="2.8"/>
<path d="M331.52 834 V839.2" stroke="#000" stroke-width="3"/>
<path d="M343.95 834 V839.2" stroke="#000" stroke-width="3"/>
<path d="M352.76 834 V839.2" stroke="#000" stroke-width="3"/>
<path d="M359.60 834 V839.2" stroke="#000" stroke-width="3"/>
<path d="M365.19 834 V839.2" stroke="#000" stroke-width="3"/>
<path d="M369.91 834 V839.2" stroke="#000" stroke-width="3"/>
<path d="M374.00 834 V839.2" stroke="#000" stroke-width="3"/>
<path d="M377.61 834 V839.2" stroke="#000" stroke-width="3"/>
<g transform="translate(316.78,866) rotate(-45)"><text transform="scale(1,1.055)" x="-37.87" y="0" font-size="24" font-weight="bold" font-family="Liberation Sans, sans-serif"> 0<tspan font-size="16.5" dy="-7.58" dx="2">3</tspan></text><path d="M-28.61 0.00 L-28.61 -17.88 L-31.08 -17.88 L-32.11 -16.56 L-33.91 -15.24 L-36.67 -14.04 L-36.67 -10.92 L-34.39 -11.88 L-31.97 -13.32 L-31.97 0.00Z" fill="#000"/></g>
<path d="M380.84 834 V843.2" stroke="#000" stroke-width="2.8"/>
<path d="M402.08 834 V839.2" stroke="#000" stroke-width="3"/>
<path d="M414.51 834 V839.2" stroke="#000" stroke-width="3"/>
<path d="M423.32 834 V839.2" stroke="#000" stroke-width="3"/>
<path d="M430.16 834 V839.2" stroke="#000" stroke-width="3"/>
<path d="M435.75 834 V839.2" stroke="#000" stroke-width="3"/>
<path d="M440.47 834 V839.2" stroke="#000" stroke-width="3"/>
<path d="M444.56 834 V839.2" stroke="#000" stroke-width="3"/>
<path d="M448.17 834 V839.2" stroke="#000" stroke-width="3"/>
<g transform="translate(387.34,866) rotate(-45)"><text transform="scale(1,1.055)" x="-37.87" y="0" font-size="24" font-weight="bold" font-family="Liberation Sans, sans-serif"> 0<tspan font-size="16.5" dy="-7.58" dx="2">4</tspan></text><path d="M-28.61 0.00 L-28.61 -17.88 L-31.08 -17.88 L-32.11 -16.56 L-33.91 -15.24 L-36.67 -14.04 L-36.67 -10.92 L-34.39 -11.88 L-31.97 -13.32 L-31.97 0.00Z" fill="#000"/></g>
<path d="M451.40 834 V843.2" stroke="#000" stroke-width="2.8"/>
<path d="M472.64 834 V839.2" stroke="#000" stroke-width="3"/>
<path d="M485.07 834 V839.2" stroke="#000" stroke-width="3"/>
<path d="M493.88 834 V839.2" stroke="#000" stroke-width="3"/>
<path d="M500.72 834 V839.2" stroke="#000" stroke-width="3"/>
<path d="M506.31 834 V839.2" stroke="#000" stroke-width="3"/>
<path d="M511.03 834 V839.2" stroke="#000" stroke-width="3"/>
<path d="M515.12 834 V839.2" stroke="#000" stroke-width="3"/>
<path d="M518.73 834 V839.2" stroke="#000" stroke-width="3"/>
<g transform="translate(457.90,866) rotate(-45)"><text transform="scale(1,1.055)" x="-37.87" y="0" font-size="24" font-weight="bold" font-family="Liberation Sans, sans-serif"> 0<tspan font-size="16.5" dy="-7.58" dx="2">5</tspan></text><path d="M-28.61 0.00 L-28.61 -17.88 L-31.08 -17.88 L-32.11 -16.56 L-33.91 -15.24 L-36.67 -14.04 L-36.67 -10.92 L-34.39 -11.88 L-31.97 -13.32 L-31.97 0.00Z" fill="#000"/></g>
<path d="M521.96 834 V843.2" stroke="#000" stroke-width="2.8"/>
<path d="M543.20 834 V839.2" stroke="#000" stroke-width="3"/>
<path d="M555.63 834 V839.2" stroke="#000" stroke-width="3"/>
<path d="M564.44 834 V839.2" stroke="#000" stroke-width="3"/>
<path d="M571.28 834 V839.2" stroke="#000" stroke-width="3"/>
<path d="M576.87 834 V839.2" stroke="#000" stroke-width="3"/>
<path d="M581.59 834 V839.2" stroke="#000" stroke-width="3"/>
<path d="M585.68 834 V839.2" stroke="#000" stroke-width="3"/>
<path d="M589.29 834 V839.2" stroke="#000" stroke-width="3"/>
<g transform="translate(528.46,866) rotate(-45)"><text transform="scale(1,1.055)" x="-37.87" y="0" font-size="24" font-weight="bold" font-family="Liberation Sans, sans-serif"> 0<tspan font-size="16.5" dy="-7.58" dx="2">6</tspan></text><path d="M-28.61 0.00 L-28.61 -17.88 L-31.08 -17.88 L-32.11 -16.56 L-33.91 -15.24 L-36.67 -14.04 L-36.67 -10.92 L-34.39 -11.88 L-31.97 -13.32 L-31.97 0.00Z" fill="#000"/></g>
<path d="M592.52 834 V843.2" stroke="#000" stroke-width="2.8"/>
<g transform="translate(599.02,866) rotate(-45)"><text transform="scale(1,1.055)" x="-37.87" y="0" font-size="24" font-weight="bold" font-family="Liberation Sans, sans-serif"> 0<tspan font-size="16.5" dy="-7.58" dx="2">7</tspan></text><path d="M-28.61 0.00 L-28.61 -17.88 L-31.08 -17.88 L-32.11 -16.56 L-33.91 -15.24 L-36.67 -14.04 L-36.67 -10.92 L-34.39 -11.88 L-31.97 -13.32 L-31.97 0.00Z" fill="#000"/></g>
<text x="201.60" y="956" font-size="27" font-weight="bold" font-family="Liberation Sans, sans-serif">log (Conc in copies/<tspan font-family="Liberation Serif, serif" font-weight="normal" font-size="28">μ</tspan>l)</text>
<text x="2.40" y="525" font-size="43" font-weight="bold" font-family="Liberation Sans, sans-serif">C</text>
<text transform="translate(25.20,738.9) rotate(-90)" font-size="28.5" font-family="Liberation Sans, sans-serif">Average Ct</text>
<path d="M148.00 581.50 L570.50 703.00" stroke="#505050" stroke-width="3"/>
<path d="M148.00 571.40 L157.40 580.80 L148.00 590.20 L138.60 580.80Z" fill="#00007f"/>
<path d="M218.80 574.50 V610.50 M210.50 574.50 H227.10 M210.50 610.50 H227.10" stroke="#000" stroke-width="2" fill="none"/>
<path d="M218.80 583.10 L228.20 592.50 L218.80 601.90 L209.40 592.50Z" fill="#00007f"/>
<path d="M288.80 610.80 L298.20 620.20 L288.80 629.60 L279.40 620.20Z" fill="#00007f"/>
<path d="M359.50 643.00 V666.30 M351.20 643.00 H367.80 M351.20 666.30 H367.80" stroke="#000" stroke-width="2" fill="none"/>
<path d="M359.50 645.20 L368.90 654.60 L359.50 664.00 L350.10 654.60Z" fill="#00007f"/>
<path d="M430.00 655.50 V686.80 M421.70 655.50 H438.30 M421.70 686.80 H438.30" stroke="#000" stroke-width="2" fill="none"/>
<path d="M430.00 661.40 L439.40 670.80 L430.00 680.20 L420.60 670.80Z" fill="#00007f"/>
<path d="M500.00 692.60 L509.40 702.00 L500.00 711.40 L490.60 702.00Z" fill="#00007f"/>
<path d="M570.50 651.30 V705.00 M562.20 651.30 H578.80 M562.20 705.00 H578.80" stroke="#000" stroke-width="2" fill="none"/>
<path d="M570.50 668.60 L579.90 678.00 L570.50 687.40 L561.10 678.00Z" fill="#00007f"/>
<text transform="translate(326.70,742.4) scale(0.9628,1.035)" x="0" y="0" font-size="28" font-family="Liberation Sans, sans-serif">R<tspan font-size="20" dy="-12" dx="0.5">2</tspan><tspan dy="12"> 0.8956</tspan></text>
<text transform="translate(214.90,772) scale(0.9677,1.035)" x="0" y="0" font-size="28" font-family="Liberation Sans, sans-serif">y = -3.540x + 40.37</text>
<path d="M979.40 503.90 V835.40" stroke="#000" stroke-width="2.8" fill="none"/>
<path d="M978.00 834 H1474.72" stroke="#000" stroke-width="2.8" fill="none"/>
<path d="M969.80 834.00 H979.4" stroke="#000" stroke-width="2.8"/>
<text transform="translate(952.75,840.80) scale(1,1.055)" x="0" y="0" font-size="24" font-weight="bold" fill="#000" font-family="Liberation Sans, sans-serif">0</text>
<path d="M969.80 768.26 H979.4" stroke="#000" stroke-width="2.8"/>
<text transform="translate(939.40,775.06) scale(1,1.055)" x="0" y="0" font-size="24" font-weight="bold" fill="#000" font-family="Liberation Sans, sans-serif"> 0</text><path d="M948.67 775.06 L948.67 757.18 L946.20 757.18 L945.16 758.50 L943.36 759.82 L940.60 761.02 L940.60 764.14 L942.88 763.18 L945.31 761.74 L945.31 775.06Z" fill="#000"/>
<path d="M969.80 702.52 H979.4" stroke="#000" stroke-width="2.8"/>
<text transform="translate(939.40,709.32) scale(1,1.055)" x="0" y="0" font-size="24" font-weight="bold" fill="#000" font-family="Liberation Sans, sans-serif">20</text>
<path d="M969.80 636.78 H979.4" stroke="#000" stroke-width="2.8"/>
<text transform="translate(939.40,643.58) scale(1,1.055)" x="0" y="0" font-size="24" font-weight="bold" fill="#000" font-family="Liberation Sans, sans-serif">30</text>
<path d="M969.80 571.04 H979.4" stroke="#000" stroke-width="2.8"/>
<text transform="translate(939.40,577.84) scale(1,1.055)" x="0" y="0" font-size="24" font-weight="bold" fill="#000" font-family="Liberation Sans, sans-serif">40</text>
<path d="M969.80 505.30 H979.4" stroke="#000" stroke-width="2.8"/>
<text transform="translate(939.40,512.10) scale(1,1.055)" x="0" y="0" font-size="24" font-weight="bold" fill="#000" font-family="Liberation Sans, sans-serif">50</text>
<path d="M979.40 834 V843.2" stroke="#000" stroke-width="2.8"/>
<path d="M1000.64 834 V839.2" stroke="#000" stroke-width="3"/>
<path d="M1013.07 834 V839.2" stroke="#000" stroke-width="3"/>
<path d="M1021.88 834 V839.2" stroke="#000" stroke-width="3"/>
<path d="M1028.72 834 V839.2" stroke="#000" stroke-width="3"/>
<path d="M1034.31 834 V839.2" stroke="#000" stroke-width="3"/>
<path d="M1039.03 834 V839.2" stroke="#000" stroke-width="3"/>
<path d="M1043.12 834 V839.2" stroke="#000" stroke-width="3"/>
<path d="M1046.73 834 V839.2" stroke="#000" stroke-width="3"/>
<g transform="translate(985.90,866) rotate(-45)"><text transform="scale(1,1.055)" x="-37.87" y="0" font-size="24" font-weight="bold" font-family="Liberation Sans, sans-serif"> 0<tspan font-size="16.5" dy="-7.58" dx="2">0</tspan></text><path d="M-28.61 0.00 L-28.61 -17.88 L-31.08 -17.88 L-32.11 -16.56 L-33.91 -15.24 L-36.67 -14.04 L-36.67 -10.92 L-34.39 -11.88 L-31.97 -13.32 L-31.97 0.00Z" fill="#000"/></g>
<path d="M1049.96 834 V843.2" stroke="#000" stroke-width="2.8"/>
<path d="M1071.20 834 V839.2" stroke="#000" stroke-width="3"/>
<path d="M1083.63 834 V839.2" stroke="#000" stroke-width="3"/>
<path d="M1092.44 834 V839.2" stroke="#000" stroke-width="3"/>
<path d="M1099.28 834 V839.2" stroke="#000" stroke-width="3"/>
<path d="M1104.87 834 V839.2" stroke="#000" stroke-width="3"/>
<path d="M1109.59 834 V839.2" stroke="#000" stroke-width="3"/>
<path d="M1113.68 834 V839.2" stroke="#000" stroke-width="3"/>
<path d="M1117.29 834 V839.2" stroke="#000" stroke-width="3"/>
<g transform="translate(1056.46,866) rotate(-45)"><text transform="scale(1,1.055)" x="-37.87" y="0" font-size="24" font-weight="bold" font-family="Liberation Sans, sans-serif"> 0<tspan font-size="16.5" dy="-7.58" dx="2"> </tspan></text><path d="M-28.61 0.00 L-28.61 -17.88 L-31.08 -17.88 L-32.11 -16.56 L-33.91 -15.24 L-36.67 -14.04 L-36.67 -10.92 L-34.39 -11.88 L-31.97 -13.32 L-31.97 0.00Z M-2.81 -8.00 L-2.81 -20.29 L-4.51 -20.29 L-5.22 -19.38 L-6.45 -18.48 L-8.35 -17.65 L-8.35 -15.51 L-6.78 -16.17 L-5.12 -17.16 L-5.12 -8.00Z" fill="#000"/></g>
<path d="M1120.52 834 V843.2" stroke="#000" stroke-width="2.8"/>
<path d="M1141.76 834 V839.2" stroke="#000" stroke-width="3"/>
<path d="M1154.19 834 V839.2" stroke="#000" stroke-width="3"/>
<path d="M1163.00 834 V839.2" stroke="#000" stroke-width="3"/>
<path d="M1169.84 834 V839.2" stroke="#000" stroke-width="3"/>
<path d="M1175.43 834 V839.2" stroke="#000" stroke-width="3"/>
<path d="M1180.15 834 V839.2" stroke="#000" stroke-width="3"/>
<path d="M1184.24 834 V839.2" stroke="#000" stroke-width="3"/>
<path d="M1187.85 834 V839.2" stroke="#000" stroke-width="3"/>
<g transform="translate(1127.02,866) rotate(-45)"><text transform="scale(1,1.055)" x="-37.87" y="0" font-size="24" font-weight="bold" font-family="Liberation Sans, sans-serif"> 0<tspan font-size="16.5" dy="-7.58" dx="2">2</tspan></text><path d="M-28.61 0.00 L-28.61 -17.88 L-31.08 -17.88 L-32.11 -16.56 L-33.91 -15.24 L-36.67 -14.04 L-36.67 -10.92 L-34.39 -11.88 L-31.97 -13.32 L-31.97 0.00Z" fill="#000"/></g>
<path d="M1191.08 834 V843.2" stroke="#000" stroke-width="2.8"/>
<path d="M1212.32 834 V839.2" stroke="#000" stroke-width="3"/>
<path d="M1224.75 834 V839.2" stroke="#000" stroke-width="3"/>
<path d="M1233.56 834 V839.2" stroke="#000" stroke-width="3"/>
<path d="M1240.40 834 V839.2" stroke="#000" stroke-width="3"/>
<path d="M1245.99 834 V839.2" stroke="#000" stroke-width="3"/>
<path d="M1250.71 834 V839.2" stroke="#000" stroke-width="3"/>
<path d="M1254.80 834 V839.2" stroke="#000" stroke-width="3"/>
<path d="M1258.41 834 V839.2" stroke="#000" stroke-width="3"/>
<g transform="translate(1197.58,866) rotate(-45)"><text transform="scale(1,1.055)" x="-37.87" y="0" font-size="24" font-weight="bold" font-family="Liberation Sans, sans-serif"> 0<tspan font-size="16.5" dy="-7.58" dx="2">3</tspan></text><path d="M-28.61 0.00 L-28.61 -17.88 L-31.08 -17.88 L-32.11 -16.56 L-33.91 -15.24 L-36.67 -14.04 L-36.67 -10.92 L-34.39 -11.88 L-31.97 -13.32 L-31.97 0.00Z" fill="#000"/></g>
<path d="M1261.64 834 V843.2" stroke="#000" stroke-width="2.8"/>
<path d="M1282.88 834 V839.2" stroke="#000" stroke-width="3"/>
<path d="M1295.31 834 V839.2" stroke="#000" stroke-width="3"/>
<path d="M1304.12 834 V839.2" stroke="#000" stroke-width="3"/>
<path d="M1310.96 834 V839.2" stroke="#000" stroke-width="3"/>
<path d="M1316.55 834 V839.2" stroke="#000" stroke-width="3"/>
<path d="M1321.27 834 V839.2" stroke="#000" stroke-width="3"/>
<path d="M1325.36 834 V839.2" stroke="#000" stroke-width="3"/>
<path d="M1328.97 834 V839.2" stroke="#000" stroke-width="3"/>
<g transform="translate(1268.14,866) rotate(-45)"><text transform="scale(1,1.055)" x="-37.87" y="0" font-size="24" font-weight="bold" font-family="Liberation Sans, sans-serif"> 0<tspan font-size="16.5" dy="-7.58" dx="2">4</tspan></text><path d="M-28.61 0.00 L-28.61 -17.88 L-31.08 -17.88 L-32.11 -16.56 L-33.91 -15.24 L-36.67 -14.04 L-36.67 -10.92 L-34.39 -11.88 L-31.97 -13.32 L-31.97 0.00Z" fill="#000"/></g>
<path d="M1332.20 834 V843.2" stroke="#000" stroke-width="2.8"/>
<path d="M1353.44 834 V839.2" stroke="#000" stroke-width="3"/>
<path d="M1365.87 834 V839.2" stroke="#000" stroke-width="3"/>
<path d="M1374.68 834 V839.2" stroke="#000" stroke-width="3"/>
<path d="M1381.52 834 V839.2" stroke="#000" stroke-width="3"/>
<path d="M1387.11 834 V839.2" stroke="#000" stroke-width="3"/>
<path d="M1391.83 834 V839.2" stroke="#000" stroke-width="3"/>
<path d="M1395.92 834 V839.2" stroke="#000" stroke-width="3"/>
<path d="M1399.53 834 V839.2" stroke="#000" stroke-width="3"/>
<g transform="translate(1338.70,866) rotate(-45)"><text transform="scale(1,1.055)" x="-37.87" y="0" font-size="24" font-weight="bold" font-family="Liberation Sans, sans-serif"> 0<tspan font-size="16.5" dy="-7.58" dx="2">5</tspan></text><path d="M-28.61 0.00 L-28.61 -17.88 L-31.08 -17.88 L-32.11 -16.56 L-33.91 -15.24 L-36.67 -14.04 L-36.67 -10.92 L-34.39 -11.88 L-31.97 -13.32 L-31.97 0.00Z" fill="#000"/></g>
<path d="M1402.76 834 V843.2" stroke="#000" stroke-width="2.8"/>
<path d="M1424.00 834 V839.2" stroke="#000" stroke-width="3"/>
<path d="M1436.43 834 V839.2" stroke="#000" stroke-width="3"/>
<path d="M1445.24 834 V839.2" stroke="#000" stroke-width="3"/>
<path d="M1452.08 834 V839.2" stroke="#000" stroke-width="3"/>
<path d="M1457.67 834 V839.2" stroke="#000" stroke-width="3"/>
<path d="M1462.39 834 V839.2" stroke="#000" stroke-width="3"/>
<path d="M1466.48 834 V839.2" stroke="#000" stroke-width="3"/>
<path d="M1470.09 834 V839.2" stroke="#000" stroke-width="3"/>
<g transform="translate(1409.26,866) rotate(-45)"><text transform="scale(1,1.055)" x="-37.87" y="0" font-size="24" font-weight="bold" font-family="Liberation Sans, sans-serif"> 0<tspan font-size="16.5" dy="-7.58" dx="2">6</tspan></text><path d="M-28.61 0.00 L-28.61 -17.88 L-31.08 -17.88 L-32.11 -16.56 L-33.91 -15.24 L-36.67 -14.04 L-36.67 -10.92 L-34.39 -11.88 L-31.97 -13.32 L-31.97 0.00Z" fill="#000"/></g>
<path d="M1473.32 834 V843.2" stroke="#000" stroke-width="2.8"/>
<g transform="translate(1479.82,866) rotate(-45)"><text transform="scale(1,1.055)" x="-37.87" y="0" font-size="24" font-weight="bold" font-family="Liberation Sans, sans-serif"> 0<tspan font-size="16.5" dy="-7.58" dx="2">7</tspan></text><path d="M-28.61 0.00 L-28.61 -17.88 L-31.08 -17.88 L-32.11 -16.56 L-33.91 -15.24 L-36.67 -14.04 L-36.67 -10.92 L-34.39 -11.88 L-31.97 -13.32 L-31.97 0.00Z" fill="#000"/></g>
<text x="1082.40" y="956" font-size="27" font-weight="bold" font-family="Liberation Sans, sans-serif">log (Conc in copies/<tspan font-family="Liberation Serif, serif" font-weight="normal" font-size="28">μ</tspan>l)</text>
<text x="880.00" y="525" font-size="43" font-weight="bold" font-family="Liberation Sans, sans-serif">D</text>
<text transform="translate(906.40,738.9) rotate(-90)" font-size="28.5" font-family="Liberation Sans, sans-serif">Average Ct</text>
<path d="M1028.80 556.50 L1451.50 683.80" stroke="#505050" stroke-width="3"/>
<path d="M1028.80 546.40 L1038.20 555.80 L1028.80 565.20 L1019.40 555.80Z" fill="#00007f"/>
<path d="M1099.30 547.50 V585.00 M1091.00 547.50 H1107.60 M1091.00 585.00 H1107.60" stroke="#000" stroke-width="2" fill="none"/>
<path d="M1099.30 556.90 L1108.70 566.30 L1099.30 575.70 L1089.90 566.30Z" fill="#00007f"/>
<path d="M1169.80 591.80 L1179.20 601.20 L1169.80 610.60 L1160.40 601.20Z" fill="#00007f"/>
<path d="M1240.30 625.80 V647.00 M1232.00 625.80 H1248.60 M1232.00 647.00 H1248.60" stroke="#000" stroke-width="2" fill="none"/>
<path d="M1240.30 627.00 L1249.70 636.40 L1240.30 645.80 L1230.90 636.40Z" fill="#00007f"/>
<path d="M1310.80 630.00 V666.30 M1302.50 630.00 H1319.10 M1302.50 666.30 H1319.10" stroke="#000" stroke-width="2" fill="none"/>
<path d="M1310.80 638.10 L1320.20 647.50 L1310.80 656.90 L1301.40 647.50Z" fill="#00007f"/>
<path d="M1381.30 675.60 L1390.70 685.00 L1381.30 694.40 L1371.90 685.00Z" fill="#00007f"/>
<path d="M1451.50 620.80 V693.00 M1443.20 620.80 H1459.80 M1443.20 693.00 H1459.80" stroke="#000" stroke-width="2" fill="none"/>
<path d="M1451.50 647.60 L1460.90 657.00 L1451.50 666.40 L1442.10 657.00Z" fill="#00007f"/>
<text transform="translate(1207.40,742.4) scale(0.9628,1.035)" x="0" y="0" font-size="28" font-family="Liberation Sans, sans-serif">R<tspan font-size="20" dy="-12" dx="0.5">2</tspan><tspan dy="12"> 0.88 2</tspan></text>
<path d="M1307.18 742.40 L1307.18 721.96 L1305.62 721.96 L1304.22 723.58 L1302.33 725.04 L1299.79 726.58 L1299.79 728.82 L1302.60 727.56 L1304.89 725.74 L1304.89 742.40Z" fill="#000"/>
<text transform="translate(1096.30,772) scale(0.9677,1.035)" x="0" y="0" font-size="28" font-family="Liberation Sans, sans-serif">y = -3. 96x + 44. 5</text>
<path d="M1181.56 772.00 L1181.56 751.56 L1179.99 751.56 L1178.58 753.18 L1176.69 754.64 L1174.14 756.18 L1174.14 758.42 L1176.96 757.16 L1179.26 755.34 L1179.26 772.00Z" fill="#000"/>
<path d="M1308.87 772.00 L1308.87 751.56 L1307.30 751.56 L1305.89 753.18 L1304.00 754.64 L1301.45 756.18 L1301.45 758.42 L1304.27 757.16 L1306.57 755.34 L1306.57 772.00Z" fill="#000"/>
<path d="M647.5 169.30 H682.5" stroke="#595959" stroke-width="3.2"/>
<text x="702" y="176.80" font-size="23.4" textLength="44.6" lengthAdjust="spacingAndGlyphs" font-family="Liberation Sans, sans-serif">NTC</text>
<path d="M647.5 195.10 H682.5" stroke="#ff6400" stroke-width="3.2"/>
<text x="702" y="202.60" font-size="23.4" font-family="Liberation Sans, sans-serif">5 copies</text>
<path d="M647.5 220.70 H682.5" stroke="#0000f5" stroke-width="3.2"/>
<text x="702" y="228.20" font-size="23.4" font-family="Liberation Sans, sans-serif">50 copies</text>
<path d="M647.5 249.30 H682.5" stroke="#6e00a0" stroke-width="3.2"/>
<text x="702" y="259.70" font-size="23.4" font-family="Liberation Sans, sans-serif">5x 0<tspan font-size="16" dy="-10">2</tspan><tspan dy="10">copies</tspan></text>
<path d="M734.67 259.70 L734.67 242.62 L733.31 242.62 L732.10 243.98 L730.46 245.19 L728.26 246.48 L728.26 248.35 L730.69 247.30 L732.68 245.78 L732.68 259.70Z" fill="#000"/>
<path d="M647.5 280.80 H682.5" stroke="#007800" stroke-width="3.2"/>
<text x="702" y="291.20" font-size="23.4" font-family="Liberation Sans, sans-serif">5x 0<tspan font-size="16" dy="-10">3</tspan><tspan dy="10">copies</tspan></text>
<path d="M734.67 291.20 L734.67 274.12 L733.31 274.12 L732.10 275.48 L730.46 276.69 L728.26 277.98 L728.26 279.85 L730.69 278.80 L732.68 277.28 L732.68 291.20Z" fill="#000"/>
<path d="M647.5 312.20 H682.5" stroke="#c4c400" stroke-width="3.2"/>
<text x="702" y="322.60" font-size="23.4" font-family="Liberation Sans, sans-serif">5x 0<tspan font-size="16" dy="-10">4</tspan><tspan dy="10">copies</tspan></text>
<path d="M734.67 322.60 L734.67 305.52 L733.31 305.52 L732.10 306.88 L730.46 308.09 L728.26 309.38 L728.26 311.25 L730.69 310.20 L732.68 308.68 L732.68 322.60Z" fill="#000"/>
<path d="M647.5 343.30 H682.5" stroke="#fa0000" stroke-width="3.2"/>
<text x="702" y="353.70" font-size="23.4" font-family="Liberation Sans, sans-serif">5x 0<tspan font-size="16" dy="-10">5</tspan><tspan dy="10">copies</tspan></text>
<path d="M734.67 353.70 L734.67 336.62 L733.31 336.62 L732.10 337.98 L730.46 339.19 L728.26 340.48 L728.26 342.35 L730.69 341.30 L732.68 339.78 L732.68 353.70Z" fill="#000"/>
<path d="M647.5 374.80 H682.5" stroke="#8e5410" stroke-width="3.2"/>
<text x="702" y="385.20" font-size="23.4" font-family="Liberation Sans, sans-serif">5x 0<tspan font-size="16" dy="-10">6</tspan><tspan dy="10">copies</tspan></text>
<path d="M734.67 385.20 L734.67 368.12 L733.31 368.12 L732.10 369.48 L730.46 370.69 L728.26 371.98 L728.26 373.85 L730.69 372.80 L732.68 371.28 L732.68 385.20Z" fill="#000"/>
</svg>
</body></html>
